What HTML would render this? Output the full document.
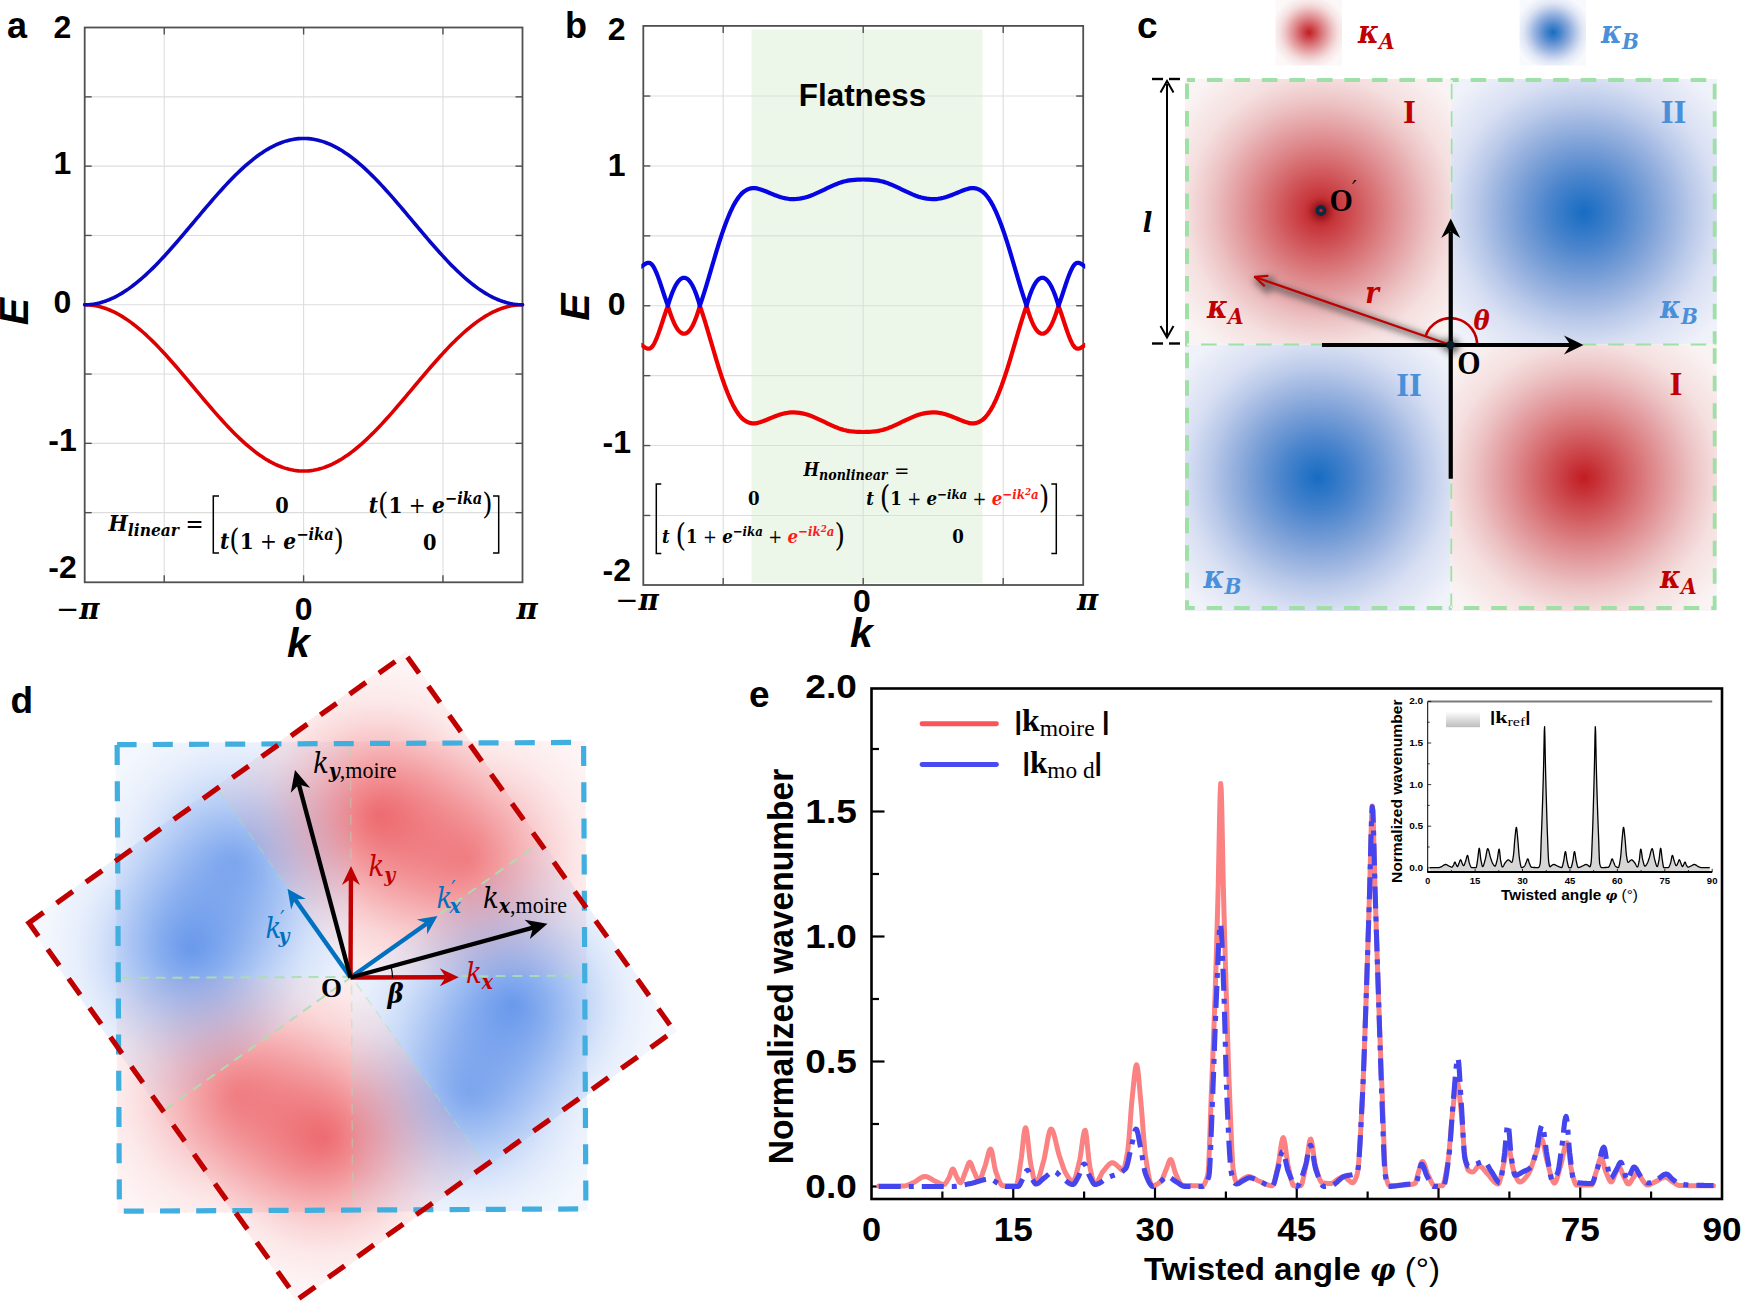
<!DOCTYPE html>
<html><head><meta charset="utf-8"><title>Figure</title>
<style>html,body{margin:0;padding:0;background:#fff;overflow:hidden}svg{display:block}</style></head>
<body>
<svg width="1745" height="1305" viewBox="0 0 1745 1305">
<rect width="1745" height="1305" fill="#fff"/>
<g id="pa">
<rect x="84.7" y="27.5" width="437.8" height="554.8" fill="#fff"/>
<line x1="164.24" y1="27.5" x2="164.24" y2="582.3" stroke="#dddddd" stroke-width="1.1" />
<line x1="303.6" y1="27.5" x2="303.6" y2="582.3" stroke="#dddddd" stroke-width="1.1" />
<line x1="442.96" y1="27.5" x2="442.96" y2="582.3" stroke="#dddddd" stroke-width="1.1" />
<line x1="84.7" y1="512.65" x2="522.5" y2="512.65" stroke="#dddddd" stroke-width="1.1" />
<line x1="84.7" y1="443.35" x2="522.5" y2="443.35" stroke="#dddddd" stroke-width="1.1" />
<line x1="84.7" y1="374.05" x2="522.5" y2="374.05" stroke="#dddddd" stroke-width="1.1" />
<line x1="84.7" y1="304.75" x2="522.5" y2="304.75" stroke="#dddddd" stroke-width="1.1" />
<line x1="84.7" y1="235.45" x2="522.5" y2="235.45" stroke="#dddddd" stroke-width="1.1" />
<line x1="84.7" y1="166.15" x2="522.5" y2="166.15" stroke="#dddddd" stroke-width="1.1" />
<line x1="84.7" y1="96.85" x2="522.5" y2="96.85" stroke="#dddddd" stroke-width="1.1" />
<line x1="164.24" y1="27.5" x2="164.24" y2="34.5" stroke="#505050" stroke-width="1.4" />
<line x1="164.24" y1="582.3" x2="164.24" y2="575.3" stroke="#505050" stroke-width="1.4" />
<line x1="303.6" y1="27.5" x2="303.6" y2="34.5" stroke="#505050" stroke-width="1.4" />
<line x1="303.6" y1="582.3" x2="303.6" y2="575.3" stroke="#505050" stroke-width="1.4" />
<line x1="442.96" y1="27.5" x2="442.96" y2="34.5" stroke="#505050" stroke-width="1.4" />
<line x1="442.96" y1="582.3" x2="442.96" y2="575.3" stroke="#505050" stroke-width="1.4" />
<line x1="84.7" y1="512.65" x2="91.7" y2="512.65" stroke="#505050" stroke-width="1.4" />
<line x1="522.5" y1="512.65" x2="515.5" y2="512.65" stroke="#505050" stroke-width="1.4" />
<line x1="84.7" y1="443.35" x2="91.7" y2="443.35" stroke="#505050" stroke-width="1.4" />
<line x1="522.5" y1="443.35" x2="515.5" y2="443.35" stroke="#505050" stroke-width="1.4" />
<line x1="84.7" y1="374.05" x2="91.7" y2="374.05" stroke="#505050" stroke-width="1.4" />
<line x1="522.5" y1="374.05" x2="515.5" y2="374.05" stroke="#505050" stroke-width="1.4" />
<line x1="84.7" y1="304.75" x2="91.7" y2="304.75" stroke="#505050" stroke-width="1.4" />
<line x1="522.5" y1="304.75" x2="515.5" y2="304.75" stroke="#505050" stroke-width="1.4" />
<line x1="84.7" y1="235.45" x2="91.7" y2="235.45" stroke="#505050" stroke-width="1.4" />
<line x1="522.5" y1="235.45" x2="515.5" y2="235.45" stroke="#505050" stroke-width="1.4" />
<line x1="84.7" y1="166.15" x2="91.7" y2="166.15" stroke="#505050" stroke-width="1.4" />
<line x1="522.5" y1="166.15" x2="515.5" y2="166.15" stroke="#505050" stroke-width="1.4" />
<line x1="84.7" y1="96.85" x2="91.7" y2="96.85" stroke="#505050" stroke-width="1.4" />
<line x1="522.5" y1="96.85" x2="515.5" y2="96.85" stroke="#505050" stroke-width="1.4" />
<rect x="84.7" y="27.5" width="437.8" height="554.8" fill="none" stroke="#505050" stroke-width="1.8"/>
<path d="M84.69,304.75 L87.13,304.8 L89.56,304.95 L91.99,305.21 L94.42,305.56 L96.86,306.01 L99.29,306.57 L101.72,307.22 L104.15,307.97 L106.58,308.82 L109.02,309.77 L111.45,310.81 L113.88,311.94 L116.31,313.17 L118.75,314.48 L121.18,315.89 L123.61,317.39 L126.04,318.97 L128.48,320.63 L130.91,322.38 L133.34,324.21 L135.77,326.11 L138.2,328.09 L140.64,330.14 L143.07,332.27 L145.5,334.46 L147.93,336.71 L150.37,339.03 L152.8,341.41 L155.23,343.84 L157.66,346.33 L160.09,348.87 L162.53,351.46 L164.96,354.09 L167.39,356.76 L169.82,359.47 L172.26,362.21 L174.69,364.99 L177.12,367.79 L179.55,370.62 L181.99,373.47 L184.42,376.34 L186.85,379.22 L189.28,382.11 L191.71,385.01 L194.15,387.91 L196.58,390.81 L199.01,393.71 L201.44,396.6 L203.88,399.48 L206.31,402.35 L208.74,405.2 L211.17,408.03 L213.61,410.83 L216.04,413.61 L218.47,416.35 L220.9,419.06 L223.33,421.73 L225.77,424.36 L228.2,426.95 L230.63,429.49 L233.06,431.98 L235.5,434.41 L237.93,436.79 L240.36,439.11 L242.79,441.36 L245.23,443.55 L247.66,445.68 L250.09,447.73 L252.52,449.71 L254.95,451.61 L257.39,453.44 L259.82,455.19 L262.25,456.85 L264.68,458.43 L267.12,459.93 L269.55,461.34 L271.98,462.65 L274.41,463.88 L276.84,465.01 L279.28,466.05 L281.71,467 L284.14,467.85 L286.57,468.6 L289.01,469.25 L291.44,469.81 L293.87,470.26 L296.3,470.61 L298.74,470.87 L301.17,471.02 L303.6,471.07 L306.03,471.02 L308.46,470.87 L310.9,470.61 L313.33,470.26 L315.76,469.81 L318.19,469.25 L320.63,468.6 L323.06,467.85 L325.49,467 L327.92,466.05 L330.36,465.01 L332.79,463.88 L335.22,462.65 L337.65,461.34 L340.08,459.93 L342.52,458.43 L344.95,456.85 L347.38,455.19 L349.81,453.44 L352.25,451.61 L354.68,449.71 L357.11,447.73 L359.54,445.68 L361.97,443.55 L364.41,441.36 L366.84,439.11 L369.27,436.79 L371.7,434.41 L374.14,431.98 L376.57,429.49 L379,426.95 L381.43,424.36 L383.87,421.73 L386.3,419.06 L388.73,416.35 L391.16,413.61 L393.59,410.83 L396.03,408.03 L398.46,405.2 L400.89,402.35 L403.32,399.48 L405.76,396.6 L408.19,393.71 L410.62,390.81 L413.05,387.91 L415.49,385.01 L417.92,382.11 L420.35,379.22 L422.78,376.34 L425.21,373.47 L427.65,370.62 L430.08,367.79 L432.51,364.99 L434.94,362.21 L437.38,359.47 L439.81,356.76 L442.24,354.09 L444.67,351.46 L447.11,348.87 L449.54,346.33 L451.97,343.84 L454.4,341.41 L456.83,339.03 L459.27,336.71 L461.7,334.46 L464.13,332.27 L466.56,330.14 L469,328.09 L471.43,326.11 L473.86,324.21 L476.29,322.38 L478.72,320.63 L481.16,318.97 L483.59,317.39 L486.02,315.89 L488.45,314.48 L490.89,313.17 L493.32,311.94 L495.75,310.81 L498.18,309.77 L500.62,308.82 L503.05,307.97 L505.48,307.22 L507.91,306.57 L510.34,306.01 L512.78,305.56 L515.21,305.21 L517.64,304.95 L520.07,304.8 L522.51,304.75" fill="none" stroke="#dc0000" stroke-width="3.6" stroke-linejoin="round" stroke-linecap="round" />
<path d="M84.69,304.75 L87.13,304.7 L89.56,304.55 L91.99,304.29 L94.42,303.94 L96.86,303.49 L99.29,302.93 L101.72,302.28 L104.15,301.53 L106.58,300.68 L109.02,299.73 L111.45,298.69 L113.88,297.56 L116.31,296.33 L118.75,295.02 L121.18,293.61 L123.61,292.11 L126.04,290.53 L128.48,288.87 L130.91,287.12 L133.34,285.29 L135.77,283.39 L138.2,281.41 L140.64,279.36 L143.07,277.23 L145.5,275.04 L147.93,272.79 L150.37,270.47 L152.8,268.09 L155.23,265.66 L157.66,263.17 L160.09,260.63 L162.53,258.04 L164.96,255.41 L167.39,252.74 L169.82,250.03 L172.26,247.29 L174.69,244.51 L177.12,241.71 L179.55,238.88 L181.99,236.03 L184.42,233.16 L186.85,230.28 L189.28,227.39 L191.71,224.49 L194.15,221.59 L196.58,218.69 L199.01,215.79 L201.44,212.9 L203.88,210.02 L206.31,207.15 L208.74,204.3 L211.17,201.47 L213.61,198.67 L216.04,195.89 L218.47,193.15 L220.9,190.44 L223.33,187.77 L225.77,185.14 L228.2,182.55 L230.63,180.01 L233.06,177.52 L235.5,175.09 L237.93,172.71 L240.36,170.39 L242.79,168.14 L245.23,165.95 L247.66,163.82 L250.09,161.77 L252.52,159.79 L254.95,157.89 L257.39,156.06 L259.82,154.31 L262.25,152.65 L264.68,151.07 L267.12,149.57 L269.55,148.16 L271.98,146.85 L274.41,145.62 L276.84,144.49 L279.28,143.45 L281.71,142.5 L284.14,141.65 L286.57,140.9 L289.01,140.25 L291.44,139.69 L293.87,139.24 L296.3,138.89 L298.74,138.63 L301.17,138.48 L303.6,138.43 L306.03,138.48 L308.46,138.63 L310.9,138.89 L313.33,139.24 L315.76,139.69 L318.19,140.25 L320.63,140.9 L323.06,141.65 L325.49,142.5 L327.92,143.45 L330.36,144.49 L332.79,145.62 L335.22,146.85 L337.65,148.16 L340.08,149.57 L342.52,151.07 L344.95,152.65 L347.38,154.31 L349.81,156.06 L352.25,157.89 L354.68,159.79 L357.11,161.77 L359.54,163.82 L361.97,165.95 L364.41,168.14 L366.84,170.39 L369.27,172.71 L371.7,175.09 L374.14,177.52 L376.57,180.01 L379,182.55 L381.43,185.14 L383.87,187.77 L386.3,190.44 L388.73,193.15 L391.16,195.89 L393.59,198.67 L396.03,201.47 L398.46,204.3 L400.89,207.15 L403.32,210.02 L405.76,212.9 L408.19,215.79 L410.62,218.69 L413.05,221.59 L415.49,224.49 L417.92,227.39 L420.35,230.28 L422.78,233.16 L425.21,236.03 L427.65,238.88 L430.08,241.71 L432.51,244.51 L434.94,247.29 L437.38,250.03 L439.81,252.74 L442.24,255.41 L444.67,258.04 L447.11,260.63 L449.54,263.17 L451.97,265.66 L454.4,268.09 L456.83,270.47 L459.27,272.79 L461.7,275.04 L464.13,277.23 L466.56,279.36 L469,281.41 L471.43,283.39 L473.86,285.29 L476.29,287.12 L478.72,288.87 L481.16,290.53 L483.59,292.11 L486.02,293.61 L488.45,295.02 L490.89,296.33 L493.32,297.56 L495.75,298.69 L498.18,299.73 L500.62,300.68 L503.05,301.53 L505.48,302.28 L507.91,302.93 L510.34,303.49 L512.78,303.94 L515.21,304.29 L517.64,304.55 L520.07,304.7 L522.51,304.75" fill="none" stroke="#0808c4" stroke-width="3.6" stroke-linejoin="round" stroke-linecap="round" />
<text x="7" y="37.5" font-family='"Liberation Sans", Arial, sans-serif' font-size="36" font-weight="bold" font-style="normal" fill="#000" text-anchor="start" >a</text>
<text x="62.5" y="37.5" font-family='"Liberation Sans", Arial, sans-serif' font-size="32" font-weight="bold" font-style="normal" fill="#000" text-anchor="middle" >2</text>
<text x="62.5" y="174" font-family='"Liberation Sans", Arial, sans-serif' font-size="32" font-weight="bold" font-style="normal" fill="#000" text-anchor="middle" >1</text>
<text x="62.5" y="313.2" font-family='"Liberation Sans", Arial, sans-serif' font-size="32" font-weight="bold" font-style="normal" fill="#000" text-anchor="middle" >0</text>
<text x="62.5" y="451.3" font-family='"Liberation Sans", Arial, sans-serif' font-size="32" font-weight="bold" font-style="normal" fill="#000" text-anchor="middle" >-1</text>
<text x="62.5" y="577.5" font-family='"Liberation Sans", Arial, sans-serif' font-size="32" font-weight="bold" font-style="normal" fill="#000" text-anchor="middle" >-2</text>
<text x="0" y="0" font-family='"Liberation Sans", Arial, sans-serif' font-size="41" font-weight="bold" font-style="italic" fill="#000" text-anchor="middle" transform="translate(28 311.5) rotate(-90)">E</text>
<text x="303.75" y="619.8" font-family='"Liberation Sans", Arial, sans-serif' font-size="32" font-weight="bold" font-style="normal" fill="#000" text-anchor="middle" >0</text>
<text x="56" y="618.8" font-family='"DejaVu Serif", "Liberation Serif", serif' font-size="29" font-weight="bold" font-style="italic" fill="#000" text-anchor="start" textLength="43.5" lengthAdjust="spacingAndGlyphs"><tspan font-weight="normal">−</tspan>π</text>
<text x="527" y="618.8" font-family='"DejaVu Serif", "Liberation Serif", serif' font-size="29" font-weight="bold" font-style="italic" fill="#000" text-anchor="middle" >π</text>
<text x="298.5" y="657" font-family='"Liberation Sans", Arial, sans-serif' font-size="41" font-weight="bold" font-style="italic" fill="#000" text-anchor="middle" >k</text>
<text x="108.5" y="531.3" font-family='"DejaVu Serif Condensed", "DejaVu Serif", "Liberation Serif", serif' font-size="22.5" font-weight="bold" font-style="italic" fill="#000" text-anchor="start" textLength="70.5" lengthAdjust="spacingAndGlyphs">H<tspan font-size="17" dy="4.3">linear</tspan></text>
<text x="194.5" y="532" font-family='"DejaVu Serif Condensed", "DejaVu Serif", "Liberation Serif", serif' font-size="24" font-weight="normal" font-style="normal" fill="#000" text-anchor="middle" >=</text>
<path d="M219,496 h-5.7 v57 h5.7" fill="none" stroke="#000" stroke-width="1.5"/>
<path d="M493,496 h5.7 v57 h-5.7" fill="none" stroke="#000" stroke-width="1.5"/>
<text x="220" y="548.8" font-family='"DejaVu Serif Condensed", "DejaVu Serif", "Liberation Serif", serif' font-size="22" font-weight="bold" font-style="italic" fill="#000" text-anchor="start" textLength="124" lengthAdjust="spacingAndGlyphs">t<tspan font-style="normal" font-weight="normal" font-size="29" dy="1.5">(</tspan><tspan dy="-1.5" font-style="normal">1</tspan><tspan font-style="normal" font-weight="normal"> + </tspan>e<tspan font-size="16" dy="-8.8">−ika</tspan><tspan font-style="normal" font-weight="normal" font-size="29" dy="10.3">)</tspan></text>
<text x="368.7" y="512.6" font-family='"DejaVu Serif Condensed", "DejaVu Serif", "Liberation Serif", serif' font-size="22" font-weight="bold" font-style="italic" fill="#000" text-anchor="start" textLength="124" lengthAdjust="spacingAndGlyphs">t<tspan font-style="normal" font-weight="normal" font-size="29" dy="1.5">(</tspan><tspan dy="-1.5" font-style="normal">1</tspan><tspan font-style="normal" font-weight="normal"> + </tspan>e<tspan font-size="16" dy="-8.8">−ika</tspan><tspan font-style="normal" font-weight="normal" font-size="29" dy="10.3">)</tspan></text>
<text x="282" y="513" font-family='"DejaVu Serif Condensed", "DejaVu Serif", "Liberation Serif", serif' font-size="21.5" font-weight="bold" font-style="normal" fill="#000" text-anchor="middle" >0</text>
<text x="429.7" y="549.5" font-family='"DejaVu Serif Condensed", "DejaVu Serif", "Liberation Serif", serif' font-size="21.5" font-weight="bold" font-style="normal" fill="#000" text-anchor="middle" >0</text>
</g>
<g id="pb">
<rect x="643.3" y="25.9" width="439.9" height="559.1" fill="#fff"/>
<rect x="751.5" y="29.5" width="231" height="553.5" fill="#edf7e9"/>
<line x1="723.2" y1="25.9" x2="723.2" y2="585" stroke="#dddddd" stroke-width="1.1" />
<line x1="863.2" y1="25.9" x2="863.2" y2="585" stroke="#dddddd" stroke-width="1.1" />
<line x1="1003.2" y1="25.9" x2="1003.2" y2="585" stroke="#dddddd" stroke-width="1.1" />
<line x1="643.3" y1="515.45" x2="1083.2" y2="515.45" stroke="#dddddd" stroke-width="1.1" />
<line x1="643.3" y1="445.55" x2="1083.2" y2="445.55" stroke="#dddddd" stroke-width="1.1" />
<line x1="643.3" y1="375.65" x2="1083.2" y2="375.65" stroke="#dddddd" stroke-width="1.1" />
<line x1="643.3" y1="305.75" x2="1083.2" y2="305.75" stroke="#dddddd" stroke-width="1.1" />
<line x1="643.3" y1="235.85" x2="1083.2" y2="235.85" stroke="#dddddd" stroke-width="1.1" />
<line x1="643.3" y1="165.95" x2="1083.2" y2="165.95" stroke="#dddddd" stroke-width="1.1" />
<line x1="643.3" y1="96.05" x2="1083.2" y2="96.05" stroke="#dddddd" stroke-width="1.1" />
<line x1="723.2" y1="25.9" x2="723.2" y2="32.9" stroke="#505050" stroke-width="1.4" />
<line x1="723.2" y1="585" x2="723.2" y2="578" stroke="#505050" stroke-width="1.4" />
<line x1="863.2" y1="25.9" x2="863.2" y2="32.9" stroke="#505050" stroke-width="1.4" />
<line x1="863.2" y1="585" x2="863.2" y2="578" stroke="#505050" stroke-width="1.4" />
<line x1="1003.2" y1="25.9" x2="1003.2" y2="32.9" stroke="#505050" stroke-width="1.4" />
<line x1="1003.2" y1="585" x2="1003.2" y2="578" stroke="#505050" stroke-width="1.4" />
<line x1="643.3" y1="515.45" x2="650.3" y2="515.45" stroke="#505050" stroke-width="1.4" />
<line x1="1083.2" y1="515.45" x2="1076.2" y2="515.45" stroke="#505050" stroke-width="1.4" />
<line x1="643.3" y1="445.55" x2="650.3" y2="445.55" stroke="#505050" stroke-width="1.4" />
<line x1="1083.2" y1="445.55" x2="1076.2" y2="445.55" stroke="#505050" stroke-width="1.4" />
<line x1="643.3" y1="375.65" x2="650.3" y2="375.65" stroke="#505050" stroke-width="1.4" />
<line x1="1083.2" y1="375.65" x2="1076.2" y2="375.65" stroke="#505050" stroke-width="1.4" />
<line x1="643.3" y1="305.75" x2="650.3" y2="305.75" stroke="#505050" stroke-width="1.4" />
<line x1="1083.2" y1="305.75" x2="1076.2" y2="305.75" stroke="#505050" stroke-width="1.4" />
<line x1="643.3" y1="235.85" x2="650.3" y2="235.85" stroke="#505050" stroke-width="1.4" />
<line x1="1083.2" y1="235.85" x2="1076.2" y2="235.85" stroke="#505050" stroke-width="1.4" />
<line x1="643.3" y1="165.95" x2="650.3" y2="165.95" stroke="#505050" stroke-width="1.4" />
<line x1="1083.2" y1="165.95" x2="1076.2" y2="165.95" stroke="#505050" stroke-width="1.4" />
<line x1="643.3" y1="96.05" x2="650.3" y2="96.05" stroke="#505050" stroke-width="1.4" />
<line x1="1083.2" y1="96.05" x2="1076.2" y2="96.05" stroke="#505050" stroke-width="1.4" />
<rect x="643.3" y="25.9" width="439.9" height="559.1" fill="none" stroke="#505050" stroke-width="1.8"/>
<clipPath id="cpb"><rect x="641.3" y="25.9" width="443.9000000000001" height="559.1"/></clipPath>
<g clip-path="url(#cpb)">
<path d="M641.19,344.89 L641.64,345.18 L642.09,345.48 L642.55,345.79 L643,346.1 L643.45,346.42 L643.9,346.73 L644.36,347.04 L644.81,347.33 L645.26,347.6 L645.72,347.86 L646.17,348.09 L646.62,348.28 L647.07,348.45 L647.53,348.57 L647.98,348.66 L648.43,348.69 L648.89,348.67 L649.34,348.6 L649.79,348.46 L650.24,348.26 L650.7,347.99 L651.15,347.65 L651.6,347.23 L652.05,346.73 L652.51,346.17 L652.96,345.53 L653.41,344.83 L653.87,344.07 L654.32,343.24 L654.77,342.36 L655.22,341.43 L655.68,340.44 L656.13,339.41 L656.58,338.33 L657.03,337.22 L657.49,336.06 L657.94,334.87 L658.39,333.64 L658.85,332.39 L659.3,331.11 L659.75,329.8 L660.2,328.48 L660.66,327.14 L661.11,325.78 L661.56,324.41 L662.01,323.04 L662.47,321.66 L662.92,320.27 L663.37,318.89 L663.83,317.51 L664.28,316.14 L664.73,314.77 L665.18,313.42 L665.64,312.09 L666.09,310.77 L666.54,309.47 L666.99,308.2 L667.45,306.96 L667.9,305.75 L667.9,305.75 L668.44,307.57 L668.98,309.33 L669.52,311.03 L670.06,312.67 L670.61,314.26 L671.15,315.78 L671.69,317.23 L672.23,318.63 L672.77,319.97 L673.31,321.25 L673.85,322.46 L674.39,323.62 L674.93,324.71 L675.47,325.74 L676.02,326.71 L676.56,327.62 L677.1,328.46 L677.64,329.25 L678.18,329.97 L678.72,330.62 L679.26,331.22 L679.8,331.75 L680.34,332.22 L680.88,332.63 L681.43,332.97 L681.97,333.25 L682.51,333.46 L683.05,333.62 L683.59,333.7 L684.13,333.73 L684.67,333.69 L685.21,333.58 L685.75,333.41 L686.29,333.18 L686.84,332.88 L687.38,332.52 L687.92,332.09 L688.46,331.59 L689,331.03 L689.54,330.4 L690.08,329.71 L690.62,328.95 L691.16,328.13 L691.7,327.23 L692.25,326.28 L692.79,325.25 L693.33,324.16 L693.87,323 L694.41,321.77 L694.95,320.48 L695.49,319.11 L696.03,317.68 L696.57,316.18 L697.11,314.62 L697.66,312.98 L698.2,311.28 L698.74,309.5 L699.28,307.66 L699.82,305.75 L699.82,305.75 L702.59,313.94 L705.36,322.72 L708.13,331.9 L710.9,341.3 L713.67,350.75 L716.43,360.07 L719.2,369.08 L721.97,377.59 L724.74,385.52 L727.51,392.8 L730.28,399.37 L733.05,405.16 L735.82,410.13 L738.59,414.27 L741.36,417.58 L744.13,420.09 L746.9,421.83 L749.66,422.89 L752.43,423.35 L755.2,423.31 L757.97,422.84 L760.74,422.06 L763.51,421.06 L766.28,419.94 L769.05,418.77 L771.82,417.6 L774.59,416.47 L777.36,415.42 L780.13,414.5 L782.89,413.74 L785.66,413.13 L788.43,412.71 L791.2,412.46 L793.97,412.41 L796.74,412.54 L799.51,412.86 L802.28,413.35 L805.05,414.02 L807.82,414.84 L810.59,415.81 L813.36,416.88 L816.12,418.06 L818.89,419.3 L821.66,420.61 L824.43,421.94 L827.2,423.28 L829.97,424.6 L832.74,425.87 L835.51,427.07 L838.28,428.16 L841.05,429.12 L843.82,429.92 L846.59,430.57 L849.35,431.07 L852.12,431.44 L854.89,431.71 L857.66,431.87 L860.43,431.96 L863.2,431.99 L863.2,431.99 L865.97,431.96 L868.74,431.87 L871.51,431.71 L874.28,431.44 L877.05,431.07 L879.81,430.57 L882.58,429.92 L885.35,429.12 L888.12,428.16 L890.89,427.07 L893.66,425.87 L896.43,424.6 L899.2,423.28 L901.97,421.94 L904.74,420.61 L907.51,419.3 L910.28,418.06 L913.04,416.88 L915.81,415.81 L918.58,414.84 L921.35,414.02 L924.12,413.35 L926.89,412.86 L929.66,412.54 L932.43,412.41 L935.2,412.46 L937.97,412.71 L940.74,413.13 L943.51,413.74 L946.27,414.5 L949.04,415.42 L951.81,416.47 L954.58,417.6 L957.35,418.77 L960.12,419.94 L962.89,421.06 L965.66,422.06 L968.43,422.84 L971.2,423.31 L973.97,423.35 L976.74,422.89 L979.5,421.83 L982.27,420.09 L985.04,417.58 L987.81,414.27 L990.58,410.13 L993.35,405.16 L996.12,399.37 L998.89,392.8 L1001.66,385.52 L1004.43,377.59 L1007.2,369.08 L1009.97,360.07 L1012.73,350.75 L1015.5,341.3 L1018.27,331.9 L1021.04,322.72 L1023.81,313.94 L1026.58,305.75 L1026.58,305.75 L1027.12,307.66 L1027.66,309.5 L1028.2,311.28 L1028.74,312.98 L1029.29,314.62 L1029.83,316.18 L1030.37,317.68 L1030.91,319.11 L1031.45,320.48 L1031.99,321.77 L1032.53,323 L1033.07,324.16 L1033.61,325.25 L1034.15,326.28 L1034.7,327.23 L1035.24,328.13 L1035.78,328.95 L1036.32,329.71 L1036.86,330.4 L1037.4,331.03 L1037.94,331.59 L1038.48,332.09 L1039.02,332.52 L1039.56,332.88 L1040.11,333.18 L1040.65,333.41 L1041.19,333.58 L1041.73,333.69 L1042.27,333.73 L1042.81,333.7 L1043.35,333.62 L1043.89,333.46 L1044.43,333.25 L1044.97,332.97 L1045.52,332.63 L1046.06,332.22 L1046.6,331.75 L1047.14,331.22 L1047.68,330.62 L1048.22,329.97 L1048.76,329.25 L1049.3,328.46 L1049.84,327.62 L1050.38,326.71 L1050.93,325.74 L1051.47,324.71 L1052.01,323.62 L1052.55,322.46 L1053.09,321.25 L1053.63,319.97 L1054.17,318.63 L1054.71,317.23 L1055.25,315.78 L1055.79,314.26 L1056.34,312.67 L1056.88,311.03 L1057.42,309.33 L1057.96,307.57 L1058.5,305.75 L1058.5,305.75 L1058.95,306.96 L1059.41,308.2 L1059.86,309.47 L1060.31,310.77 L1060.76,312.09 L1061.22,313.42 L1061.67,314.77 L1062.12,316.14 L1062.57,317.51 L1063.03,318.89 L1063.48,320.27 L1063.93,321.66 L1064.39,323.04 L1064.84,324.41 L1065.29,325.78 L1065.74,327.14 L1066.2,328.48 L1066.65,329.8 L1067.1,331.11 L1067.55,332.39 L1068.01,333.64 L1068.46,334.87 L1068.91,336.06 L1069.37,337.22 L1069.82,338.33 L1070.27,339.41 L1070.72,340.44 L1071.18,341.43 L1071.63,342.36 L1072.08,343.24 L1072.53,344.07 L1072.99,344.83 L1073.44,345.53 L1073.89,346.17 L1074.35,346.73 L1074.8,347.23 L1075.25,347.65 L1075.7,347.99 L1076.16,348.26 L1076.61,348.46 L1077.06,348.6 L1077.51,348.67 L1077.97,348.69 L1078.42,348.66 L1078.87,348.57 L1079.33,348.45 L1079.78,348.28 L1080.23,348.09 L1080.68,347.86 L1081.14,347.6 L1081.59,347.33 L1082.04,347.04 L1082.5,346.73 L1082.95,346.42 L1083.4,346.1 L1083.85,345.79 L1084.31,345.48 L1084.76,345.18 L1085.21,344.89" fill="none" stroke="#ee0000" stroke-width="4.2" stroke-linejoin="round" stroke-linecap="round" />
<path d="M641.19,266.61 L641.64,266.32 L642.09,266.02 L642.55,265.71 L643,265.4 L643.45,265.08 L643.9,264.77 L644.36,264.46 L644.81,264.17 L645.26,263.9 L645.72,263.64 L646.17,263.41 L646.62,263.22 L647.07,263.05 L647.53,262.93 L647.98,262.84 L648.43,262.81 L648.89,262.83 L649.34,262.9 L649.79,263.04 L650.24,263.24 L650.7,263.51 L651.15,263.85 L651.6,264.27 L652.05,264.77 L652.51,265.33 L652.96,265.97 L653.41,266.67 L653.87,267.43 L654.32,268.26 L654.77,269.14 L655.22,270.07 L655.68,271.06 L656.13,272.09 L656.58,273.17 L657.03,274.28 L657.49,275.44 L657.94,276.63 L658.39,277.86 L658.85,279.11 L659.3,280.39 L659.75,281.7 L660.2,283.02 L660.66,284.36 L661.11,285.72 L661.56,287.09 L662.01,288.46 L662.47,289.84 L662.92,291.23 L663.37,292.61 L663.83,293.99 L664.28,295.36 L664.73,296.73 L665.18,298.08 L665.64,299.41 L666.09,300.73 L666.54,302.03 L666.99,303.3 L667.45,304.54 L667.9,305.75 L667.9,305.75 L668.44,303.93 L668.98,302.17 L669.52,300.47 L670.06,298.83 L670.61,297.24 L671.15,295.72 L671.69,294.27 L672.23,292.87 L672.77,291.53 L673.31,290.25 L673.85,289.04 L674.39,287.88 L674.93,286.79 L675.47,285.76 L676.02,284.79 L676.56,283.88 L677.1,283.04 L677.64,282.25 L678.18,281.53 L678.72,280.88 L679.26,280.28 L679.8,279.75 L680.34,279.28 L680.88,278.87 L681.43,278.53 L681.97,278.25 L682.51,278.04 L683.05,277.88 L683.59,277.8 L684.13,277.77 L684.67,277.81 L685.21,277.92 L685.75,278.09 L686.29,278.32 L686.84,278.62 L687.38,278.98 L687.92,279.41 L688.46,279.91 L689,280.47 L689.54,281.1 L690.08,281.79 L690.62,282.55 L691.16,283.37 L691.7,284.27 L692.25,285.22 L692.79,286.25 L693.33,287.34 L693.87,288.5 L694.41,289.73 L694.95,291.02 L695.49,292.39 L696.03,293.82 L696.57,295.32 L697.11,296.88 L697.66,298.52 L698.2,300.22 L698.74,302 L699.28,303.84 L699.82,305.75 L699.82,305.75 L702.59,297.56 L705.36,288.78 L708.13,279.6 L710.9,270.2 L713.67,260.75 L716.43,251.43 L719.2,242.42 L721.97,233.91 L724.74,225.98 L727.51,218.7 L730.28,212.13 L733.05,206.34 L735.82,201.37 L738.59,197.23 L741.36,193.92 L744.13,191.41 L746.9,189.67 L749.66,188.61 L752.43,188.15 L755.2,188.19 L757.97,188.66 L760.74,189.44 L763.51,190.44 L766.28,191.56 L769.05,192.73 L771.82,193.9 L774.59,195.03 L777.36,196.08 L780.13,197 L782.89,197.76 L785.66,198.37 L788.43,198.79 L791.2,199.04 L793.97,199.09 L796.74,198.96 L799.51,198.64 L802.28,198.15 L805.05,197.48 L807.82,196.66 L810.59,195.69 L813.36,194.62 L816.12,193.44 L818.89,192.2 L821.66,190.89 L824.43,189.56 L827.2,188.22 L829.97,186.9 L832.74,185.63 L835.51,184.43 L838.28,183.34 L841.05,182.38 L843.82,181.58 L846.59,180.93 L849.35,180.43 L852.12,180.06 L854.89,179.79 L857.66,179.63 L860.43,179.54 L863.2,179.51 L863.2,179.51 L865.97,179.54 L868.74,179.63 L871.51,179.79 L874.28,180.06 L877.05,180.43 L879.81,180.93 L882.58,181.58 L885.35,182.38 L888.12,183.34 L890.89,184.43 L893.66,185.63 L896.43,186.9 L899.2,188.22 L901.97,189.56 L904.74,190.89 L907.51,192.2 L910.28,193.44 L913.04,194.62 L915.81,195.69 L918.58,196.66 L921.35,197.48 L924.12,198.15 L926.89,198.64 L929.66,198.96 L932.43,199.09 L935.2,199.04 L937.97,198.79 L940.74,198.37 L943.51,197.76 L946.27,197 L949.04,196.08 L951.81,195.03 L954.58,193.9 L957.35,192.73 L960.12,191.56 L962.89,190.44 L965.66,189.44 L968.43,188.66 L971.2,188.19 L973.97,188.15 L976.74,188.61 L979.5,189.67 L982.27,191.41 L985.04,193.92 L987.81,197.23 L990.58,201.37 L993.35,206.34 L996.12,212.13 L998.89,218.7 L1001.66,225.98 L1004.43,233.91 L1007.2,242.42 L1009.97,251.43 L1012.73,260.75 L1015.5,270.2 L1018.27,279.6 L1021.04,288.78 L1023.81,297.56 L1026.58,305.75 L1026.58,305.75 L1027.12,303.84 L1027.66,302 L1028.2,300.22 L1028.74,298.52 L1029.29,296.88 L1029.83,295.32 L1030.37,293.82 L1030.91,292.39 L1031.45,291.02 L1031.99,289.73 L1032.53,288.5 L1033.07,287.34 L1033.61,286.25 L1034.15,285.22 L1034.7,284.27 L1035.24,283.37 L1035.78,282.55 L1036.32,281.79 L1036.86,281.1 L1037.4,280.47 L1037.94,279.91 L1038.48,279.41 L1039.02,278.98 L1039.56,278.62 L1040.11,278.32 L1040.65,278.09 L1041.19,277.92 L1041.73,277.81 L1042.27,277.77 L1042.81,277.8 L1043.35,277.88 L1043.89,278.04 L1044.43,278.25 L1044.97,278.53 L1045.52,278.87 L1046.06,279.28 L1046.6,279.75 L1047.14,280.28 L1047.68,280.88 L1048.22,281.53 L1048.76,282.25 L1049.3,283.04 L1049.84,283.88 L1050.38,284.79 L1050.93,285.76 L1051.47,286.79 L1052.01,287.88 L1052.55,289.04 L1053.09,290.25 L1053.63,291.53 L1054.17,292.87 L1054.71,294.27 L1055.25,295.72 L1055.79,297.24 L1056.34,298.83 L1056.88,300.47 L1057.42,302.17 L1057.96,303.93 L1058.5,305.75 L1058.5,305.75 L1058.95,304.54 L1059.41,303.3 L1059.86,302.03 L1060.31,300.73 L1060.76,299.41 L1061.22,298.08 L1061.67,296.73 L1062.12,295.36 L1062.57,293.99 L1063.03,292.61 L1063.48,291.23 L1063.93,289.84 L1064.39,288.46 L1064.84,287.09 L1065.29,285.72 L1065.74,284.36 L1066.2,283.02 L1066.65,281.7 L1067.1,280.39 L1067.55,279.11 L1068.01,277.86 L1068.46,276.63 L1068.91,275.44 L1069.37,274.28 L1069.82,273.17 L1070.27,272.09 L1070.72,271.06 L1071.18,270.07 L1071.63,269.14 L1072.08,268.26 L1072.53,267.43 L1072.99,266.67 L1073.44,265.97 L1073.89,265.33 L1074.35,264.77 L1074.8,264.27 L1075.25,263.85 L1075.7,263.51 L1076.16,263.24 L1076.61,263.04 L1077.06,262.9 L1077.51,262.83 L1077.97,262.81 L1078.42,262.84 L1078.87,262.93 L1079.33,263.05 L1079.78,263.22 L1080.23,263.41 L1080.68,263.64 L1081.14,263.9 L1081.59,264.17 L1082.04,264.46 L1082.5,264.77 L1082.95,265.08 L1083.4,265.4 L1083.85,265.71 L1084.31,266.02 L1084.76,266.32 L1085.21,266.61" fill="none" stroke="#0606e4" stroke-width="4.2" stroke-linejoin="round" stroke-linecap="round" />
</g>
<text x="565" y="37.5" font-family='"Liberation Sans", Arial, sans-serif' font-size="36" font-weight="bold" font-style="normal" fill="#000" text-anchor="start" >b</text>
<text x="616.7" y="40" font-family='"Liberation Sans", Arial, sans-serif' font-size="32" font-weight="bold" font-style="normal" fill="#000" text-anchor="middle" >2</text>
<text x="616.7" y="175.5" font-family='"Liberation Sans", Arial, sans-serif' font-size="32" font-weight="bold" font-style="normal" fill="#000" text-anchor="middle" >1</text>
<text x="616.7" y="315" font-family='"Liberation Sans", Arial, sans-serif' font-size="32" font-weight="bold" font-style="normal" fill="#000" text-anchor="middle" >0</text>
<text x="616.7" y="453" font-family='"Liberation Sans", Arial, sans-serif' font-size="32" font-weight="bold" font-style="normal" fill="#000" text-anchor="middle" >-1</text>
<text x="616.7" y="581.3" font-family='"Liberation Sans", Arial, sans-serif' font-size="32" font-weight="bold" font-style="normal" fill="#000" text-anchor="middle" >-2</text>
<text x="0" y="0" font-family='"Liberation Sans", Arial, sans-serif' font-size="41" font-weight="bold" font-style="italic" fill="#000" text-anchor="middle" transform="translate(589.3 307) rotate(-90)">E</text>
<text x="862" y="611.5" font-family='"Liberation Sans", Arial, sans-serif' font-size="32" font-weight="bold" font-style="normal" fill="#000" text-anchor="middle" >0</text>
<text x="615.3" y="610.3" font-family='"DejaVu Serif", "Liberation Serif", serif' font-size="29" font-weight="bold" font-style="italic" fill="#000" text-anchor="start" textLength="43.5" lengthAdjust="spacingAndGlyphs"><tspan font-weight="normal">−</tspan>π</text>
<text x="1087.5" y="610.3" font-family='"DejaVu Serif", "Liberation Serif", serif' font-size="29" font-weight="bold" font-style="italic" fill="#000" text-anchor="middle" >π</text>
<text x="861.5" y="647" font-family='"Liberation Sans", Arial, sans-serif' font-size="41" font-weight="bold" font-style="italic" fill="#000" text-anchor="middle" >k</text>
<text x="862.5" y="106.3" font-family='"Liberation Sans", Arial, sans-serif' font-size="31" font-weight="bold" font-style="normal" fill="#000" text-anchor="middle" textLength="127.5" lengthAdjust="spacingAndGlyphs">Flatness</text>
<text x="803.5" y="476.3" font-family='"DejaVu Serif Condensed", "DejaVu Serif", "Liberation Serif", serif' font-size="19" font-weight="bold" font-style="italic" fill="#000" text-anchor="start" textLength="84" lengthAdjust="spacingAndGlyphs">H<tspan font-size="14.5" dy="3.8">nonlinear</tspan></text>
<text x="901.7" y="477.5" font-family='"DejaVu Serif Condensed", "DejaVu Serif", "Liberation Serif", serif' font-size="20" font-weight="normal" font-style="normal" fill="#000" text-anchor="middle" >=</text>
<path d="M661.3,484 h-5 v69.5 h5" fill="none" stroke="#000" stroke-width="1.5"/>
<path d="M1051.3,484 h5 v69.5 h-5" fill="none" stroke="#000" stroke-width="1.5"/>
<text x="662" y="542.5" font-family='"DejaVu Serif Condensed", "DejaVu Serif", "Liberation Serif", serif' font-size="19" font-weight="bold" font-style="italic" fill="#000" text-anchor="start" textLength="183" lengthAdjust="spacingAndGlyphs">t <tspan font-style="normal" font-weight="normal" font-size="31" dy="3">(</tspan><tspan dy="-3" font-style="normal">1</tspan><tspan font-style="normal" font-weight="normal"> + </tspan>e<tspan font-size="13.5" dy="-6.5">−ika</tspan><tspan dy="6.5" font-style="normal" font-weight="normal"> + </tspan><tspan fill="#ff1a1a">e<tspan font-size="13.5" dy="-6.5">−ik<tspan font-size="10" dy="-4">2</tspan><tspan dy="4">a</tspan></tspan></tspan><tspan font-style="normal" font-weight="normal" font-size="31" dy="9.5">)</tspan></text>
<text x="866.3" y="505" font-family='"DejaVu Serif Condensed", "DejaVu Serif", "Liberation Serif", serif' font-size="19" font-weight="bold" font-style="italic" fill="#000" text-anchor="start" textLength="183" lengthAdjust="spacingAndGlyphs">t <tspan font-style="normal" font-weight="normal" font-size="31" dy="3">(</tspan><tspan dy="-3" font-style="normal">1</tspan><tspan font-style="normal" font-weight="normal"> + </tspan>e<tspan font-size="13.5" dy="-6.5">−ika</tspan><tspan dy="6.5" font-style="normal" font-weight="normal"> + </tspan><tspan fill="#ff1a1a">e<tspan font-size="13.5" dy="-6.5">−ik<tspan font-size="10" dy="-4">2</tspan><tspan dy="4">a</tspan></tspan></tspan><tspan font-style="normal" font-weight="normal" font-size="31" dy="9.5">)</tspan></text>
<text x="753.8" y="505" font-family='"DejaVu Serif Condensed", "DejaVu Serif", "Liberation Serif", serif' font-size="18.5" font-weight="bold" font-style="normal" fill="#000" text-anchor="middle" >0</text>
<text x="958" y="543" font-family='"DejaVu Serif Condensed", "DejaVu Serif", "Liberation Serif", serif' font-size="18.5" font-weight="bold" font-style="normal" fill="#000" text-anchor="middle" >0</text>
</g>
<g id="pc">
<defs>
<radialGradient id="cq1" gradientUnits="userSpaceOnUse" cx="1320.5" cy="211.5" r="172"><stop offset="0" stop-color="#c11c22"/><stop offset="0.2" stop-color="#cf5256"/><stop offset="0.39" stop-color="#dd8588"/><stop offset="0.5" stop-color="#e4a1a4"/><stop offset="0.64" stop-color="#edc4c5"/><stop offset="0.78" stop-color="#f5dfdf"/><stop offset="1" stop-color="#faf3f3"/></radialGradient>
<radialGradient id="cq2" gradientUnits="userSpaceOnUse" cx="1584" cy="212.5" r="172"><stop offset="0" stop-color="#166cc2"/><stop offset="0.2" stop-color="#4883cc"/><stop offset="0.39" stop-color="#7ba0d7"/><stop offset="0.5" stop-color="#98b2df"/><stop offset="0.64" stop-color="#bccbea"/><stop offset="0.78" stop-color="#d9e0f3"/><stop offset="1" stop-color="#f0f2fa"/></radialGradient>
<radialGradient id="cq3" gradientUnits="userSpaceOnUse" cx="1318" cy="477.5" r="172"><stop offset="0" stop-color="#166cc2"/><stop offset="0.2" stop-color="#4883cc"/><stop offset="0.39" stop-color="#7ba0d7"/><stop offset="0.5" stop-color="#98b2df"/><stop offset="0.64" stop-color="#bccbea"/><stop offset="0.78" stop-color="#d9e0f3"/><stop offset="1" stop-color="#f0f2fa"/></radialGradient>
<radialGradient id="cq4" gradientUnits="userSpaceOnUse" cx="1584" cy="478" r="172"><stop offset="0" stop-color="#c11c22"/><stop offset="0.2" stop-color="#cf5256"/><stop offset="0.39" stop-color="#dd8588"/><stop offset="0.5" stop-color="#e4a1a4"/><stop offset="0.64" stop-color="#edc4c5"/><stop offset="0.78" stop-color="#f5dfdf"/><stop offset="1" stop-color="#faf3f3"/></radialGradient>
<radialGradient id="clg1" gradientUnits="userSpaceOnUse" cx="1309" cy="32.5" r="38"><stop offset="0" stop-color="#c11c22"/><stop offset="0.2" stop-color="#d05358"/><stop offset="0.39" stop-color="#de888b"/><stop offset="0.5" stop-color="#e6a4a7"/><stop offset="0.64" stop-color="#efc8c9"/><stop offset="0.78" stop-color="#f6e3e4"/><stop offset="1" stop-color="#fcf8f8"/></radialGradient>
<radialGradient id="clg2" gradientUnits="userSpaceOnUse" cx="1553" cy="32.5" r="38"><stop offset="0" stop-color="#166cc2"/><stop offset="0.2" stop-color="#4a85cc"/><stop offset="0.39" stop-color="#7fa3d9"/><stop offset="0.5" stop-color="#9cb6e1"/><stop offset="0.64" stop-color="#c2d0ec"/><stop offset="0.78" stop-color="#e0e7f5"/><stop offset="1" stop-color="#f8f9fd"/></radialGradient>
<filter id="cblur" x="-20%" y="-50%" width="140%" height="200%"><feGaussianBlur stdDeviation="3.2"/></filter>
<filter id="cblur2" x="-100%" y="-100%" width="300%" height="300%"><feGaussianBlur stdDeviation="3.5"/></filter>
</defs>
<rect x="1185" y="79" width="265.75" height="265.5" fill="url(#cq1)"/>
<rect x="1450.75" y="79" width="266.25" height="265.5" fill="url(#cq2)"/>
<rect x="1185" y="344.5" width="265.75" height="266.5" fill="url(#cq3)"/>
<rect x="1450.75" y="344.5" width="266.25" height="266.5" fill="url(#cq4)"/>
<rect x="1275.5" y="0" width="66.5" height="65.5" fill="url(#clg1)"/>
<rect x="1519.5" y="0" width="66.5" height="65.5" fill="url(#clg2)"/>
<text x="1358" y="42.5" font-family='"DejaVu Serif Condensed", "DejaVu Serif", "Liberation Serif", serif' font-size="31" font-weight="bold" font-style="italic" fill="#c00000" text-anchor="start" >κ<tspan font-size="22.32" dy="6.82">A</tspan></text>
<text x="1601" y="42.5" font-family='"DejaVu Serif Condensed", "DejaVu Serif", "Liberation Serif", serif' font-size="31" font-weight="bold" font-style="italic" fill="#4a90d9" text-anchor="start" >κ<tspan font-size="22.32" dy="6.82">B</tspan></text>
<clipPath id="ccp"><path clip-rule="evenodd" d="M1180,70 H1725 V620 H1180 Z M1189,82 V606 H1712.5 V82 Z"/><rect x="1450.75" y="80" width="1.9" height="139"/><rect x="1450.35" y="479" width="1.9" height="129"/><rect x="1187" y="343.6" width="135" height="1.9"/><rect x="1583" y="343.6" width="131" height="1.9"/></clipPath>
<g clip-path="url(#ccp)" fill="none" stroke="#9fe0a6" stroke-width="4">
<rect x="1187" y="80" width="263.75" height="264.5" stroke-dasharray="15.6 11.9" stroke-dashoffset="7.6"/>
<rect x="1450.75" y="344.5" width="263.75" height="263.5" stroke-dasharray="15.6 11.9" stroke-dashoffset="7.6"/>
<path d="M1450.75,80 H1714.5 V344.5" stroke-dasharray="15.6 11.9" stroke-dashoffset="7.6"/>
<path d="M1450.75,608 H1187 V344.5" stroke-dasharray="15.6 11.9" stroke-dashoffset="19"/>
</g>
<path d="M1453.5,347 L1258,281 M1258,281 L1267.47,289.91 M1258,281 L1270.95,279.89" stroke="#4a4a4a" stroke-opacity="0.62" stroke-width="7.5" stroke-linecap="round" fill="none" filter="url(#cblur)"/>
<circle cx="1451.5" cy="346" r="8" fill="#333" fill-opacity="0.5" filter="url(#cblur2)"/>
<line x1="1450.5" y1="345" x2="1255" y2="277" stroke="#c00000" stroke-width="2.3" />
<line x1="1255" y1="277" x2="1264.11" y2="285.56" stroke="#c00000" stroke-width="2.3" stroke-linecap="round"/>
<line x1="1255" y1="277" x2="1267.45" y2="275.94" stroke="#c00000" stroke-width="2.3" stroke-linecap="round"/>
<path d="M1477,347 A26.5,26.5 0 0 0 1425.47,336.29" fill="none" stroke="#c00000" stroke-width="2.6"/>
<line x1="1322" y1="345" x2="1572" y2="345" stroke="#000" stroke-width="4.2" />
<line x1="1450.75" y1="478.75" x2="1450.75" y2="232" stroke="#000" stroke-width="4.2" />
<polygon points="1583.5,345 1564,354.5 1570.5,345 1564,335.5" fill="#000"/>
<polygon points="1450.75,218.5 1460.25,238 1450.75,231.5 1441.25,238" fill="#000"/>
<circle cx="1450.5" cy="345" r="4.2" fill="#0a1c2c"/>
<circle cx="1321" cy="211" r="9" fill="#400" fill-opacity="0.5" filter="url(#cblur2)"/>
<circle cx="1321" cy="210.5" r="3.6" fill="#d81818" stroke="#0c2a44" stroke-width="3.6"/>
<text x="0" y="0" font-family='"Liberation Serif", "DejaVu Serif", serif' font-size="30" font-weight="bold" font-style="normal" fill="#000" text-anchor="start" transform="translate(1329.5 211.3) scale(1 1.08)">O</text>
<text x="1352" y="196" font-family='"DejaVu Serif Condensed", "DejaVu Serif", "Liberation Serif", serif' font-size="22" font-weight="normal" font-style="italic" fill="#000" text-anchor="start" >′</text>
<text x="0" y="0" font-family='"Liberation Serif", "DejaVu Serif", serif' font-size="30" font-weight="bold" font-style="normal" fill="#000" text-anchor="start" transform="translate(1457.3 373.6) scale(1 1.13)">O</text>
<text x="1409.5" y="122.5" font-family='"Liberation Serif", "DejaVu Serif", serif' font-size="33" font-weight="bold" font-style="normal" fill="#c00000" text-anchor="middle" >I</text>
<text x="1673.5" y="122.5" font-family='"Liberation Serif", "DejaVu Serif", serif' font-size="33" font-weight="bold" font-style="normal" fill="#4a90d9" text-anchor="middle" >II</text>
<text x="1409" y="395.5" font-family='"Liberation Serif", "DejaVu Serif", serif' font-size="33" font-weight="bold" font-style="normal" fill="#4a90d9" text-anchor="middle" >II</text>
<text x="1676" y="395" font-family='"Liberation Serif", "DejaVu Serif", serif' font-size="33" font-weight="bold" font-style="normal" fill="#c00000" text-anchor="middle" >I</text>
<text x="1207" y="317.5" font-family='"DejaVu Serif Condensed", "DejaVu Serif", "Liberation Serif", serif' font-size="31" font-weight="bold" font-style="italic" fill="#c00000" text-anchor="start" >κ<tspan font-size="22.32" dy="6.82">A</tspan></text>
<text x="1660" y="317.5" font-family='"DejaVu Serif Condensed", "DejaVu Serif", "Liberation Serif", serif' font-size="31" font-weight="bold" font-style="italic" fill="#4a90d9" text-anchor="start" >κ<tspan font-size="22.32" dy="6.82">B</tspan></text>
<text x="1203.5" y="587.5" font-family='"DejaVu Serif Condensed", "DejaVu Serif", "Liberation Serif", serif' font-size="31" font-weight="bold" font-style="italic" fill="#4a90d9" text-anchor="start" >κ<tspan font-size="22.32" dy="6.82">B</tspan></text>
<text x="1660" y="587.5" font-family='"DejaVu Serif Condensed", "DejaVu Serif", "Liberation Serif", serif' font-size="31" font-weight="bold" font-style="italic" fill="#c00000" text-anchor="start" >κ<tspan font-size="22.32" dy="6.82">A</tspan></text>
<text x="1372" y="302.5" font-family='"DejaVu Serif Condensed", "DejaVu Serif", "Liberation Serif", serif' font-size="29" font-weight="bold" font-style="italic" fill="#c00000" text-anchor="middle" >r</text>
<text x="1481.5" y="330" font-family='"DejaVu Serif Condensed", "DejaVu Serif", "Liberation Serif", serif' font-size="27" font-weight="bold" font-style="italic" fill="#c00000" text-anchor="middle" >θ</text>
<line x1="1167" y1="84" x2="1167" y2="335" stroke="#000" stroke-width="2" />
<path d="M1160.5,92.5 L1167,81 L1173.5,92.5" fill="none" stroke="#000" stroke-width="2" stroke-linejoin="miter"/>
<path d="M1160.5,326 L1167,337.5 L1173.5,326" fill="none" stroke="#000" stroke-width="2" stroke-linejoin="miter"/>
<line x1="1152" y1="79" x2="1163" y2="79" stroke="#000" stroke-width="2.4" />
<line x1="1169" y1="79" x2="1180" y2="79" stroke="#000" stroke-width="2.4" />
<line x1="1152" y1="343.5" x2="1163" y2="343.5" stroke="#000" stroke-width="2.4" />
<line x1="1169" y1="343.5" x2="1180" y2="343.5" stroke="#000" stroke-width="2.4" />
<text x="1147.5" y="232" font-family='"DejaVu Serif Condensed", "DejaVu Serif", "Liberation Serif", serif' font-size="28" font-weight="bold" font-style="italic" fill="#000" text-anchor="middle" >l</text>
<text x="1137" y="37.5" font-family='"Liberation Sans", Arial, sans-serif' font-size="37" font-weight="bold" font-style="normal" fill="#000" text-anchor="start" >c</text>
</g>
<g id="pd">
<defs>
<radialGradient id="dgB1" gradientUnits="userSpaceOnUse" cx="-116.5" cy="-116.5" r="148"><stop offset="0" stop-color="#1c64e1" stop-opacity="0.500"/><stop offset="0.1" stop-color="#1c64e1" stop-opacity="0.460"/><stop offset="0.2" stop-color="#1c64e1" stop-opacity="0.405"/><stop offset="0.39" stop-color="#1c64e1" stop-opacity="0.288"/><stop offset="0.5" stop-color="#1c64e1" stop-opacity="0.221"/><stop offset="0.64" stop-color="#1c64e1" stop-opacity="0.149"/><stop offset="0.78" stop-color="#1c64e1" stop-opacity="0.093"/><stop offset="1" stop-color="#1c64e1" stop-opacity="0.050"/></radialGradient>
<radialGradient id="dgR1" gradientUnits="userSpaceOnUse" cx="116.5" cy="-116.5" r="148"><stop offset="0" stop-color="#e41e26" stop-opacity="0.500"/><stop offset="0.1" stop-color="#e41e26" stop-opacity="0.460"/><stop offset="0.2" stop-color="#e41e26" stop-opacity="0.405"/><stop offset="0.39" stop-color="#e41e26" stop-opacity="0.288"/><stop offset="0.5" stop-color="#e41e26" stop-opacity="0.221"/><stop offset="0.64" stop-color="#e41e26" stop-opacity="0.149"/><stop offset="0.78" stop-color="#e41e26" stop-opacity="0.093"/><stop offset="1" stop-color="#e41e26" stop-opacity="0.050"/></radialGradient>
<radialGradient id="dgR2" gradientUnits="userSpaceOnUse" cx="-116.5" cy="116.5" r="148"><stop offset="0" stop-color="#e41e26" stop-opacity="0.500"/><stop offset="0.1" stop-color="#e41e26" stop-opacity="0.460"/><stop offset="0.2" stop-color="#e41e26" stop-opacity="0.405"/><stop offset="0.39" stop-color="#e41e26" stop-opacity="0.288"/><stop offset="0.5" stop-color="#e41e26" stop-opacity="0.221"/><stop offset="0.64" stop-color="#e41e26" stop-opacity="0.149"/><stop offset="0.78" stop-color="#e41e26" stop-opacity="0.093"/><stop offset="1" stop-color="#e41e26" stop-opacity="0.050"/></radialGradient>
<radialGradient id="dgB2" gradientUnits="userSpaceOnUse" cx="116.5" cy="116.5" r="148"><stop offset="0" stop-color="#1c64e1" stop-opacity="0.500"/><stop offset="0.1" stop-color="#1c64e1" stop-opacity="0.460"/><stop offset="0.2" stop-color="#1c64e1" stop-opacity="0.405"/><stop offset="0.39" stop-color="#1c64e1" stop-opacity="0.288"/><stop offset="0.5" stop-color="#1c64e1" stop-opacity="0.221"/><stop offset="0.64" stop-color="#1c64e1" stop-opacity="0.149"/><stop offset="0.78" stop-color="#1c64e1" stop-opacity="0.093"/><stop offset="1" stop-color="#1c64e1" stop-opacity="0.050"/></radialGradient>
<radialGradient id="dgB1t" gradientUnits="userSpaceOnUse" cx="-116.5" cy="-116.5" r="148"><stop offset="0" stop-color="#1c64e1" stop-opacity="0.600"/><stop offset="0.1" stop-color="#1c64e1" stop-opacity="0.550"/><stop offset="0.2" stop-color="#1c64e1" stop-opacity="0.484"/><stop offset="0.39" stop-color="#1c64e1" stop-opacity="0.342"/><stop offset="0.5" stop-color="#1c64e1" stop-opacity="0.259"/><stop offset="0.64" stop-color="#1c64e1" stop-opacity="0.171"/><stop offset="0.78" stop-color="#1c64e1" stop-opacity="0.102"/><stop offset="1" stop-color="#1c64e1" stop-opacity="0.050"/></radialGradient>
<radialGradient id="dgR1t" gradientUnits="userSpaceOnUse" cx="116.5" cy="-116.5" r="148"><stop offset="0" stop-color="#e41e26" stop-opacity="0.600"/><stop offset="0.1" stop-color="#e41e26" stop-opacity="0.550"/><stop offset="0.2" stop-color="#e41e26" stop-opacity="0.484"/><stop offset="0.39" stop-color="#e41e26" stop-opacity="0.342"/><stop offset="0.5" stop-color="#e41e26" stop-opacity="0.259"/><stop offset="0.64" stop-color="#e41e26" stop-opacity="0.171"/><stop offset="0.78" stop-color="#e41e26" stop-opacity="0.102"/><stop offset="1" stop-color="#e41e26" stop-opacity="0.050"/></radialGradient>
<radialGradient id="dgR2t" gradientUnits="userSpaceOnUse" cx="-116.5" cy="116.5" r="148"><stop offset="0" stop-color="#e41e26" stop-opacity="0.600"/><stop offset="0.1" stop-color="#e41e26" stop-opacity="0.550"/><stop offset="0.2" stop-color="#e41e26" stop-opacity="0.484"/><stop offset="0.39" stop-color="#e41e26" stop-opacity="0.342"/><stop offset="0.5" stop-color="#e41e26" stop-opacity="0.259"/><stop offset="0.64" stop-color="#e41e26" stop-opacity="0.171"/><stop offset="0.78" stop-color="#e41e26" stop-opacity="0.102"/><stop offset="1" stop-color="#e41e26" stop-opacity="0.050"/></radialGradient>
<radialGradient id="dgB2t" gradientUnits="userSpaceOnUse" cx="116.5" cy="116.5" r="148"><stop offset="0" stop-color="#1c64e1" stop-opacity="0.600"/><stop offset="0.1" stop-color="#1c64e1" stop-opacity="0.550"/><stop offset="0.2" stop-color="#1c64e1" stop-opacity="0.484"/><stop offset="0.39" stop-color="#1c64e1" stop-opacity="0.342"/><stop offset="0.5" stop-color="#1c64e1" stop-opacity="0.259"/><stop offset="0.64" stop-color="#1c64e1" stop-opacity="0.171"/><stop offset="0.78" stop-color="#1c64e1" stop-opacity="0.102"/><stop offset="1" stop-color="#1c64e1" stop-opacity="0.050"/></radialGradient>
<g id="dlay">
<rect x="-235" y="-235" width="235" height="235" fill="url(#dgB1)"/>
<rect x="0" y="-235" width="235" height="235" fill="url(#dgR1)"/>
<rect x="-235" y="0" width="235" height="235" fill="url(#dgR2)"/>
<rect x="0" y="0" width="235" height="235" fill="url(#dgB2)"/>
</g>
<g id="dlayt">
<rect x="-235" y="-235" width="235" height="235" fill="url(#dgB1t)"/>
<rect x="0" y="-235" width="235" height="235" fill="url(#dgR1t)"/>
<rect x="-235" y="0" width="235" height="235" fill="url(#dgR2t)"/>
<rect x="0" y="0" width="235" height="235" fill="url(#dgB2t)"/>
</g>
</defs>
<use href="#dlay" transform="translate(351.5 976.8) rotate(-0.28)"/>
<use href="#dlayt" transform="translate(351.5 976.8) rotate(-35.5) scale(0.993)"/>
<g transform="translate(351.5 976.8) rotate(-0.28)" stroke="#a9dfb0" stroke-dasharray="10 7" fill="none"><line x1="-230" y1="0" x2="230" y2="0" stroke-width="2" opacity="0.9"/><line x1="0" y1="-230" x2="0" y2="230" stroke-width="1.5" opacity="0.45"/></g>
<g transform="translate(351.5 976.8) rotate(-35.5) scale(0.993)" stroke="#a9dfb0" stroke-dasharray="10 7" fill="none"><line x1="-230" y1="0" x2="230" y2="0" stroke-width="2" opacity="0.9"/><line x1="0" y1="-230" x2="0" y2="230" stroke-width="1.5" opacity="0.45"/></g>
<rect x="118.25" y="743.55" width="466.5" height="466.5" fill="none" stroke="#41aee0" stroke-width="5.2" stroke-dasharray="20 16.2" stroke-dashoffset="0.5" transform="rotate(-0.28 351.5 976.8)"/>
<rect x="-231.3" y="-231.3" width="462.6" height="462.6" fill="none" stroke="#c00000" stroke-width="5.2" stroke-dasharray="20 16" stroke-dashoffset="2" transform="translate(351.5 976.8) rotate(-35.5)"/>
<line x1="350.5" y1="977.5" x2="295.02" y2="899.35" stroke="#0070c0" stroke-width="4.4" /><polygon points="287.5,888.75 305.84,899.03 295.02,899.35 291.16,909.45" fill="#0070c0"/>
<line x1="350.5" y1="977.5" x2="426.88" y2="923.5" stroke="#0070c0" stroke-width="4.4" /><polygon points="437.5,916 427.18,934.32 426.88,923.5 416.79,919.62" fill="#0070c0"/>
<line x1="350.5" y1="977.5" x2="350.94" y2="879" stroke="#c00000" stroke-width="4.4" /><polygon points="351,866 359.91,885.04 350.94,879 341.91,884.96" fill="#c00000"/>
<line x1="350.5" y1="977.5" x2="445.8" y2="977.32" stroke="#c00000" stroke-width="4.4" /><polygon points="458.8,977.3 439.82,986.34 445.8,977.32 439.78,968.34" fill="#c00000"/>
<line x1="350.5" y1="977.5" x2="298.88" y2="784.49" stroke="#000" stroke-width="4.4" /><polygon points="295,770 310.09,787.7 298.88,784.49 290.77,792.87" fill="#000"/>
<line x1="350.5" y1="977.5" x2="533.03" y2="927.7" stroke="#000" stroke-width="4.4" /><polygon points="547.5,923.75 529.87,938.92 533.03,927.7 524.61,919.63" fill="#000"/>
<path d="M392.5,977.5 A42,42 0 0 0 391.01,966.42" fill="none" stroke="#000" stroke-width="1.2"/>
<text x="313" y="772.5" font-family='"DejaVu Serif Condensed", "DejaVu Serif", "Liberation Serif", serif' font-size="29" font-weight="normal" font-style="italic" fill="#000" text-anchor="start" >k<tspan font-weight="bold" font-size="20.88" dy="5.8">y</tspan><tspan font-style="normal" font-family='"Liberation Serif", "DejaVu Serif", serif' font-size="22.04">,moire</tspan></text>
<text x="483" y="907.5" font-family='"DejaVu Serif Condensed", "DejaVu Serif", "Liberation Serif", serif' font-size="29" font-weight="normal" font-style="italic" fill="#000" text-anchor="start" >k<tspan font-weight="bold" font-size="20.88" dy="5.8">x</tspan><tspan font-style="normal" font-family='"Liberation Serif", "DejaVu Serif", serif' font-size="22.04">,moire</tspan></text>
<text x="368.5" y="876" font-family='"DejaVu Serif Condensed", "DejaVu Serif", "Liberation Serif", serif' font-size="29" font-weight="normal" font-style="italic" fill="#c00000" text-anchor="start" >k<tspan font-weight="bold" font-size="20.88" dy="5.8">y</tspan></text>
<text x="466" y="983.3" font-family='"DejaVu Serif Condensed", "DejaVu Serif", "Liberation Serif", serif' font-size="29" font-weight="normal" font-style="italic" fill="#c00000" text-anchor="start" >k<tspan font-weight="bold" font-size="20.88" dy="5.8">x</tspan></text>
<text x="436.5" y="907.5" font-family='"DejaVu Serif Condensed", "DejaVu Serif", "Liberation Serif", serif' font-size="29" font-weight="normal" font-style="italic" fill="#0070c0" text-anchor="start" >k<tspan font-size="20.3" dy="-12.18" dx="-1">′</tspan><tspan font-weight="bold" font-size="20.88" dy="17.98" dx="-6">x</tspan></text>
<text x="265.5" y="937.5" font-family='"DejaVu Serif Condensed", "DejaVu Serif", "Liberation Serif", serif' font-size="29" font-weight="normal" font-style="italic" fill="#0070c0" text-anchor="start" >k<tspan font-size="20.3" dy="-12.18" dx="-1">′</tspan><tspan font-weight="bold" font-size="20.88" dy="17.98" dx="-6">y</tspan></text>
<text x="321" y="997.3" font-family='"Liberation Serif", "DejaVu Serif", serif' font-size="27" font-weight="bold" font-style="normal" fill="#000" text-anchor="start" >O</text>
<text x="395.5" y="1003" font-family='"DejaVu Serif Condensed", "DejaVu Serif", "Liberation Serif", serif' font-size="27" font-weight="bold" font-style="italic" fill="#000" text-anchor="middle" >β</text>
<text x="10.5" y="712.5" font-family='"Liberation Sans", Arial, sans-serif' font-size="37" font-weight="bold" font-style="normal" fill="#000" text-anchor="start" >d</text>
</g>
<g id="pe">
<line x1="942.38" y1="1199" x2="942.38" y2="1191.5" stroke="#000" stroke-width="2.2" />
<line x1="1013.25" y1="1199" x2="1013.25" y2="1186" stroke="#000" stroke-width="2.2" />
<line x1="1084.12" y1="1199" x2="1084.12" y2="1191.5" stroke="#000" stroke-width="2.2" />
<line x1="1155" y1="1199" x2="1155" y2="1186" stroke="#000" stroke-width="2.2" />
<line x1="1225.88" y1="1199" x2="1225.88" y2="1191.5" stroke="#000" stroke-width="2.2" />
<line x1="1296.75" y1="1199" x2="1296.75" y2="1186" stroke="#000" stroke-width="2.2" />
<line x1="1367.62" y1="1199" x2="1367.62" y2="1191.5" stroke="#000" stroke-width="2.2" />
<line x1="1438.5" y1="1199" x2="1438.5" y2="1186" stroke="#000" stroke-width="2.2" />
<line x1="1509.38" y1="1199" x2="1509.38" y2="1191.5" stroke="#000" stroke-width="2.2" />
<line x1="1580.25" y1="1199" x2="1580.25" y2="1186" stroke="#000" stroke-width="2.2" />
<line x1="1651.12" y1="1199" x2="1651.12" y2="1191.5" stroke="#000" stroke-width="2.2" />
<line x1="871.5" y1="1186.5" x2="884.5" y2="1186.5" stroke="#000" stroke-width="2.2" />
<line x1="871.5" y1="1124" x2="879" y2="1124" stroke="#000" stroke-width="2.2" />
<line x1="871.5" y1="1061.5" x2="884.5" y2="1061.5" stroke="#000" stroke-width="2.2" />
<line x1="871.5" y1="999" x2="879" y2="999" stroke="#000" stroke-width="2.2" />
<line x1="871.5" y1="936.5" x2="884.5" y2="936.5" stroke="#000" stroke-width="2.2" />
<line x1="871.5" y1="874" x2="879" y2="874" stroke="#000" stroke-width="2.2" />
<line x1="871.5" y1="811.5" x2="884.5" y2="811.5" stroke="#000" stroke-width="2.2" />
<line x1="871.5" y1="749" x2="879" y2="749" stroke="#000" stroke-width="2.2" />
<path d="M878.78,1186 L879.37,1186 L879.97,1186 L880.57,1186 L881.16,1186 L881.76,1186 L882.36,1186 L882.95,1186 L883.55,1186 L884.15,1186 L884.74,1186 L885.34,1186 L885.94,1186 L886.53,1186 L887.13,1186 L887.73,1186 L888.32,1186 L888.92,1186 L889.52,1186 L890.11,1186 L890.71,1186 L891.31,1186 L891.9,1186 L892.5,1186 L893.1,1186 L893.69,1186 L894.29,1186 L894.89,1186 L895.48,1186 L896.08,1186 L896.68,1186 L897.27,1186 L897.87,1186 L898.47,1186 L899.06,1186 L899.66,1186 L900.26,1186 L900.85,1186 L901.45,1186 L902.05,1186 L902.64,1186 L903.24,1186 L903.84,1186 L904.43,1185.96 L905.03,1185.88 L905.63,1185.76 L906.22,1185.61 L906.82,1185.43 L907.42,1185.23 L908.01,1185 L908.61,1184.76 L909.21,1184.5 L909.8,1184.23 L910.4,1183.95 L911,1183.68 L911.59,1183.4 L912.19,1183.13 L912.79,1182.87 L913.38,1182.62 L913.98,1182.33 L914.58,1182.01 L915.17,1181.65 L915.77,1181.27 L916.37,1180.87 L916.96,1180.46 L917.56,1180.04 L918.16,1179.62 L918.75,1179.21 L919.35,1178.8 L919.95,1178.41 L920.54,1178.03 L921.14,1177.69 L921.74,1177.38 L922.33,1177.1 L922.93,1176.87 L923.53,1176.69 L924.12,1176.57 L924.72,1176.51 L925.32,1176.51 L925.91,1176.57 L926.51,1176.7 L927.11,1176.87 L927.7,1177.08 L928.3,1177.34 L928.9,1177.62 L929.49,1177.94 L930.09,1178.28 L930.69,1178.63 L931.28,1179 L931.88,1179.37 L932.48,1179.74 L933.07,1180.1 L933.67,1180.45 L934.27,1180.78 L934.86,1181.09 L935.46,1181.37 L936.06,1181.62 L936.65,1181.89 L937.25,1182.18 L937.85,1182.47 L938.44,1182.77 L939.04,1183.06 L939.64,1183.35 L940.23,1183.62 L940.83,1183.86 L941.43,1184.07 L942.02,1184.25 L942.62,1184.39 L943.22,1184.47 L943.81,1184.5 L944.41,1184.35 L945.01,1183.94 L945.6,1183.31 L946.2,1182.51 L946.8,1181.58 L947.39,1180.57 L947.99,1179.51 L948.58,1178.45 L949.18,1177.39 L949.78,1175.93 L950.37,1174.15 L950.97,1172.3 L951.57,1170.65 L952.16,1169.46 L952.76,1169 L953.36,1169.35 L953.95,1170.29 L954.55,1171.63 L955.15,1173.17 L955.74,1174.72 L956.34,1176.1 L956.94,1177.25 L957.53,1178.52 L958.13,1179.83 L958.73,1181.04 L959.32,1182.01 L959.92,1182.62 L960.52,1182.72 L961.11,1182.28 L961.71,1181.37 L962.31,1180.11 L962.9,1178.6 L963.5,1176.93 L964.1,1175.22 L964.69,1173.55 L965.29,1172.03 L965.89,1170.66 L966.48,1169.06 L967.08,1167.34 L967.68,1165.66 L968.27,1164.16 L968.87,1163.01 L969.47,1162.35 L970.06,1162.33 L970.66,1162.99 L971.26,1164.15 L971.85,1165.67 L972.45,1167.36 L973.05,1169.08 L973.64,1170.64 L974.24,1171.93 L974.84,1173.29 L975.43,1174.74 L976.03,1176.21 L976.63,1177.58 L977.22,1178.76 L977.82,1179.65 L978.42,1180.17 L979.01,1180.21 L979.61,1179.79 L980.21,1178.99 L980.8,1177.87 L981.4,1176.49 L982,1174.91 L982.59,1173.2 L983.19,1171.42 L983.79,1169.63 L984.38,1167.9 L984.98,1166.29 L985.58,1164.44 L986.17,1162.25 L986.77,1159.86 L987.37,1157.39 L987.96,1155.01 L988.56,1152.84 L989.16,1151.03 L989.75,1149.72 L990.35,1149.06 L990.95,1149.27 L991.54,1150.66 L992.14,1153 L992.74,1156 L993.33,1159.4 L993.93,1162.91 L994.53,1166.26 L995.12,1169.17 L995.72,1171.37 L996.32,1173.05 L996.91,1174.75 L997.51,1176.44 L998.11,1178.07 L998.7,1179.63 L999.3,1181.08 L999.9,1182.39 L1000.49,1183.53 L1001.09,1184.46 L1001.69,1185.17 L1002.28,1185.61 L1002.88,1185.75 L1003.48,1185.75 L1004.07,1185.75 L1004.67,1185.75 L1005.27,1185.75 L1005.86,1185.75 L1006.46,1185.75 L1007.06,1185.75 L1007.65,1185.75 L1008.25,1185.75 L1008.85,1185.75 L1009.44,1185.75 L1010.04,1185.75 L1010.64,1185.75 L1011.23,1185.75 L1011.83,1185.75 L1012.43,1185.75 L1013.02,1185.75 L1013.62,1185.75 L1014.22,1185.75 L1014.81,1185.75 L1015.41,1185.75 L1016.01,1185.75 L1016.6,1185.24 L1017.2,1183.54 L1017.8,1180.87 L1018.39,1177.49 L1018.99,1173.63 L1019.59,1169.55 L1020.18,1165.48 L1020.78,1161.68 L1021.38,1157.54 L1021.97,1152.42 L1022.57,1146.8 L1023.17,1141.15 L1023.76,1135.95 L1024.36,1131.66 L1024.96,1128.77 L1025.55,1127.75 L1026.15,1128.85 L1026.75,1131.71 L1027.34,1135.91 L1027.94,1141.01 L1028.54,1146.57 L1029.13,1152.17 L1029.73,1157.37 L1030.33,1161.73 L1030.92,1164.92 L1031.52,1167.86 L1032.12,1170.82 L1032.71,1173.7 L1033.31,1176.37 L1033.91,1178.72 L1034.5,1180.64 L1035.1,1182 L1035.7,1182.69 L1036.29,1182.66 L1036.89,1182.17 L1037.49,1181.28 L1038.08,1180.05 L1038.68,1178.52 L1039.28,1176.75 L1039.87,1174.78 L1040.47,1172.67 L1041.07,1170.45 L1041.66,1168.19 L1042.26,1165.94 L1042.86,1163.73 L1043.45,1161.63 L1044.05,1159.36 L1044.65,1156.63 L1045.24,1153.55 L1045.84,1150.24 L1046.44,1146.81 L1047.03,1143.38 L1047.63,1140.06 L1048.23,1136.97 L1048.82,1134.23 L1049.42,1131.95 L1050.02,1130.24 L1050.61,1129.23 L1051.21,1129.02 L1051.81,1129.44 L1052.4,1130.34 L1053,1131.67 L1053.6,1133.37 L1054.19,1135.37 L1054.79,1137.6 L1055.39,1140.01 L1055.98,1142.54 L1056.58,1145.11 L1057.18,1147.67 L1057.77,1150.16 L1058.37,1152.5 L1058.97,1154.64 L1059.56,1156.52 L1060.16,1158.28 L1060.76,1160.07 L1061.35,1161.87 L1061.95,1163.66 L1062.55,1165.42 L1063.14,1167.12 L1063.74,1168.74 L1064.34,1170.25 L1064.93,1171.64 L1065.53,1172.87 L1066.13,1173.93 L1066.72,1174.88 L1067.32,1175.85 L1067.92,1176.79 L1068.51,1177.71 L1069.11,1178.57 L1069.71,1179.35 L1070.3,1180.05 L1070.9,1180.63 L1071.5,1181.08 L1072.09,1181.37 L1072.69,1181.5 L1073.29,1181.31 L1073.88,1180.63 L1074.48,1179.51 L1075.08,1178.01 L1075.67,1176.19 L1076.27,1174.12 L1076.87,1171.85 L1077.46,1169.45 L1078.06,1166.99 L1078.66,1164.51 L1079.25,1162.09 L1079.85,1159.45 L1080.45,1155.97 L1081.04,1151.89 L1081.64,1147.51 L1082.24,1143.08 L1082.83,1138.91 L1083.43,1135.26 L1084.03,1132.42 L1084.62,1130.68 L1085.22,1130.33 L1085.82,1132.21 L1086.41,1136.08 L1087.01,1141.34 L1087.61,1147.39 L1088.2,1153.62 L1088.8,1159.42 L1089.4,1164.19 L1089.99,1167.43 L1090.59,1170.28 L1091.19,1173.1 L1091.78,1175.79 L1092.38,1178.25 L1092.98,1180.39 L1093.57,1182.12 L1094.17,1183.34 L1094.77,1183.95 L1095.36,1183.94 L1095.96,1183.62 L1096.56,1183.05 L1097.15,1182.27 L1097.75,1181.32 L1098.35,1180.24 L1098.94,1179.06 L1099.54,1177.83 L1100.14,1176.57 L1100.73,1175.34 L1101.33,1174.17 L1101.92,1173.1 L1102.52,1172.16 L1103.12,1171.39 L1103.71,1170.67 L1104.31,1169.94 L1104.91,1169.18 L1105.5,1168.43 L1106.1,1167.69 L1106.7,1166.96 L1107.29,1166.26 L1107.89,1165.59 L1108.49,1164.97 L1109.08,1164.41 L1109.68,1163.91 L1110.28,1163.49 L1110.87,1163.15 L1111.47,1162.91 L1112.07,1162.78 L1112.66,1162.76 L1113.26,1162.88 L1113.86,1163.13 L1114.45,1163.48 L1115.05,1163.91 L1115.65,1164.39 L1116.24,1164.91 L1116.84,1165.44 L1117.44,1165.95 L1118.03,1166.42 L1118.63,1166.89 L1119.23,1167.47 L1119.82,1168.09 L1120.42,1168.71 L1121.02,1169.29 L1121.61,1169.77 L1122.21,1170.11 L1122.81,1170.25 L1123.4,1169.9 L1124,1168.76 L1124.6,1166.93 L1125.19,1164.54 L1125.79,1161.69 L1126.39,1158.51 L1126.98,1155.1 L1127.58,1151.58 L1128.18,1147.12 L1128.77,1141 L1129.37,1133.71 L1129.97,1125.72 L1130.56,1117.49 L1131.16,1109.52 L1131.76,1102.26 L1132.35,1096.19 L1132.95,1090.46 L1133.55,1084.46 L1134.14,1078.59 L1134.74,1073.28 L1135.34,1068.92 L1135.93,1065.94 L1136.53,1064.76 L1137.13,1065.84 L1137.72,1069.13 L1138.32,1074.09 L1138.92,1080.21 L1139.51,1086.97 L1140.11,1093.85 L1140.71,1100.32 L1141.3,1106.62 L1141.9,1113.86 L1142.5,1121.69 L1143.09,1129.71 L1143.69,1137.55 L1144.29,1144.81 L1144.88,1151.1 L1145.48,1156.03 L1146.08,1159.96 L1146.67,1163.84 L1147.27,1167.6 L1147.87,1171.18 L1148.46,1174.52 L1149.06,1177.55 L1149.66,1180.21 L1150.25,1182.42 L1150.85,1184.12 L1151.45,1185.25 L1152.04,1185.74 L1152.64,1185.73 L1153.24,1185.66 L1153.83,1185.55 L1154.43,1185.38 L1155.03,1185.17 L1155.62,1184.92 L1156.22,1184.63 L1156.82,1184.31 L1157.41,1183.95 L1158.01,1183.56 L1158.61,1183.14 L1159.2,1182.69 L1159.8,1182.22 L1160.4,1181.73 L1160.99,1181.18 L1161.59,1180.35 L1162.19,1179.26 L1162.78,1177.97 L1163.38,1176.54 L1163.98,1175 L1164.57,1173.42 L1165.17,1171.85 L1165.77,1170.34 L1166.36,1168.95 L1166.96,1167.45 L1167.56,1165.73 L1168.15,1163.97 L1168.75,1162.3 L1169.35,1160.9 L1169.94,1159.91 L1170.54,1159.5 L1171.14,1159.83 L1171.73,1160.87 L1172.33,1162.45 L1172.93,1164.41 L1173.52,1166.59 L1174.12,1168.83 L1174.72,1170.96 L1175.31,1172.82 L1175.91,1174.26 L1176.51,1175.58 L1177.1,1176.94 L1177.7,1178.31 L1178.3,1179.65 L1178.89,1180.93 L1179.49,1182.1 L1180.09,1183.14 L1180.68,1184.01 L1181.28,1184.68 L1181.88,1185.1 L1182.47,1185.25 L1183.07,1185.29 L1183.67,1185.32 L1184.26,1185.35 L1184.86,1185.38 L1185.46,1185.41 L1186.05,1185.44 L1186.65,1185.46 L1187.25,1185.49 L1187.84,1185.51 L1188.44,1185.53 L1189.04,1185.55 L1189.63,1185.57 L1190.23,1185.59 L1190.83,1185.61 L1191.42,1185.62 L1192.02,1185.64 L1192.62,1185.65 L1193.21,1185.67 L1193.81,1185.68 L1194.41,1185.69 L1195,1185.7 L1195.6,1185.71 L1196.2,1185.71 L1196.79,1185.72 L1197.39,1185.73 L1197.99,1185.73 L1198.58,1185.74 L1199.18,1185.74 L1199.78,1185.74 L1200.37,1185.75 L1200.97,1185.75 L1201.57,1185.75 L1202.16,1185.75 L1202.76,1185.65 L1203.36,1185.3 L1203.95,1184.68 L1204.55,1183.8 L1205.15,1182.66 L1205.74,1181.26 L1206.34,1179.61 L1206.94,1177.7 L1207.53,1175.54 L1208.13,1172.66 L1208.73,1164.23 L1209.32,1150.6 L1209.92,1133.86 L1210.52,1116.1 L1211.11,1099.42 L1211.71,1084.54 L1212.31,1069.62 L1212.9,1054.44 L1213.5,1038.84 L1214.1,1022.67 L1214.69,1005.77 L1215.29,987.96 L1215.89,969.07 L1216.48,949.2 L1217.08,928.48 L1217.68,907.05 L1218.27,884.17 L1218.87,854.31 L1219.47,822.57 L1220.06,796.44 L1220.66,783.39 L1221.26,789.47 L1221.85,811.29 L1222.45,841.61 L1223.05,873.15 L1223.64,898.96 L1224.24,921.53 L1224.84,943.65 L1225.43,965.14 L1226.03,985.84 L1226.63,1005.69 L1227.22,1025.31 L1227.82,1044.48 L1228.42,1062.82 L1229.01,1079.92 L1229.61,1095.38 L1230.21,1110.11 L1230.8,1125.1 L1231.4,1139.47 L1232,1152.3 L1232.59,1162.71 L1233.19,1169.77 L1233.79,1173.37 L1234.38,1176.29 L1234.98,1178.83 L1235.58,1180.89 L1236.17,1182.4 L1236.77,1183.29 L1237.37,1183.49 L1237.96,1183.33 L1238.56,1183 L1239.16,1182.53 L1239.75,1181.96 L1240.35,1181.33 L1240.95,1180.7 L1241.54,1180.08 L1242.14,1179.53 L1242.74,1179.09 L1243.33,1178.74 L1243.93,1178.38 L1244.53,1178.02 L1245.12,1177.67 L1245.72,1177.35 L1246.32,1177.06 L1246.91,1176.82 L1247.51,1176.63 L1248.11,1176.53 L1248.7,1176.5 L1249.3,1176.55 L1249.9,1176.65 L1250.49,1176.79 L1251.09,1176.99 L1251.69,1177.22 L1252.28,1177.48 L1252.88,1177.77 L1253.48,1178.09 L1254.07,1178.42 L1254.67,1178.76 L1255.26,1179.1 L1255.86,1179.44 L1256.46,1179.78 L1257.05,1180.11 L1257.65,1180.42 L1258.25,1180.7 L1258.84,1180.96 L1259.44,1181.2 L1260.04,1181.45 L1260.63,1181.72 L1261.23,1181.99 L1261.83,1182.27 L1262.42,1182.56 L1263.02,1182.84 L1263.62,1183.13 L1264.21,1183.41 L1264.81,1183.69 L1265.41,1183.96 L1266,1184.22 L1266.6,1184.46 L1267.2,1184.7 L1267.79,1184.91 L1268.39,1185.11 L1268.99,1185.28 L1269.58,1185.43 L1270.18,1185.56 L1270.78,1185.65 L1271.37,1185.72 L1271.97,1185.75 L1272.57,1185.59 L1273.16,1184.8 L1273.76,1183.42 L1274.36,1181.55 L1274.95,1179.32 L1275.55,1176.81 L1276.15,1174.13 L1276.74,1171.39 L1277.34,1168.69 L1277.94,1166.12 L1278.53,1163.06 L1279.13,1159.3 L1279.73,1155.14 L1280.32,1150.87 L1280.92,1146.76 L1281.52,1143.11 L1282.11,1140.2 L1282.71,1138.33 L1283.31,1137.76 L1283.9,1138.82 L1284.5,1141.3 L1285.1,1144.85 L1285.69,1149.09 L1286.29,1153.67 L1286.89,1158.22 L1287.48,1162.36 L1288.08,1165.75 L1288.68,1168.4 L1289.27,1171.13 L1289.87,1173.89 L1290.47,1176.58 L1291.06,1179.1 L1291.66,1181.36 L1292.26,1183.25 L1292.85,1184.67 L1293.45,1185.53 L1294.05,1185.75 L1294.64,1185.75 L1295.24,1185.75 L1295.84,1185.75 L1296.43,1185.75 L1297.03,1185.75 L1297.63,1185.75 L1298.22,1185.75 L1298.82,1185.75 L1299.42,1185.75 L1300.01,1185.75 L1300.61,1185.74 L1301.21,1185.22 L1301.8,1183.98 L1302.4,1182.13 L1303,1179.79 L1303.59,1177.09 L1304.19,1174.15 L1304.79,1171.08 L1305.38,1168 L1305.98,1165.04 L1306.58,1162.01 L1307.17,1158.08 L1307.77,1153.59 L1308.37,1149.02 L1308.96,1144.83 L1309.56,1141.47 L1310.16,1139.42 L1310.75,1139.1 L1311.35,1140.46 L1311.95,1143.12 L1312.54,1146.7 L1313.14,1150.87 L1313.74,1155.24 L1314.33,1159.47 L1314.93,1163.19 L1315.53,1166.05 L1316.12,1168.13 L1316.72,1170.19 L1317.32,1172.22 L1317.91,1174.18 L1318.51,1176.02 L1319.11,1177.72 L1319.7,1179.24 L1320.3,1180.54 L1320.9,1181.57 L1321.49,1182.3 L1322.09,1182.7 L1322.69,1182.82 L1323.28,1182.92 L1323.88,1183.01 L1324.48,1183.09 L1325.07,1183.16 L1325.67,1183.23 L1326.27,1183.29 L1326.86,1183.34 L1327.46,1183.39 L1328.06,1183.42 L1328.65,1183.45 L1329.25,1183.48 L1329.85,1183.49 L1330.44,1183.5 L1331.04,1183.49 L1331.64,1183.38 L1332.23,1183.17 L1332.83,1182.89 L1333.43,1182.53 L1334.02,1182.12 L1334.62,1181.67 L1335.22,1181.2 L1335.81,1180.73 L1336.41,1180.26 L1337.01,1179.82 L1337.6,1179.42 L1338.2,1179.07 L1338.8,1178.75 L1339.39,1178.42 L1339.99,1178.07 L1340.59,1177.72 L1341.18,1177.38 L1341.78,1177.08 L1342.38,1176.83 L1342.97,1176.64 L1343.57,1176.53 L1344.17,1176.51 L1344.76,1176.69 L1345.36,1177.05 L1345.96,1177.55 L1346.55,1178.15 L1347.15,1178.77 L1347.75,1179.39 L1348.34,1179.95 L1348.94,1180.41 L1349.54,1180.91 L1350.13,1181.43 L1350.73,1181.93 L1351.33,1182.35 L1351.92,1182.64 L1352.52,1182.75 L1353.12,1182.57 L1353.71,1182.07 L1354.31,1181.28 L1354.91,1180.22 L1355.5,1178.92 L1356.1,1177.39 L1356.7,1175.68 L1357.29,1173.78 L1357.89,1170.35 L1358.49,1164.71 L1359.08,1157.21 L1359.68,1148.17 L1360.28,1137.95 L1360.87,1126.88 L1361.47,1115.3 L1362.07,1103.55 L1362.66,1091.78 L1363.26,1078.39 L1363.86,1063.35 L1364.45,1047.1 L1365.05,1030.08 L1365.65,1012.73 L1366.24,995.5 L1366.84,977.93 L1367.44,959.63 L1368.03,940.87 L1368.63,921.92 L1369.23,903.04 L1369.82,883.5 L1370.42,859.69 L1371.02,835.51 L1371.61,815.94 L1372.21,805.93 L1372.81,809.71 L1373.4,825.39 L1374,848.01 L1374.6,872.62 L1375.19,894.23 L1375.79,912.98 L1376.39,931.93 L1376.98,950.81 L1377.58,969.36 L1378.18,987.3 L1378.77,1004.45 L1379.37,1021.05 L1379.97,1037.22 L1380.56,1053 L1381.16,1068.44 L1381.76,1083.59 L1382.35,1098.51 L1382.95,1114.92 L1383.55,1132.41 L1384.14,1149.05 L1384.74,1162.91 L1385.34,1172.06 L1385.93,1175.87 L1386.53,1178.73 L1387.13,1181.15 L1387.72,1183.1 L1388.32,1184.5 L1388.92,1185.31 L1389.51,1185.5 L1390.11,1185.5 L1390.71,1185.5 L1391.3,1185.49 L1391.9,1185.49 L1392.5,1185.48 L1393.09,1185.47 L1393.69,1185.46 L1394.29,1185.45 L1394.88,1185.43 L1395.48,1185.42 L1396.08,1185.4 L1396.67,1185.38 L1397.27,1185.37 L1397.87,1185.35 L1398.46,1185.32 L1399.06,1185.3 L1399.66,1185.28 L1400.25,1185.25 L1400.85,1185.23 L1401.45,1185.2 L1402.04,1185.17 L1402.64,1185.15 L1403.24,1185.12 L1403.83,1185.09 L1404.43,1185.05 L1405.03,1185.02 L1405.62,1184.99 L1406.22,1184.95 L1406.82,1184.92 L1407.41,1184.88 L1408.01,1184.83 L1408.6,1184.77 L1409.2,1184.71 L1409.8,1184.64 L1410.39,1184.56 L1410.99,1184.47 L1411.59,1184.36 L1412.18,1184.24 L1412.78,1184.11 L1413.38,1183.96 L1413.97,1183.79 L1414.57,1183.6 L1415.17,1183.27 L1415.76,1182.1 L1416.36,1180.23 L1416.96,1177.93 L1417.55,1175.48 L1418.15,1173.15 L1418.75,1171.23 L1419.34,1169.29 L1419.94,1167.2 L1420.54,1165.16 L1421.13,1163.39 L1421.73,1162.1 L1422.33,1161.52 L1422.92,1161.72 L1423.52,1162.5 L1424.12,1163.74 L1424.71,1165.32 L1425.31,1167.14 L1425.91,1169.07 L1426.5,1170.99 L1427.1,1172.8 L1427.7,1174.37 L1428.29,1175.62 L1428.89,1176.84 L1429.49,1178.1 L1430.08,1179.38 L1430.68,1180.64 L1431.28,1181.84 L1431.87,1182.94 L1432.47,1183.91 L1433.07,1184.71 L1433.66,1185.31 L1434.26,1185.66 L1434.86,1185.75 L1435.45,1185.75 L1436.05,1185.75 L1436.65,1185.75 L1437.24,1185.75 L1437.84,1185.75 L1438.44,1185.75 L1439.03,1185.75 L1439.63,1185.75 L1440.23,1185.75 L1440.82,1185.75 L1441.42,1185.75 L1442.02,1185.75 L1442.61,1185.62 L1443.21,1184.79 L1443.81,1183.27 L1444.4,1181.16 L1445,1178.55 L1445.6,1175.53 L1446.19,1172.2 L1446.79,1168.65 L1447.39,1164.99 L1447.98,1161.29 L1448.58,1156.77 L1449.18,1151 L1449.77,1144.36 L1450.37,1137.2 L1450.97,1129.9 L1451.56,1122.83 L1452.16,1116.34 L1452.76,1110.79 L1453.35,1105.29 L1453.95,1099.51 L1454.55,1093.84 L1455.14,1088.72 L1455.74,1084.55 L1456.34,1081.76 L1456.93,1080.75 L1457.53,1081.77 L1458.13,1084.51 L1458.72,1088.61 L1459.32,1093.68 L1459.92,1099.33 L1460.51,1105.19 L1461.11,1110.87 L1461.71,1117.02 L1462.3,1124.65 L1462.9,1133 L1463.5,1141.28 L1464.09,1148.74 L1464.69,1154.59 L1465.29,1158.47 L1465.88,1161.9 L1466.48,1164.96 L1467.08,1167.48 L1467.67,1169.3 L1468.27,1170.25 L1468.87,1170.69 L1469.46,1171.07 L1470.06,1171.39 L1470.66,1171.64 L1471.25,1171.83 L1471.85,1171.95 L1472.45,1172 L1473.04,1171.89 L1473.64,1171.54 L1474.24,1171 L1474.83,1170.31 L1475.43,1169.54 L1476.03,1168.73 L1476.62,1167.94 L1477.22,1167.22 L1477.82,1166.62 L1478.41,1166.2 L1479.01,1166.01 L1479.61,1166.05 L1480.2,1166.24 L1480.8,1166.55 L1481.4,1166.98 L1481.99,1167.5 L1482.59,1168.1 L1483.19,1168.76 L1483.78,1169.46 L1484.38,1170.2 L1484.98,1170.94 L1485.57,1171.69 L1486.17,1172.41 L1486.77,1173.1 L1487.36,1173.73 L1487.96,1174.31 L1488.56,1174.94 L1489.15,1175.62 L1489.75,1176.34 L1490.35,1177.09 L1490.94,1177.85 L1491.54,1178.61 L1492.14,1179.37 L1492.73,1180.11 L1493.33,1180.82 L1493.93,1181.48 L1494.52,1182.09 L1495.12,1182.64 L1495.72,1183.11 L1496.31,1183.49 L1496.91,1183.78 L1497.51,1183.95 L1498.1,1183.99 L1498.7,1183.51 L1499.3,1182.34 L1499.89,1180.59 L1500.49,1178.39 L1501.09,1175.86 L1501.68,1173.13 L1502.28,1170.32 L1502.88,1167.55 L1503.47,1164.94 L1504.07,1162.4 L1504.67,1159.24 L1505.26,1155.74 L1505.86,1152.23 L1506.46,1149.07 L1507.05,1146.61 L1507.65,1145.2 L1508.25,1145.17 L1508.84,1146.5 L1509.44,1148.89 L1510.04,1152.05 L1510.63,1155.66 L1511.23,1159.42 L1511.83,1163.03 L1512.42,1166.19 L1513.02,1168.59 L1513.62,1170.3 L1514.21,1171.98 L1514.81,1173.64 L1515.41,1175.24 L1516,1176.74 L1516.6,1178.12 L1517.2,1179.34 L1517.79,1180.37 L1518.39,1181.18 L1518.99,1181.72 L1519.58,1181.98 L1520.18,1181.97 L1520.78,1181.84 L1521.37,1181.6 L1521.97,1181.26 L1522.57,1180.84 L1523.16,1180.34 L1523.76,1179.76 L1524.36,1179.13 L1524.95,1178.44 L1525.55,1177.7 L1526.15,1176.93 L1526.74,1176.13 L1527.34,1175.31 L1527.94,1174.48 L1528.53,1173.62 L1529.13,1172.58 L1529.73,1171.34 L1530.32,1169.94 L1530.92,1168.4 L1531.52,1166.74 L1532.11,1165.01 L1532.71,1163.21 L1533.31,1161.39 L1533.9,1159.57 L1534.5,1157.78 L1535.1,1156.04 L1535.69,1154.38 L1536.29,1152.71 L1536.89,1150.8 L1537.48,1148.74 L1538.08,1146.64 L1538.68,1144.61 L1539.27,1142.74 L1539.87,1141.14 L1540.47,1139.92 L1541.06,1139.18 L1541.66,1139.03 L1542.26,1139.78 L1542.85,1141.37 L1543.45,1143.63 L1544.05,1146.36 L1544.64,1149.4 L1545.24,1152.56 L1545.84,1155.66 L1546.43,1158.53 L1547.03,1160.98 L1547.63,1163.09 L1548.22,1165.32 L1548.82,1167.65 L1549.42,1170.02 L1550.01,1172.35 L1550.61,1174.61 L1551.21,1176.71 L1551.8,1178.61 L1552.4,1180.25 L1553,1181.56 L1553.59,1182.48 L1554.19,1182.95 L1554.79,1182.91 L1555.38,1182.3 L1555.98,1181.21 L1556.58,1179.72 L1557.17,1177.92 L1557.77,1175.9 L1558.37,1173.74 L1558.96,1171.52 L1559.56,1169.35 L1560.16,1167.3 L1560.75,1165.34 L1561.35,1163.02 L1561.94,1160.41 L1562.54,1157.61 L1563.14,1154.75 L1563.73,1151.94 L1564.33,1149.31 L1564.93,1146.96 L1565.52,1145.03 L1566.12,1143.62 L1566.72,1142.85 L1567.31,1143 L1567.91,1144.9 L1568.51,1148.26 L1569.1,1152.6 L1569.7,1157.46 L1570.3,1162.36 L1570.89,1166.82 L1571.49,1170.38 L1572.09,1172.85 L1572.68,1175.23 L1573.28,1177.57 L1573.88,1179.77 L1574.47,1181.7 L1575.07,1183.28 L1575.67,1184.4 L1576.26,1184.96 L1576.86,1185 L1577.46,1185 L1578.05,1185 L1578.65,1185 L1579.25,1185 L1579.84,1185 L1580.44,1185 L1581.04,1185 L1581.63,1185 L1582.23,1185 L1582.83,1185 L1583.42,1185 L1584.02,1185 L1584.62,1185 L1585.21,1185 L1585.81,1185 L1586.41,1185 L1587,1185 L1587.6,1185 L1588.2,1185 L1588.79,1185 L1589.39,1185 L1589.99,1185 L1590.58,1185 L1591.18,1185 L1591.78,1184.96 L1592.37,1184.32 L1592.97,1183.04 L1593.57,1181.27 L1594.16,1179.19 L1594.76,1176.94 L1595.36,1174.69 L1595.95,1172.61 L1596.55,1170.79 L1597.15,1168.74 L1597.74,1166.48 L1598.34,1164.18 L1598.94,1162 L1599.53,1160.11 L1600.13,1158.67 L1600.73,1157.87 L1601.32,1157.86 L1601.92,1158.7 L1602.52,1160.22 L1603.11,1162.21 L1603.71,1164.47 L1604.31,1166.79 L1604.9,1168.98 L1605.5,1170.84 L1606.1,1172.28 L1606.69,1173.73 L1607.29,1175.23 L1607.89,1176.71 L1608.48,1178.11 L1609.08,1179.37 L1609.68,1180.46 L1610.27,1181.29 L1610.87,1181.82 L1611.47,1182 L1612.06,1181.58 L1612.66,1180.55 L1613.26,1179.11 L1613.85,1177.47 L1614.45,1175.81 L1615.05,1174.35 L1615.64,1173.08 L1616.24,1171.66 L1616.84,1170.19 L1617.43,1168.85 L1618.03,1167.77 L1618.63,1167.12 L1619.22,1167.05 L1619.82,1167.56 L1620.42,1168.53 L1621.01,1169.84 L1621.61,1171.36 L1622.21,1172.96 L1622.8,1174.51 L1623.4,1175.88 L1624,1177.01 L1624.59,1178.2 L1625.19,1179.46 L1625.79,1180.71 L1626.38,1181.86 L1626.98,1182.84 L1627.58,1183.56 L1628.17,1183.95 L1628.77,1183.94 L1629.37,1183.55 L1629.96,1182.87 L1630.56,1181.98 L1631.16,1180.97 L1631.75,1179.92 L1632.35,1178.91 L1632.95,1178.03 L1633.54,1177.29 L1634.14,1176.48 L1634.74,1175.64 L1635.33,1174.82 L1635.93,1174.06 L1636.53,1173.43 L1637.12,1172.98 L1637.72,1172.76 L1638.32,1172.88 L1638.91,1173.43 L1639.51,1174.33 L1640.11,1175.46 L1640.7,1176.72 L1641.3,1177.98 L1641.9,1179.14 L1642.49,1180.09 L1643.09,1180.85 L1643.69,1181.65 L1644.28,1182.46 L1644.88,1183.23 L1645.48,1183.91 L1646.07,1184.46 L1646.67,1184.84 L1647.27,1185 L1647.86,1184.98 L1648.46,1184.89 L1649.06,1184.75 L1649.65,1184.56 L1650.25,1184.33 L1650.85,1184.07 L1651.44,1183.78 L1652.04,1183.48 L1652.64,1183.16 L1653.23,1182.83 L1653.83,1182.5 L1654.43,1182.19 L1655.02,1181.88 L1655.62,1181.6 L1656.22,1181.34 L1656.81,1181.04 L1657.41,1180.72 L1658.01,1180.39 L1658.6,1180.03 L1659.2,1179.68 L1659.8,1179.32 L1660.39,1178.97 L1660.99,1178.64 L1661.59,1178.32 L1662.18,1178.04 L1662.78,1177.78 L1663.38,1177.57 L1663.97,1177.41 L1664.57,1177.3 L1665.17,1177.25 L1665.76,1177.29 L1666.36,1177.43 L1666.96,1177.67 L1667.55,1177.99 L1668.15,1178.38 L1668.75,1178.82 L1669.34,1179.3 L1669.94,1179.79 L1670.54,1180.29 L1671.13,1180.78 L1671.73,1181.24 L1672.33,1181.67 L1672.92,1182.04 L1673.52,1182.4 L1674.12,1182.8 L1674.71,1183.21 L1675.31,1183.63 L1675.91,1184.04 L1676.5,1184.42 L1677.1,1184.77 L1677.7,1185.06 L1678.29,1185.29 L1678.89,1185.44 L1679.49,1185.5 L1680.08,1185.51 L1680.68,1185.52 L1681.28,1185.53 L1681.87,1185.54 L1682.47,1185.55 L1683.07,1185.56 L1683.66,1185.57 L1684.26,1185.58 L1684.86,1185.59 L1685.45,1185.6 L1686.05,1185.6 L1686.65,1185.61 L1687.24,1185.62 L1687.84,1185.63 L1688.44,1185.63 L1689.03,1185.64 L1689.63,1185.65 L1690.23,1185.65 L1690.82,1185.66 L1691.42,1185.66 L1692.02,1185.67 L1692.61,1185.67 L1693.21,1185.68 L1693.81,1185.68 L1694.4,1185.69 L1695,1185.69 L1695.6,1185.7 L1696.19,1185.7 L1696.79,1185.71 L1697.39,1185.71 L1697.98,1185.71 L1698.58,1185.72 L1699.18,1185.72 L1699.77,1185.72 L1700.37,1185.72 L1700.97,1185.73 L1701.56,1185.73 L1702.16,1185.73 L1702.76,1185.73 L1703.35,1185.74 L1703.95,1185.74 L1704.55,1185.74 L1705.14,1185.74 L1705.74,1185.74 L1706.34,1185.74 L1706.93,1185.74 L1707.53,1185.75 L1708.13,1185.75 L1708.72,1185.75 L1709.32,1185.75 L1709.92,1185.75 L1710.51,1185.75 L1711.11,1185.75 L1711.71,1185.75 L1712.3,1185.75 L1712.9,1185.75 L1713.49,1185.75" fill="none" stroke="#fa8282" stroke-width="5" stroke-linejoin="round" stroke-linecap="round" />
<path d="M878.78,1186.5 L879.37,1186.5 L879.97,1186.5 L880.57,1186.5 L881.16,1186.5 L881.76,1186.5 L882.36,1186.5 L882.95,1186.5 L883.55,1186.5 L884.15,1186.5 L884.74,1186.5 L885.34,1186.5 L885.94,1186.5 L886.53,1186.5 L887.13,1186.5 L887.73,1186.5 L888.32,1186.5 L888.92,1186.5 L889.52,1186.5 L890.11,1186.5 L890.71,1186.5 L891.31,1186.5 L891.9,1186.5 L892.5,1186.5 L893.1,1186.5 L893.69,1186.5 L894.29,1186.5 L894.89,1186.5 L895.48,1186.5 L896.08,1186.5 L896.68,1186.5 L897.27,1186.5 L897.87,1186.5 L898.47,1186.5 L899.06,1186.5 L899.66,1186.5 L900.26,1186.5 L900.85,1186.5 L901.45,1186.5 L902.05,1186.5 L902.64,1186.5 L903.24,1186.5 L903.84,1186.5 L904.43,1186.5 L905.03,1186.5 L905.63,1186.5 L906.22,1186.5 L906.82,1186.5 L907.42,1186.5 L908.01,1186.5 L908.61,1186.5 L909.21,1186.5 L909.8,1186.5 L910.4,1186.5 L911,1186.5 L911.59,1186.5 L912.19,1186.5 L912.79,1186.5 L913.38,1186.5 L913.98,1186.5 L914.58,1186.5 L915.17,1186.5 L915.77,1186.5 L916.37,1186.5 L916.96,1186.5 L917.56,1186.5 L918.16,1186.5 L918.75,1186.5 L919.35,1186.5 L919.95,1186.5 L920.54,1186.5 L921.14,1186.5 L921.74,1186.5 L922.33,1186.5 L922.93,1186.5 L923.53,1186.5 L924.12,1186.5 L924.72,1186.5 L925.32,1186.5 L925.91,1186.5 L926.51,1186.5 L927.11,1186.5 L927.7,1186.5 L928.3,1186.5 L928.9,1186.5 L929.49,1186.5 L930.09,1186.5 L930.69,1186.5 L931.28,1186.5 L931.88,1186.5 L932.48,1186.5 L933.07,1186.5 L933.67,1186.5 L934.27,1186.5 L934.86,1186.5 L935.46,1186.5 L936.06,1186.5 L936.65,1186.5 L937.25,1186.5 L937.85,1186.5 L938.44,1186.5 L939.04,1186.5 L939.64,1186.5 L940.23,1186.5 L940.83,1186.5 L941.43,1186.5 L942.02,1186.5 L942.62,1186.5 L943.22,1186.5 L943.81,1186.5 L944.41,1186.5 L945.01,1186.5 L945.6,1186.5 L946.2,1186.5 L946.8,1186.5 L947.39,1186.5 L947.99,1186.5 L948.58,1186.5 L949.18,1186.5 L949.78,1186.5 L950.37,1186.5 L950.97,1186.5 L951.57,1186.5 L952.16,1186.5 L952.76,1186.49 L953.36,1186.47 L953.95,1186.43 L954.55,1186.39 L955.15,1186.35 L955.74,1186.29 L956.34,1186.22 L956.94,1186.15 L957.53,1186.07 L958.13,1185.99 L958.73,1185.9 L959.32,1185.8 L959.92,1185.7 L960.52,1185.59 L961.11,1185.48 L961.71,1185.37 L962.31,1185.25 L962.9,1185.13 L963.5,1185 L964.1,1184.88 L964.69,1184.75 L965.29,1184.63 L965.89,1184.5 L966.48,1184.37 L967.08,1184.24 L967.68,1184.12 L968.27,1183.99 L968.87,1183.87 L969.47,1183.75 L970.06,1183.63 L970.66,1183.51 L971.26,1183.39 L971.85,1183.26 L972.45,1183.12 L973.05,1182.97 L973.64,1182.81 L974.24,1182.65 L974.84,1182.47 L975.43,1182.3 L976.03,1182.11 L976.63,1181.93 L977.22,1181.74 L977.82,1181.55 L978.42,1181.36 L979.01,1181.16 L979.61,1180.98 L980.21,1180.79 L980.8,1180.61 L981.4,1180.43 L982,1180.26 L982.59,1180.09 L983.19,1179.93 L983.79,1179.79 L984.38,1179.65 L984.98,1179.52 L985.58,1179.4 L986.17,1179.3 L986.77,1179.21 L987.37,1179.13 L987.96,1179.07 L988.56,1179.03 L989.16,1179.01 L989.75,1179 L990.35,1179.06 L990.95,1179.2 L991.54,1179.4 L992.14,1179.66 L992.74,1179.97 L993.33,1180.32 L993.93,1180.7 L994.53,1181.11 L995.12,1181.52 L995.72,1181.95 L996.32,1182.37 L996.91,1182.77 L997.51,1183.16 L998.11,1183.51 L998.7,1183.83 L999.3,1184.1 L999.9,1184.38 L1000.49,1184.68 L1001.09,1184.98 L1001.69,1185.28 L1002.28,1185.57 L1002.88,1185.83 L1003.48,1186.06 L1004.07,1186.26 L1004.67,1186.4 L1005.27,1186.48 L1005.86,1186.5 L1006.46,1186.5 L1007.06,1186.5 L1007.65,1186.5 L1008.25,1186.5 L1008.85,1186.5 L1009.44,1186.5 L1010.04,1186.5 L1010.64,1186.5 L1011.23,1186.5 L1011.83,1186.5 L1012.43,1186.5 L1013.02,1186.5 L1013.62,1186.5 L1014.22,1186.5 L1014.81,1186.5 L1015.41,1186.5 L1016.01,1186.5 L1016.6,1186.5 L1017.2,1186.5 L1017.8,1186.5 L1018.39,1186.39 L1018.99,1185.9 L1019.59,1185.1 L1020.18,1184.06 L1020.78,1182.87 L1021.38,1181.61 L1021.97,1180.37 L1022.57,1179.23 L1023.17,1178.11 L1023.76,1176.78 L1024.36,1175.32 L1024.96,1173.87 L1025.55,1172.52 L1026.15,1171.39 L1026.75,1170.6 L1027.34,1170.26 L1027.94,1170.46 L1028.54,1171.17 L1029.13,1172.25 L1029.73,1173.58 L1030.33,1175.04 L1030.92,1176.51 L1031.52,1177.85 L1032.12,1178.95 L1032.71,1179.93 L1033.31,1180.98 L1033.91,1182.01 L1034.5,1182.91 L1035.1,1183.6 L1035.7,1183.97 L1036.29,1183.98 L1036.89,1183.85 L1037.49,1183.61 L1038.08,1183.28 L1038.68,1182.88 L1039.28,1182.42 L1039.87,1181.9 L1040.47,1181.35 L1041.07,1180.77 L1041.66,1180.19 L1042.26,1179.61 L1042.86,1179.05 L1043.45,1178.52 L1044.05,1178.03 L1044.65,1177.6 L1045.24,1177.15 L1045.84,1176.67 L1046.44,1176.16 L1047.03,1175.64 L1047.63,1175.11 L1048.23,1174.59 L1048.82,1174.08 L1049.42,1173.59 L1050.02,1173.13 L1050.61,1172.71 L1051.21,1172.34 L1051.81,1172.03 L1052.4,1171.78 L1053,1171.6 L1053.6,1171.51 L1054.19,1171.52 L1054.79,1171.64 L1055.39,1171.87 L1055.98,1172.2 L1056.58,1172.61 L1057.18,1173.09 L1057.77,1173.63 L1058.37,1174.21 L1058.97,1174.82 L1059.56,1175.45 L1060.16,1176.09 L1060.76,1176.71 L1061.35,1177.32 L1061.95,1177.89 L1062.55,1178.41 L1063.14,1178.87 L1063.74,1179.28 L1064.34,1179.71 L1064.93,1180.16 L1065.53,1180.62 L1066.13,1181.09 L1066.72,1181.55 L1067.32,1182 L1067.92,1182.44 L1068.51,1182.85 L1069.11,1183.24 L1069.71,1183.58 L1070.3,1183.88 L1070.9,1184.13 L1071.5,1184.32 L1072.09,1184.45 L1072.69,1184.5 L1073.29,1184.39 L1073.88,1184.01 L1074.48,1183.4 L1075.08,1182.59 L1075.67,1181.63 L1076.27,1180.57 L1076.87,1179.45 L1077.46,1178.31 L1078.06,1177.2 L1078.66,1176.13 L1079.25,1174.82 L1079.85,1173.24 L1080.45,1171.52 L1081.04,1169.75 L1081.64,1168.05 L1082.24,1166.52 L1082.83,1165.26 L1083.43,1164.39 L1084.03,1164.01 L1084.62,1164.2 L1085.22,1164.91 L1085.82,1166.03 L1086.41,1167.47 L1087.01,1169.11 L1087.61,1170.86 L1088.2,1172.61 L1088.8,1174.25 L1089.4,1175.7 L1089.99,1176.86 L1090.59,1178.03 L1091.19,1179.26 L1091.78,1180.48 L1092.38,1181.65 L1092.98,1182.69 L1093.57,1183.54 L1094.17,1184.16 L1094.77,1184.47 L1095.36,1184.49 L1095.96,1184.43 L1096.56,1184.31 L1097.15,1184.14 L1097.75,1183.93 L1098.35,1183.69 L1098.94,1183.4 L1099.54,1183.08 L1100.14,1182.74 L1100.73,1182.37 L1101.33,1181.99 L1101.92,1181.59 L1102.52,1181.17 L1103.12,1180.75 L1103.71,1180.33 L1104.31,1179.92 L1104.91,1179.5 L1105.5,1179.1 L1106.1,1178.71 L1106.7,1178.34 L1107.29,1178 L1107.89,1177.68 L1108.49,1177.38 L1109.08,1177.1 L1109.68,1176.84 L1110.28,1176.6 L1110.87,1176.36 L1111.47,1176.14 L1112.07,1175.93 L1112.66,1175.72 L1113.26,1175.52 L1113.86,1175.32 L1114.45,1175.11 L1115.05,1174.91 L1115.65,1174.7 L1116.24,1174.49 L1116.84,1174.26 L1117.44,1174.03 L1118.03,1173.78 L1118.63,1173.52 L1119.23,1173.24 L1119.82,1172.94 L1120.42,1172.62 L1121.02,1172.27 L1121.61,1171.9 L1122.21,1171.51 L1122.81,1171.08 L1123.4,1170.62 L1124,1170.12 L1124.6,1169.59 L1125.19,1169.02 L1125.79,1168.4 L1126.39,1167.34 L1126.98,1165.69 L1127.58,1163.56 L1128.18,1161.08 L1128.77,1158.35 L1129.37,1155.49 L1129.97,1152.63 L1130.56,1149.87 L1131.16,1147.33 L1131.76,1144.95 L1132.35,1142.23 L1132.95,1139.31 L1133.55,1136.4 L1134.14,1133.72 L1134.74,1131.46 L1135.34,1129.83 L1135.93,1129.04 L1136.53,1129.3 L1137.13,1130.6 L1137.72,1132.74 L1138.32,1135.5 L1138.92,1138.66 L1139.51,1142.02 L1140.11,1145.35 L1140.71,1148.44 L1141.3,1151.42 L1141.9,1154.82 L1142.5,1158.46 L1143.09,1162.16 L1143.69,1165.72 L1144.29,1168.98 L1144.88,1171.74 L1145.48,1173.81 L1146.08,1175.37 L1146.67,1176.89 L1147.27,1178.34 L1147.87,1179.73 L1148.46,1181.03 L1149.06,1182.23 L1149.66,1183.31 L1150.25,1184.26 L1150.85,1185.06 L1151.45,1185.7 L1152.04,1186.16 L1152.64,1186.43 L1153.24,1186.5 L1153.83,1186.42 L1154.43,1186.23 L1155.03,1185.95 L1155.62,1185.6 L1156.22,1185.19 L1156.82,1184.73 L1157.41,1184.23 L1158.01,1183.71 L1158.61,1183.18 L1159.2,1182.66 L1159.8,1182.16 L1160.4,1181.7 L1160.99,1181.26 L1161.59,1180.75 L1162.19,1180.2 L1162.78,1179.6 L1163.38,1179 L1163.98,1178.42 L1164.57,1177.87 L1165.17,1177.38 L1165.77,1176.98 L1166.36,1176.69 L1166.96,1176.52 L1167.56,1176.51 L1168.15,1176.6 L1168.75,1176.78 L1169.35,1177.03 L1169.94,1177.34 L1170.54,1177.71 L1171.14,1178.12 L1171.73,1178.55 L1172.33,1179.01 L1172.93,1179.48 L1173.52,1179.94 L1174.12,1180.4 L1174.72,1180.82 L1175.31,1181.22 L1175.91,1181.57 L1176.51,1181.92 L1177.1,1182.31 L1177.7,1182.71 L1178.3,1183.12 L1178.89,1183.54 L1179.49,1183.96 L1180.09,1184.37 L1180.68,1184.77 L1181.28,1185.14 L1181.88,1185.48 L1182.47,1185.78 L1183.07,1186.04 L1183.67,1186.25 L1184.26,1186.4 L1184.86,1186.48 L1185.46,1186.5 L1186.05,1186.5 L1186.65,1186.5 L1187.25,1186.5 L1187.84,1186.5 L1188.44,1186.5 L1189.04,1186.5 L1189.63,1186.5 L1190.23,1186.5 L1190.83,1186.5 L1191.42,1186.5 L1192.02,1186.5 L1192.62,1186.5 L1193.21,1186.5 L1193.81,1186.5 L1194.41,1186.5 L1195,1186.5 L1195.6,1186.5 L1196.2,1186.5 L1196.79,1186.5 L1197.39,1186.5 L1197.99,1186.5 L1198.58,1186.5 L1199.18,1186.5 L1199.78,1186.5 L1200.37,1186.5 L1200.97,1186.5 L1201.57,1186.5 L1202.16,1186.5 L1202.76,1186.44 L1203.36,1186.23 L1203.95,1185.85 L1204.55,1185.31 L1205.15,1184.61 L1205.74,1183.75 L1206.34,1182.72 L1206.94,1181.52 L1207.53,1180.16 L1208.13,1178.62 L1208.73,1176.92 L1209.32,1173.33 L1209.92,1164.61 L1210.52,1151.99 L1211.11,1136.89 L1211.71,1120.7 L1212.31,1104.84 L1212.9,1090.27 L1213.5,1074.7 L1214.1,1058.12 L1214.69,1041.2 L1215.29,1024.62 L1215.89,1009.09 L1216.48,995.24 L1217.08,981.29 L1217.68,966.57 L1218.27,952.3 L1218.87,939.71 L1219.47,930 L1220.06,924.39 L1220.66,924.16 L1221.26,930 L1221.85,940.67 L1222.45,954.75 L1223.05,970.78 L1223.64,987.32 L1224.24,1003.77 L1224.84,1024.84 L1225.43,1048.76 L1226.03,1072.14 L1226.63,1091.58 L1227.22,1105.75 L1227.82,1119.15 L1228.42,1131.87 L1229.01,1143.57 L1229.61,1153.91 L1230.21,1162.55 L1230.8,1169.15 L1231.4,1173.37 L1232,1175.64 L1232.59,1177.63 L1233.19,1179.41 L1233.79,1180.94 L1234.38,1182.18 L1234.98,1183.13 L1235.58,1183.74 L1236.17,1183.99 L1236.77,1183.97 L1237.37,1183.85 L1237.96,1183.66 L1238.56,1183.4 L1239.16,1183.1 L1239.75,1182.75 L1240.35,1182.38 L1240.95,1181.98 L1241.54,1181.59 L1242.14,1181.2 L1242.74,1180.84 L1243.33,1180.5 L1243.93,1180.2 L1244.53,1179.9 L1245.12,1179.56 L1245.72,1179.21 L1246.32,1178.87 L1246.91,1178.54 L1247.51,1178.25 L1248.11,1178.01 L1248.7,1177.84 L1249.3,1177.76 L1249.9,1177.76 L1250.49,1177.81 L1251.09,1177.9 L1251.69,1178.03 L1252.28,1178.19 L1252.88,1178.38 L1253.48,1178.6 L1254.07,1178.84 L1254.67,1179.1 L1255.26,1179.37 L1255.86,1179.66 L1256.46,1179.95 L1257.05,1180.25 L1257.65,1180.55 L1258.25,1180.84 L1258.84,1181.13 L1259.44,1181.41 L1260.04,1181.67 L1260.63,1181.92 L1261.23,1182.16 L1261.83,1182.41 L1262.42,1182.69 L1263.02,1182.98 L1263.62,1183.29 L1264.21,1183.6 L1264.81,1183.92 L1265.41,1184.23 L1266,1184.54 L1266.6,1184.84 L1267.2,1185.13 L1267.79,1185.4 L1268.39,1185.65 L1268.99,1185.88 L1269.58,1186.08 L1270.18,1186.24 L1270.78,1186.37 L1271.37,1186.46 L1271.97,1186.5 L1272.57,1186.35 L1273.16,1185.58 L1273.76,1184.25 L1274.36,1182.48 L1274.95,1180.37 L1275.55,1178.04 L1276.15,1175.6 L1276.74,1173.16 L1277.34,1170.82 L1277.94,1168.7 L1278.53,1166.31 L1279.13,1163.54 L1279.73,1160.6 L1280.32,1157.73 L1280.92,1155.16 L1281.52,1153.12 L1282.11,1151.83 L1282.71,1151.53 L1283.31,1152.22 L1283.9,1153.71 L1284.5,1155.82 L1285.1,1158.36 L1285.69,1161.14 L1286.29,1163.99 L1286.89,1166.72 L1287.48,1169.14 L1288.08,1171.08 L1288.68,1172.55 L1289.27,1174.02 L1289.87,1175.49 L1290.47,1176.95 L1291.06,1178.38 L1291.66,1179.76 L1292.26,1181.06 L1292.85,1182.27 L1293.45,1183.36 L1294.05,1184.33 L1294.64,1185.14 L1295.24,1185.78 L1295.84,1186.23 L1296.43,1186.47 L1297.03,1186.46 L1297.63,1186.15 L1298.22,1185.55 L1298.82,1184.68 L1299.42,1183.57 L1300.01,1182.26 L1300.61,1180.78 L1301.21,1179.14 L1301.8,1177.4 L1302.4,1175.56 L1303,1173.67 L1303.59,1171.75 L1304.19,1169.83 L1304.79,1167.94 L1305.38,1166.09 L1305.98,1163.78 L1306.58,1160.93 L1307.17,1157.78 L1307.77,1154.56 L1308.37,1151.5 L1308.96,1148.81 L1309.56,1146.74 L1310.16,1145.5 L1310.75,1145.34 L1311.35,1146.52 L1311.95,1148.81 L1312.54,1151.91 L1313.14,1155.51 L1313.74,1159.29 L1314.33,1162.94 L1314.93,1166.15 L1315.53,1168.61 L1316.12,1170.4 L1316.72,1172.17 L1317.32,1173.93 L1317.91,1175.65 L1318.51,1177.32 L1319.11,1178.91 L1319.7,1180.41 L1320.3,1181.79 L1320.9,1183.03 L1321.49,1184.12 L1322.09,1185.03 L1322.69,1185.73 L1323.28,1186.22 L1323.88,1186.47 L1324.48,1186.5 L1325.07,1186.48 L1325.67,1186.45 L1326.27,1186.4 L1326.86,1186.34 L1327.46,1186.27 L1328.06,1186.18 L1328.65,1186.09 L1329.25,1185.99 L1329.85,1185.88 L1330.44,1185.76 L1331.04,1185.64 L1331.64,1185.52 L1332.23,1185.36 L1332.83,1185.13 L1333.43,1184.84 L1334.02,1184.49 L1334.62,1184.08 L1335.22,1183.64 L1335.81,1183.15 L1336.41,1182.64 L1337.01,1182.1 L1337.6,1181.54 L1338.2,1180.98 L1338.8,1180.42 L1339.39,1179.86 L1339.99,1179.31 L1340.59,1178.78 L1341.18,1178.28 L1341.78,1177.82 L1342.38,1177.39 L1342.97,1177.02 L1343.57,1176.69 L1344.17,1176.43 L1344.76,1176.21 L1345.36,1176.02 L1345.96,1175.85 L1346.55,1175.71 L1347.15,1175.58 L1347.75,1175.47 L1348.34,1175.37 L1348.94,1175.27 L1349.54,1175.18 L1350.13,1175.09 L1350.73,1175 L1351.33,1174.89 L1351.92,1174.78 L1352.52,1174.66 L1353.12,1174.51 L1353.71,1174.35 L1354.31,1174.16 L1354.91,1173.94 L1355.5,1173.69 L1356.1,1173.4 L1356.7,1173.08 L1357.29,1172.69 L1357.89,1170.45 L1358.49,1165.49 L1359.08,1158.24 L1359.68,1149.16 L1360.28,1138.7 L1360.87,1127.31 L1361.47,1115.44 L1362.07,1103.54 L1362.66,1091.82 L1363.26,1078.49 L1363.86,1063.46 L1364.45,1047.19 L1365.05,1030.13 L1365.65,1012.75 L1366.24,995.5 L1366.84,977.91 L1367.44,959.58 L1368.03,940.79 L1368.63,921.84 L1369.23,903 L1369.82,883.58 L1370.42,860.01 L1371.02,836.12 L1371.61,816.8 L1372.21,806.92 L1372.81,810.66 L1373.4,826.12 L1374,848.47 L1374.6,872.79 L1375.19,894.23 L1375.79,912.73 L1376.39,931.28 L1376.98,949.85 L1377.58,968.36 L1378.18,986.78 L1378.77,1005.13 L1379.37,1023.83 L1379.97,1042.6 L1380.56,1061.04 L1381.16,1078.75 L1381.76,1095.32 L1382.35,1111.88 L1382.95,1129.28 L1383.55,1145.92 L1384.14,1160.17 L1384.74,1170.4 L1385.34,1175.46 L1385.93,1178.97 L1386.53,1181.95 L1387.13,1184.28 L1387.72,1185.83 L1388.32,1186.49 L1388.92,1186.5 L1389.51,1186.49 L1390.11,1186.47 L1390.71,1186.44 L1391.3,1186.4 L1391.9,1186.36 L1392.5,1186.31 L1393.09,1186.26 L1393.69,1186.2 L1394.29,1186.13 L1394.88,1186.06 L1395.48,1185.99 L1396.08,1185.91 L1396.67,1185.83 L1397.27,1185.74 L1397.87,1185.65 L1398.46,1185.57 L1399.06,1185.47 L1399.66,1185.38 L1400.25,1185.29 L1400.85,1185.19 L1401.45,1185.1 L1402.04,1185 L1402.64,1184.91 L1403.24,1184.82 L1403.83,1184.73 L1404.43,1184.64 L1405.03,1184.56 L1405.62,1184.47 L1406.22,1184.4 L1406.82,1184.34 L1407.41,1184.28 L1408.01,1184.22 L1408.6,1184.17 L1409.2,1184.12 L1409.8,1184.07 L1410.39,1184.01 L1410.99,1183.95 L1411.59,1183.87 L1412.18,1183.79 L1412.78,1183.69 L1413.38,1183.58 L1413.97,1183.45 L1414.57,1183.3 L1415.17,1183.14 L1415.76,1182.94 L1416.36,1182.71 L1416.96,1181.41 L1417.55,1178.96 L1418.15,1176.12 L1418.75,1173.65 L1419.34,1171.08 L1419.94,1168.3 L1420.54,1165.86 L1421.13,1164.29 L1421.73,1164.05 L1422.33,1164.55 L1422.92,1165.51 L1423.52,1166.82 L1424.12,1168.39 L1424.71,1170.1 L1425.31,1171.87 L1425.91,1173.57 L1426.5,1175.11 L1427.1,1176.39 L1427.7,1177.51 L1428.29,1178.69 L1428.89,1179.9 L1429.49,1181.11 L1430.08,1182.28 L1430.68,1183.37 L1431.28,1184.36 L1431.87,1185.2 L1432.47,1185.86 L1433.07,1186.3 L1433.66,1186.49 L1434.26,1186.5 L1434.86,1186.5 L1435.45,1186.5 L1436.05,1186.5 L1436.65,1186.5 L1437.24,1186.5 L1437.84,1186.5 L1438.44,1186.5 L1439.03,1186.5 L1439.63,1186.5 L1440.23,1186.5 L1440.82,1186.5 L1441.42,1186.5 L1442.02,1186.5 L1442.61,1186.5 L1443.21,1186.5 L1443.81,1186.02 L1444.4,1184.62 L1445,1182.4 L1445.6,1179.51 L1446.19,1176.04 L1446.79,1172.12 L1447.39,1167.88 L1447.98,1163.43 L1448.58,1158.89 L1449.18,1154.16 L1449.77,1148.05 L1450.37,1140.67 L1450.97,1132.46 L1451.56,1123.81 L1452.16,1115.15 L1452.76,1106.89 L1453.35,1099.45 L1453.95,1092.86 L1454.55,1085.78 L1455.14,1078.5 L1455.74,1071.56 L1456.34,1065.51 L1456.93,1060.87 L1457.53,1058.19 L1458.13,1058.23 L1458.72,1062.65 L1459.32,1070.53 L1459.92,1080.42 L1460.51,1090.89 L1461.11,1100.5 L1461.71,1109.84 L1462.3,1120.74 L1462.9,1132.11 L1463.5,1142.8 L1464.09,1151.68 L1464.69,1157.6 L1465.29,1160.12 L1465.88,1161.98 L1466.48,1163.57 L1467.08,1164.86 L1467.67,1165.8 L1468.27,1166.36 L1468.87,1166.5 L1469.46,1166.46 L1470.06,1166.36 L1470.66,1166.22 L1471.25,1166.04 L1471.85,1165.83 L1472.45,1165.59 L1473.04,1165.34 L1473.64,1165.08 L1474.24,1164.82 L1474.83,1164.56 L1475.43,1164.32 L1476.03,1164.09 L1476.62,1163.89 L1477.22,1163.66 L1477.82,1163.42 L1478.41,1163.16 L1479.01,1162.9 L1479.61,1162.64 L1480.2,1162.39 L1480.8,1162.15 L1481.4,1161.94 L1481.99,1161.77 L1482.59,1161.63 L1483.19,1161.54 L1483.78,1161.5 L1484.38,1161.59 L1484.98,1161.9 L1485.57,1162.41 L1486.17,1163.08 L1486.77,1163.89 L1487.36,1164.8 L1487.96,1165.79 L1488.56,1166.82 L1489.15,1167.87 L1489.75,1168.91 L1490.35,1169.91 L1490.94,1170.83 L1491.54,1171.66 L1492.14,1172.52 L1492.73,1173.46 L1493.33,1174.47 L1493.93,1175.5 L1494.52,1176.56 L1495.12,1177.6 L1495.72,1178.6 L1496.31,1179.55 L1496.91,1180.42 L1497.51,1181.19 L1498.1,1181.83 L1498.7,1182.32 L1499.3,1182.63 L1499.89,1182.75 L1500.49,1181.95 L1501.09,1179.61 L1501.68,1176.07 L1502.28,1171.71 L1502.88,1166.89 L1503.47,1161.96 L1504.07,1157.29 L1504.67,1152.34 L1505.26,1146.02 L1505.86,1139.19 L1506.46,1132.72 L1507.05,1127.51 L1507.65,1124.45 L1508.25,1124.55 L1508.84,1128.59 L1509.44,1135.29 L1510.04,1143.15 L1510.63,1150.64 L1511.23,1156.26 L1511.83,1160.32 L1512.42,1164.4 L1513.02,1168.21 L1513.62,1171.47 L1514.21,1173.87 L1514.81,1175.13 L1515.41,1175.24 L1516,1175.17 L1516.6,1175.04 L1517.2,1174.86 L1517.79,1174.63 L1518.39,1174.37 L1518.99,1174.08 L1519.58,1173.76 L1520.18,1173.42 L1520.78,1173.08 L1521.37,1172.72 L1521.97,1172.37 L1522.57,1172.03 L1523.16,1171.7 L1523.76,1171.4 L1524.36,1171.11 L1524.95,1170.84 L1525.55,1170.58 L1526.15,1170.31 L1526.74,1170.04 L1527.34,1169.74 L1527.94,1169.43 L1528.53,1169.08 L1529.13,1168.69 L1529.73,1168.25 L1530.32,1167.75 L1530.92,1167.19 L1531.52,1166.47 L1532.11,1165.35 L1532.71,1163.87 L1533.31,1162.08 L1533.9,1160.06 L1534.5,1157.86 L1535.1,1155.56 L1535.69,1153.21 L1536.29,1150.87 L1536.89,1148.59 L1537.48,1145.89 L1538.08,1142.65 L1538.68,1139.13 L1539.27,1135.56 L1539.87,1132.18 L1540.47,1129.22 L1541.06,1126.93 L1541.66,1125.55 L1542.26,1125.33 L1542.85,1126.69 L1543.45,1129.43 L1544.05,1133.2 L1544.64,1137.68 L1545.24,1142.51 L1545.84,1147.35 L1546.43,1151.87 L1547.03,1155.7 L1547.63,1158.97 L1548.22,1162.5 L1548.82,1166.15 L1549.42,1169.73 L1550.01,1173.07 L1550.61,1175.97 L1551.21,1178.26 L1551.8,1179.75 L1552.4,1180.25 L1553,1180.11 L1553.59,1179.73 L1554.19,1179.13 L1554.79,1178.34 L1555.38,1177.37 L1555.98,1176.26 L1556.58,1175.02 L1557.17,1173.69 L1557.77,1172.21 L1558.37,1169.88 L1558.96,1166.67 L1559.56,1162.81 L1560.16,1158.55 L1560.75,1154.12 L1561.35,1149.76 L1561.94,1145.67 L1562.54,1140.95 L1563.14,1135.53 L1563.73,1129.94 L1564.33,1124.72 L1564.93,1120.38 L1565.52,1117.47 L1566.12,1116.51 L1566.72,1118.67 L1567.31,1123.79 L1567.91,1130.81 L1568.51,1138.68 L1569.1,1146.33 L1569.7,1152.7 L1570.3,1157.67 L1570.89,1162.88 L1571.49,1168.09 L1572.09,1172.94 L1572.68,1177.08 L1573.28,1180.15 L1573.88,1181.81 L1574.47,1182.08 L1575.07,1182.19 L1575.67,1182.31 L1576.26,1182.41 L1576.86,1182.51 L1577.46,1182.61 L1578.05,1182.69 L1578.65,1182.78 L1579.25,1182.85 L1579.84,1182.93 L1580.44,1182.99 L1581.04,1183.05 L1581.63,1183.11 L1582.23,1183.16 L1582.83,1183.21 L1583.42,1183.25 L1584.02,1183.29 L1584.62,1183.33 L1585.21,1183.36 L1585.81,1183.39 L1586.41,1183.41 L1587,1183.43 L1587.6,1183.45 L1588.2,1183.46 L1588.79,1183.48 L1589.39,1183.49 L1589.99,1183.49 L1590.58,1183.5 L1591.18,1183.5 L1591.78,1183.47 L1592.37,1183.01 L1592.97,1182.07 L1593.57,1180.73 L1594.16,1179.08 L1594.76,1177.21 L1595.36,1175.21 L1595.95,1173.17 L1596.55,1171.18 L1597.15,1169.33 L1597.74,1167.47 L1598.34,1165.28 L1598.94,1162.83 L1599.53,1160.25 L1600.13,1157.63 L1600.73,1155.09 L1601.32,1152.73 L1601.92,1150.66 L1602.52,1148.99 L1603.11,1147.83 L1603.71,1147.28 L1604.31,1147.81 L1604.9,1150.08 L1605.5,1153.52 L1606.1,1157.49 L1606.69,1161.36 L1607.29,1164.52 L1607.89,1167.7 L1608.48,1171.11 L1609.08,1174.3 L1609.68,1176.79 L1610.27,1178.14 L1610.87,1178.18 L1611.47,1177.83 L1612.06,1177.23 L1612.66,1176.42 L1613.26,1175.46 L1613.85,1174.4 L1614.45,1173.28 L1615.05,1172.16 L1615.64,1171.1 L1616.24,1170.12 L1616.84,1169.04 L1617.43,1167.77 L1618.03,1166.43 L1618.63,1165.12 L1619.22,1163.94 L1619.82,1163 L1620.42,1162.41 L1621.01,1162.28 L1621.61,1163.03 L1622.21,1164.59 L1622.8,1166.63 L1623.4,1168.84 L1624,1170.91 L1624.59,1172.81 L1625.19,1175.11 L1625.79,1177.41 L1626.38,1179.26 L1626.98,1180.21 L1627.58,1180.03 L1628.17,1179.17 L1628.77,1177.85 L1629.37,1176.29 L1629.96,1174.69 L1630.56,1173.25 L1631.16,1172.05 L1631.75,1170.71 L1632.35,1169.34 L1632.95,1168.15 L1633.54,1167.3 L1634.14,1167 L1634.74,1167.18 L1635.33,1167.65 L1635.93,1168.36 L1636.53,1169.26 L1637.12,1170.3 L1637.72,1171.42 L1638.32,1172.58 L1638.91,1173.71 L1639.51,1174.77 L1640.11,1175.71 L1640.7,1176.47 L1641.3,1177.13 L1641.9,1177.82 L1642.49,1178.52 L1643.09,1179.21 L1643.69,1179.89 L1644.28,1180.54 L1644.88,1181.14 L1645.48,1181.68 L1646.07,1182.15 L1646.67,1182.53 L1647.27,1182.8 L1647.86,1182.96 L1648.46,1183 L1649.06,1182.95 L1649.65,1182.86 L1650.25,1182.71 L1650.85,1182.53 L1651.44,1182.31 L1652.04,1182.05 L1652.64,1181.77 L1653.23,1181.47 L1653.83,1181.15 L1654.43,1180.82 L1655.02,1180.48 L1655.62,1180.14 L1656.22,1179.81 L1656.81,1179.48 L1657.41,1179.17 L1658.01,1178.86 L1658.6,1178.51 L1659.2,1178.11 L1659.8,1177.68 L1660.39,1177.22 L1660.99,1176.76 L1661.59,1176.29 L1662.18,1175.83 L1662.78,1175.4 L1663.38,1175.01 L1663.97,1174.66 L1664.57,1174.37 L1665.17,1174.16 L1665.76,1174.03 L1666.36,1174 L1666.96,1174.13 L1667.55,1174.4 L1668.15,1174.81 L1668.75,1175.32 L1669.34,1175.9 L1669.94,1176.54 L1670.54,1177.2 L1671.13,1177.85 L1671.73,1178.48 L1672.33,1179.05 L1672.92,1179.55 L1673.52,1180.02 L1674.12,1180.53 L1674.71,1181.04 L1675.31,1181.54 L1675.91,1182.03 L1676.5,1182.47 L1677.1,1182.87 L1677.7,1183.19 L1678.29,1183.43 L1678.89,1183.59 L1679.49,1183.73 L1680.08,1183.87 L1680.68,1184 L1681.28,1184.12 L1681.87,1184.23 L1682.47,1184.34 L1683.07,1184.43 L1683.66,1184.52 L1684.26,1184.6 L1684.86,1184.68 L1685.45,1184.75 L1686.05,1184.81 L1686.65,1184.86 L1687.24,1184.91 L1687.84,1184.95 L1688.44,1184.98 L1689.03,1185 L1689.63,1185.03 L1690.23,1185.05 L1690.82,1185.07 L1691.42,1185.09 L1692.02,1185.12 L1692.61,1185.14 L1693.21,1185.16 L1693.81,1185.18 L1694.4,1185.19 L1695,1185.21 L1695.6,1185.23 L1696.19,1185.25 L1696.79,1185.27 L1697.39,1185.28 L1697.98,1185.3 L1698.58,1185.31 L1699.18,1185.33 L1699.77,1185.34 L1700.37,1185.35 L1700.97,1185.37 L1701.56,1185.38 L1702.16,1185.39 L1702.76,1185.4 L1703.35,1185.41 L1703.95,1185.42 L1704.55,1185.43 L1705.14,1185.44 L1705.74,1185.45 L1706.34,1185.46 L1706.93,1185.46 L1707.53,1185.47 L1708.13,1185.48 L1708.72,1185.48 L1709.32,1185.48 L1709.92,1185.49 L1710.51,1185.49 L1711.11,1185.5 L1711.71,1185.5 L1712.3,1185.5 L1712.9,1185.5 L1713.49,1185.5" fill="none" stroke="#4545ee" stroke-width="5.1" stroke-dasharray="22 8 5 8" stroke-linejoin="round"/>
<rect x="871.5" y="688.5" width="850.5" height="510.5" fill="none" stroke="#000" stroke-width="2.6"/>
<text x="805.3" y="1198" font-family='"Liberation Sans", Arial, sans-serif' font-size="32.5" font-weight="bold" font-style="normal" fill="#000" text-anchor="start" textLength="51.5" lengthAdjust="spacingAndGlyphs">0.0</text>
<text x="805.3" y="1073" font-family='"Liberation Sans", Arial, sans-serif' font-size="32.5" font-weight="bold" font-style="normal" fill="#000" text-anchor="start" textLength="51.5" lengthAdjust="spacingAndGlyphs">0.5</text>
<text x="805.3" y="948" font-family='"Liberation Sans", Arial, sans-serif' font-size="32.5" font-weight="bold" font-style="normal" fill="#000" text-anchor="start" textLength="51.5" lengthAdjust="spacingAndGlyphs">1.0</text>
<text x="805.3" y="823" font-family='"Liberation Sans", Arial, sans-serif' font-size="32.5" font-weight="bold" font-style="normal" fill="#000" text-anchor="start" textLength="51.5" lengthAdjust="spacingAndGlyphs">1.5</text>
<text x="805.3" y="698" font-family='"Liberation Sans", Arial, sans-serif' font-size="32.5" font-weight="bold" font-style="normal" fill="#000" text-anchor="start" textLength="51.5" lengthAdjust="spacingAndGlyphs">2.0</text>
<text x="861.95" y="1241" font-family='"Liberation Sans", Arial, sans-serif' font-size="32.5" font-weight="bold" font-style="normal" fill="#000" text-anchor="start" textLength="19.1" lengthAdjust="spacingAndGlyphs">0</text>
<text x="993.7" y="1241" font-family='"Liberation Sans", Arial, sans-serif' font-size="32.5" font-weight="bold" font-style="normal" fill="#000" text-anchor="start" textLength="39.1" lengthAdjust="spacingAndGlyphs">15</text>
<text x="1135.45" y="1241" font-family='"Liberation Sans", Arial, sans-serif' font-size="32.5" font-weight="bold" font-style="normal" fill="#000" text-anchor="start" textLength="39.1" lengthAdjust="spacingAndGlyphs">30</text>
<text x="1277.2" y="1241" font-family='"Liberation Sans", Arial, sans-serif' font-size="32.5" font-weight="bold" font-style="normal" fill="#000" text-anchor="start" textLength="39.1" lengthAdjust="spacingAndGlyphs">45</text>
<text x="1418.95" y="1241" font-family='"Liberation Sans", Arial, sans-serif' font-size="32.5" font-weight="bold" font-style="normal" fill="#000" text-anchor="start" textLength="39.1" lengthAdjust="spacingAndGlyphs">60</text>
<text x="1560.7" y="1241" font-family='"Liberation Sans", Arial, sans-serif' font-size="32.5" font-weight="bold" font-style="normal" fill="#000" text-anchor="start" textLength="39.1" lengthAdjust="spacingAndGlyphs">75</text>
<text x="1702.45" y="1241" font-family='"Liberation Sans", Arial, sans-serif' font-size="32.5" font-weight="bold" font-style="normal" fill="#000" text-anchor="start" textLength="39.1" lengthAdjust="spacingAndGlyphs">90</text>
<text x="1292" y="1279.5" font-family='"Liberation Sans", Arial, sans-serif' font-size="30.5" font-weight="bold" font-style="normal" fill="#000" text-anchor="middle" textLength="296" lengthAdjust="spacingAndGlyphs">Twisted angle <tspan font-style="italic" font-family='"DejaVu Serif Condensed","DejaVu Serif",serif' font-size="29">φ</tspan> <tspan font-weight="normal">(°)</tspan></text>
<text x="0" y="0" font-family='"Liberation Sans", Arial, sans-serif' font-size="35.5" font-weight="bold" font-style="normal" fill="#000" text-anchor="middle" transform="translate(792.5 966.4) rotate(-90)" textLength="395.5" lengthAdjust="spacingAndGlyphs">Normalized wavenumber</text>
<text x="749" y="707" font-family='"Liberation Sans", Arial, sans-serif' font-size="37" font-weight="bold" font-style="normal" fill="#000" text-anchor="start" >e</text>
<line x1="922" y1="723.75" x2="996.5" y2="723.75" stroke="#f9555a" stroke-width="4.8" stroke-linecap="round"/>
<line x1="922" y1="764.5" x2="996.5" y2="764.5" stroke="#4a4af2" stroke-width="4.8" stroke-linecap="round"/>
<text x="1014.5" y="731" font-family='"Liberation Serif", "DejaVu Serif", serif' font-size="31" font-weight="normal" font-style="normal" fill="#000" text-anchor="start" textLength="95" lengthAdjust="spacingAndGlyphs"><tspan font-weight="bold" font-family='"Liberation Sans", Arial, sans-serif' font-size="26.04" dy="-1.24">|</tspan><tspan font-weight="bold" font-family='"Liberation Serif", "DejaVu Serif", serif' font-size="31" dy="1.24">k</tspan><tspan font-size="23" dy="5.27">moire</tspan><tspan font-weight="bold" font-family='"Liberation Sans", Arial, sans-serif' font-size="26.04" dy="-6.51"> |</tspan></text>
<text x="1022.5" y="772.5" font-family='"Liberation Serif", "DejaVu Serif", serif' font-size="31" font-weight="normal" font-style="normal" fill="#000" text-anchor="start" textLength="79.5" lengthAdjust="spacingAndGlyphs"><tspan font-weight="bold" font-family='"Liberation Sans", Arial, sans-serif' font-size="26.04" dy="-1.24">|</tspan><tspan font-weight="bold" font-family='"Liberation Serif", "DejaVu Serif", serif' font-size="31" dy="1.24">k</tspan><tspan font-size="23" dy="5.27">mo d</tspan><tspan font-weight="bold" font-family='"Liberation Sans", Arial, sans-serif' font-size="26.04" dy="-6.51">|</tspan></text>
<defs><linearGradient id="eg" x1="0" y1="0" x2="0" y2="1"><stop offset="0" stop-color="#fdfdfd"/><stop offset="1" stop-color="#bdbdbd"/></linearGradient></defs>
<path d="M1430.13,867.63 L1430.45,867.63 L1430.76,867.63 L1431.07,867.63 L1431.38,867.63 L1431.69,867.63 L1432,867.63 L1432.31,867.63 L1432.62,867.63 L1432.93,867.63 L1433.24,867.63 L1433.56,867.63 L1433.87,867.63 L1434.18,867.63 L1434.49,867.63 L1434.8,867.63 L1435.11,867.63 L1435.42,867.63 L1435.73,867.63 L1436.04,867.63 L1436.35,867.63 L1436.67,867.63 L1436.98,867.63 L1437.29,867.63 L1437.6,867.63 L1437.91,867.63 L1438.22,867.63 L1438.53,867.63 L1438.84,867.6 L1439.15,867.55 L1439.47,867.46 L1439.78,867.35 L1440.09,867.23 L1440.4,867.1 L1440.71,866.95 L1441.02,866.81 L1441.33,866.67 L1441.64,866.54 L1441.95,866.39 L1442.26,866.21 L1442.58,866.02 L1442.89,865.81 L1443.2,865.59 L1443.51,865.37 L1443.82,865.16 L1444.13,864.97 L1444.44,864.8 L1444.75,864.65 L1445.06,864.55 L1445.37,864.49 L1445.69,864.47 L1446,864.51 L1446.31,864.6 L1446.62,864.71 L1446.93,864.86 L1447.24,865.03 L1447.55,865.21 L1447.86,865.41 L1448.17,865.6 L1448.49,865.78 L1448.8,865.95 L1449.11,866.1 L1449.42,866.23 L1449.73,866.38 L1450.04,866.53 L1450.35,866.69 L1450.66,866.83 L1450.97,866.95 L1451.28,867.05 L1451.6,867.11 L1451.91,867.13 L1452.22,867 L1452.53,866.69 L1452.84,866.24 L1453.15,865.71 L1453.46,865.16 L1453.77,864.57 L1454.08,863.69 L1454.39,862.75 L1454.71,862.1 L1455.02,862.03 L1455.33,862.5 L1455.64,863.26 L1455.95,864.05 L1456.26,864.69 L1456.57,865.35 L1456.88,865.99 L1457.19,866.44 L1457.51,866.53 L1457.82,866.2 L1458.13,865.55 L1458.44,864.72 L1458.75,863.83 L1459.06,863.02 L1459.37,862.27 L1459.68,861.39 L1459.99,860.55 L1460.3,859.93 L1460.62,859.73 L1460.93,860.07 L1461.24,860.78 L1461.55,861.66 L1461.86,862.5 L1462.17,863.18 L1462.48,863.93 L1462.79,864.67 L1463.1,865.29 L1463.41,865.66 L1463.73,865.68 L1464.04,865.34 L1464.35,864.74 L1464.66,863.95 L1464.97,863.05 L1465.28,862.12 L1465.59,861.25 L1465.9,860.31 L1466.21,859.11 L1466.53,857.84 L1466.84,856.67 L1467.15,855.77 L1467.46,855.34 L1467.77,855.63 L1468.08,856.77 L1468.39,858.42 L1468.7,860.23 L1469.01,861.86 L1469.32,862.97 L1469.64,863.85 L1469.95,864.72 L1470.26,865.53 L1470.57,866.26 L1470.88,866.86 L1471.19,867.3 L1471.5,867.53 L1471.81,867.55 L1472.12,867.55 L1472.43,867.55 L1472.75,867.55 L1473.06,867.55 L1473.37,867.55 L1473.68,867.55 L1473.99,867.55 L1474.3,867.55 L1474.61,867.55 L1474.92,867.55 L1475.23,867.55 L1475.55,867.55 L1475.86,867.55 L1476.17,867.49 L1476.48,866.65 L1476.79,865.08 L1477.1,863.08 L1477.41,860.96 L1477.72,858.98 L1478.03,856.45 L1478.34,853.52 L1478.66,850.78 L1478.97,848.84 L1479.28,848.27 L1479.59,849.33 L1479.9,851.54 L1480.21,854.35 L1480.52,857.22 L1480.83,859.59 L1481.14,861.19 L1481.46,862.73 L1481.77,864.18 L1482.08,865.4 L1482.39,866.24 L1482.7,866.55 L1483.01,866.37 L1483.32,865.87 L1483.63,865.11 L1483.94,864.16 L1484.25,863.07 L1484.57,861.91 L1484.88,860.74 L1485.19,859.63 L1485.5,858.42 L1485.81,856.87 L1486.12,855.14 L1486.43,853.36 L1486.74,851.67 L1487.05,850.24 L1487.36,849.2 L1487.68,848.69 L1487.99,848.78 L1488.3,849.29 L1488.61,850.11 L1488.92,851.18 L1489.23,852.42 L1489.54,853.74 L1489.85,855.07 L1490.16,856.32 L1490.48,857.42 L1490.79,858.35 L1491.1,859.28 L1491.41,860.21 L1491.72,861.11 L1492.03,861.96 L1492.34,862.72 L1492.65,863.36 L1492.96,863.87 L1493.27,864.37 L1493.59,864.85 L1493.9,865.29 L1494.21,865.66 L1494.52,865.94 L1494.83,866.1 L1495.14,866.11 L1495.45,865.76 L1495.76,865.06 L1496.07,864.11 L1496.38,862.96 L1496.7,861.71 L1497.01,860.42 L1497.32,859.16 L1497.63,857.4 L1497.94,855.2 L1498.25,852.92 L1498.56,850.9 L1498.87,849.51 L1499.18,849.1 L1499.5,850.35 L1499.81,852.96 L1500.12,856.15 L1500.43,859.16 L1500.74,861.24 L1501.05,862.71 L1501.36,864.14 L1501.67,865.39 L1501.98,866.35 L1502.29,866.89 L1502.61,866.94 L1502.92,866.72 L1503.23,866.32 L1503.54,865.79 L1503.85,865.18 L1504.16,864.53 L1504.47,863.9 L1504.78,863.33 L1505.09,862.87 L1505.4,862.5 L1505.72,862.11 L1506.03,861.72 L1506.34,861.34 L1506.65,860.98 L1506.96,860.65 L1507.27,860.36 L1507.58,860.14 L1507.89,859.98 L1508.2,859.9 L1508.52,859.92 L1508.83,860.05 L1509.14,860.26 L1509.45,860.51 L1509.76,860.78 L1510.07,861.04 L1510.38,861.29 L1510.69,861.6 L1511,861.92 L1511.31,862.2 L1511.63,862.37 L1511.94,862.31 L1512.25,861.66 L1512.56,860.5 L1512.87,858.97 L1513.18,857.22 L1513.49,855.25 L1513.8,852.14 L1514.11,848.15 L1514.42,843.91 L1514.74,839.99 L1515.05,836.89 L1515.36,833.8 L1515.67,830.84 L1515.98,828.5 L1516.29,827.33 L1516.6,827.86 L1516.91,830.04 L1517.22,833.24 L1517.54,836.8 L1517.85,840.1 L1518.16,843.74 L1518.47,847.84 L1518.78,851.92 L1519.09,855.47 L1519.4,858.03 L1519.71,860.05 L1520.02,861.99 L1520.33,863.77 L1520.65,865.29 L1520.96,866.49 L1521.27,867.27 L1521.58,867.55 L1521.89,867.53 L1522.2,867.47 L1522.51,867.37 L1522.82,867.24 L1523.13,867.07 L1523.45,866.88 L1523.76,866.67 L1524.07,866.43 L1524.38,866.18 L1524.69,865.82 L1525,865.26 L1525.31,864.54 L1525.62,863.74 L1525.93,862.92 L1526.24,862.15 L1526.56,861.39 L1526.87,860.49 L1527.18,859.62 L1527.49,859 L1527.8,858.82 L1528.11,859.23 L1528.42,860.09 L1528.73,861.2 L1529.04,862.35 L1529.35,863.33 L1529.67,864.04 L1529.98,864.74 L1530.29,865.44 L1530.6,866.1 L1530.91,866.66 L1531.22,867.09 L1531.53,867.34 L1531.84,867.39 L1532.15,867.41 L1532.47,867.43 L1532.78,867.44 L1533.09,867.45 L1533.4,867.47 L1533.71,867.48 L1534.02,867.49 L1534.33,867.5 L1534.64,867.51 L1534.95,867.51 L1535.26,867.52 L1535.58,867.53 L1535.89,867.53 L1536.2,867.54 L1536.51,867.54 L1536.82,867.54 L1537.13,867.55 L1537.44,867.55 L1537.75,867.55 L1538.06,867.55 L1538.37,867.55 L1538.69,867.41 L1539,867.04 L1539.31,866.45 L1539.62,865.65 L1539.93,864.62 L1540.24,863.37 L1540.55,858.92 L1540.86,850.49 L1541.17,840.87 L1541.49,832.42 L1541.8,824.25 L1542.11,815.78 L1542.42,806.82 L1542.73,797.15 L1543.04,786.58 L1543.35,775.27 L1543.66,763.27 L1543.97,746.86 L1544.28,731.4 L1544.6,726.75 L1544.91,736.98 L1545.22,754 L1545.53,768.52 L1545.84,780.74 L1546.15,792.47 L1546.46,803.49 L1546.77,814.17 L1547.08,824.34 L1547.39,833.45 L1547.71,841.54 L1548.02,849.63 L1548.33,856.67 L1548.64,861.49 L1548.95,863.56 L1549.26,865.05 L1549.57,866.14 L1549.88,866.73 L1550.19,866.78 L1550.51,866.62 L1550.82,866.35 L1551.13,866.03 L1551.44,865.7 L1551.75,865.42 L1552.06,865.23 L1552.37,865.04 L1552.68,864.86 L1552.99,864.7 L1553.3,864.57 L1553.62,864.49 L1553.93,864.47 L1554.24,864.51 L1554.55,864.59 L1554.86,864.71 L1555.17,864.85 L1555.48,865.01 L1555.79,865.18 L1556.1,865.36 L1556.41,865.53 L1556.73,865.7 L1557.04,865.86 L1557.35,865.99 L1557.66,866.12 L1557.97,866.26 L1558.28,866.4 L1558.59,866.55 L1558.9,866.7 L1559.21,866.84 L1559.53,866.98 L1559.84,867.11 L1560.15,867.23 L1560.46,867.34 L1560.77,867.42 L1561.08,867.49 L1561.39,867.53 L1561.7,867.55 L1562.01,867.31 L1562.32,866.57 L1562.64,865.48 L1562.95,864.17 L1563.26,862.75 L1563.57,861.37 L1563.88,859.84 L1564.19,857.79 L1564.5,855.58 L1564.81,853.57 L1565.12,852.11 L1565.43,851.58 L1565.75,852.28 L1566.06,854 L1566.37,856.27 L1566.68,858.63 L1566.99,860.62 L1567.3,862.03 L1567.61,863.46 L1567.92,864.84 L1568.23,866.06 L1568.55,866.98 L1568.86,867.49 L1569.17,867.55 L1569.48,867.55 L1569.79,867.55 L1570.1,867.55 L1570.41,867.55 L1570.72,867.55 L1571.03,867.49 L1571.34,866.98 L1571.66,866.06 L1571.97,864.84 L1572.28,863.46 L1572.59,862.03 L1572.9,860.62 L1573.21,858.63 L1573.52,856.27 L1573.83,854 L1574.14,852.28 L1574.46,851.58 L1574.77,852.11 L1575.08,853.57 L1575.39,855.58 L1575.7,857.79 L1576.01,859.84 L1576.32,861.37 L1576.63,862.75 L1576.94,864.17 L1577.25,865.48 L1577.57,866.57 L1577.88,867.31 L1578.19,867.55 L1578.5,867.53 L1578.81,867.49 L1579.12,867.42 L1579.43,867.34 L1579.74,867.23 L1580.05,867.11 L1580.36,866.98 L1580.68,866.84 L1580.99,866.7 L1581.3,866.55 L1581.61,866.4 L1581.92,866.26 L1582.23,866.12 L1582.54,865.99 L1582.85,865.86 L1583.16,865.7 L1583.48,865.53 L1583.79,865.36 L1584.1,865.18 L1584.41,865.01 L1584.72,864.85 L1585.03,864.71 L1585.34,864.59 L1585.65,864.51 L1585.96,864.47 L1586.27,864.49 L1586.59,864.57 L1586.9,864.7 L1587.21,864.86 L1587.52,865.04 L1587.83,865.23 L1588.14,865.42 L1588.45,865.7 L1588.76,866.03 L1589.07,866.35 L1589.38,866.62 L1589.7,866.78 L1590.01,866.73 L1590.32,866.14 L1590.63,865.05 L1590.94,863.56 L1591.25,861.49 L1591.56,856.67 L1591.87,849.63 L1592.18,841.54 L1592.5,833.45 L1592.81,824.34 L1593.12,814.17 L1593.43,803.49 L1593.74,792.47 L1594.05,780.74 L1594.36,768.52 L1594.67,754 L1594.98,736.98 L1595.29,726.75 L1595.61,731.4 L1595.92,746.86 L1596.23,763.27 L1596.54,775.27 L1596.85,786.58 L1597.16,797.15 L1597.47,806.82 L1597.78,815.78 L1598.09,824.25 L1598.4,832.42 L1598.72,840.87 L1599.03,850.49 L1599.34,858.92 L1599.65,863.37 L1599.96,864.62 L1600.27,865.65 L1600.58,866.45 L1600.89,867.04 L1601.2,867.41 L1601.52,867.55 L1601.83,867.55 L1602.14,867.55 L1602.45,867.55 L1602.76,867.55 L1603.07,867.54 L1603.38,867.54 L1603.69,867.54 L1604,867.53 L1604.31,867.53 L1604.63,867.52 L1604.94,867.51 L1605.25,867.51 L1605.56,867.5 L1605.87,867.49 L1606.18,867.48 L1606.49,867.47 L1606.8,867.45 L1607.11,867.44 L1607.42,867.43 L1607.74,867.41 L1608.05,867.39 L1608.36,867.34 L1608.67,867.09 L1608.98,866.66 L1609.29,866.1 L1609.6,865.44 L1609.91,864.74 L1610.22,864.04 L1610.54,863.33 L1610.85,862.35 L1611.16,861.2 L1611.47,860.09 L1611.78,859.23 L1612.09,858.82 L1612.4,859 L1612.71,859.62 L1613.02,860.49 L1613.33,861.39 L1613.65,862.15 L1613.96,862.92 L1614.27,863.74 L1614.58,864.54 L1614.89,865.26 L1615.2,865.82 L1615.51,866.18 L1615.82,866.43 L1616.13,866.67 L1616.44,866.88 L1616.76,867.07 L1617.07,867.24 L1617.38,867.37 L1617.69,867.47 L1618,867.53 L1618.31,867.55 L1618.62,867.27 L1618.93,866.49 L1619.24,865.29 L1619.56,863.77 L1619.87,861.99 L1620.18,860.05 L1620.49,858.03 L1620.8,855.47 L1621.11,851.92 L1621.42,847.84 L1621.73,843.74 L1622.04,840.1 L1622.35,836.8 L1622.67,833.24 L1622.98,830.04 L1623.29,827.86 L1623.6,827.33 L1623.91,828.5 L1624.22,830.84 L1624.53,833.8 L1624.84,836.89 L1625.15,839.99 L1625.47,843.91 L1625.78,848.15 L1626.09,852.14 L1626.4,855.25 L1626.71,857.22 L1627.02,858.97 L1627.33,860.5 L1627.64,861.66 L1627.95,862.31 L1628.26,862.37 L1628.58,862.2 L1628.89,861.92 L1629.2,861.6 L1629.51,861.29 L1629.82,861.04 L1630.13,860.78 L1630.44,860.51 L1630.75,860.26 L1631.06,860.05 L1631.37,859.92 L1631.69,859.9 L1632,859.98 L1632.31,860.14 L1632.62,860.36 L1632.93,860.65 L1633.24,860.98 L1633.55,861.34 L1633.86,861.72 L1634.17,862.11 L1634.49,862.5 L1634.8,862.87 L1635.11,863.33 L1635.42,863.9 L1635.73,864.53 L1636.04,865.18 L1636.35,865.79 L1636.66,866.32 L1636.97,866.72 L1637.28,866.94 L1637.6,866.89 L1637.91,866.35 L1638.22,865.39 L1638.53,864.14 L1638.84,862.71 L1639.15,861.24 L1639.46,859.16 L1639.77,856.15 L1640.08,852.96 L1640.39,850.35 L1640.71,849.1 L1641.02,849.51 L1641.33,850.9 L1641.64,852.92 L1641.95,855.2 L1642.26,857.4 L1642.57,859.16 L1642.88,860.42 L1643.19,861.71 L1643.51,862.96 L1643.82,864.11 L1644.13,865.06 L1644.44,865.76 L1644.75,866.11 L1645.06,866.1 L1645.37,865.94 L1645.68,865.66 L1645.99,865.29 L1646.3,864.85 L1646.62,864.37 L1646.93,863.87 L1647.24,863.36 L1647.55,862.72 L1647.86,861.96 L1648.17,861.11 L1648.48,860.21 L1648.79,859.28 L1649.1,858.35 L1649.41,857.42 L1649.73,856.32 L1650.04,855.07 L1650.35,853.74 L1650.66,852.42 L1650.97,851.18 L1651.28,850.11 L1651.59,849.29 L1651.9,848.78 L1652.21,848.69 L1652.53,849.2 L1652.84,850.24 L1653.15,851.67 L1653.46,853.36 L1653.77,855.14 L1654.08,856.87 L1654.39,858.42 L1654.7,859.63 L1655.01,860.74 L1655.32,861.91 L1655.64,863.07 L1655.95,864.16 L1656.26,865.11 L1656.57,865.87 L1656.88,866.37 L1657.19,866.55 L1657.5,866.24 L1657.81,865.4 L1658.12,864.18 L1658.43,862.73 L1658.75,861.19 L1659.06,859.59 L1659.37,857.22 L1659.68,854.35 L1659.99,851.54 L1660.3,849.33 L1660.61,848.27 L1660.92,848.84 L1661.23,850.78 L1661.55,853.52 L1661.86,856.45 L1662.17,858.98 L1662.48,860.96 L1662.79,863.08 L1663.1,865.08 L1663.41,866.65 L1663.72,867.49 L1664.03,867.55 L1664.34,867.55 L1664.66,867.55 L1664.97,867.55 L1665.28,867.55 L1665.59,867.55 L1665.9,867.55 L1666.21,867.55 L1666.52,867.55 L1666.83,867.55 L1667.14,867.55 L1667.46,867.55 L1667.77,867.55 L1668.08,867.55 L1668.39,867.53 L1668.7,867.3 L1669.01,866.86 L1669.32,866.26 L1669.63,865.53 L1669.94,864.72 L1670.25,863.85 L1670.57,862.97 L1670.88,861.86 L1671.19,860.23 L1671.5,858.42 L1671.81,856.77 L1672.12,855.63 L1672.43,855.34 L1672.74,855.77 L1673.05,856.67 L1673.36,857.84 L1673.68,859.11 L1673.99,860.31 L1674.3,861.25 L1674.61,862.12 L1674.92,863.05 L1675.23,863.95 L1675.54,864.74 L1675.85,865.34 L1676.16,865.68 L1676.48,865.66 L1676.79,865.29 L1677.1,864.67 L1677.41,863.93 L1677.72,863.18 L1678.03,862.5 L1678.34,861.66 L1678.65,860.78 L1678.96,860.07 L1679.27,859.73 L1679.59,859.93 L1679.9,860.55 L1680.21,861.39 L1680.52,862.27 L1680.83,863.02 L1681.14,863.83 L1681.45,864.72 L1681.76,865.55 L1682.07,866.2 L1682.38,866.53 L1682.7,866.44 L1683.01,865.99 L1683.32,865.35 L1683.63,864.69 L1683.94,864.05 L1684.25,863.26 L1684.56,862.5 L1684.87,862.03 L1685.18,862.1 L1685.5,862.75 L1685.81,863.69 L1686.12,864.57 L1686.43,865.16 L1686.74,865.71 L1687.05,866.24 L1687.36,866.69 L1687.67,867 L1687.98,867.13 L1688.29,867.11 L1688.61,867.05 L1688.92,866.95 L1689.23,866.83 L1689.54,866.69 L1689.85,866.53 L1690.16,866.38 L1690.47,866.23 L1690.78,866.1 L1691.09,865.95 L1691.4,865.78 L1691.72,865.6 L1692.03,865.41 L1692.34,865.21 L1692.65,865.03 L1692.96,864.86 L1693.27,864.71 L1693.58,864.6 L1693.89,864.51 L1694.2,864.47 L1694.52,864.49 L1694.83,864.55 L1695.14,864.65 L1695.45,864.8 L1695.76,864.97 L1696.07,865.16 L1696.38,865.37 L1696.69,865.59 L1697,865.81 L1697.31,866.02 L1697.63,866.21 L1697.94,866.39 L1698.25,866.54 L1698.56,866.67 L1698.87,866.81 L1699.18,866.95 L1699.49,867.1 L1699.8,867.23 L1700.11,867.35 L1700.42,867.46 L1700.74,867.55 L1701.05,867.6 L1701.36,867.63 L1701.67,867.63 L1701.98,867.63 L1702.29,867.63 L1702.6,867.63 L1702.91,867.63 L1703.22,867.63 L1703.54,867.63 L1703.85,867.63 L1704.16,867.63 L1704.47,867.63 L1704.78,867.63 L1705.09,867.63 L1705.4,867.63 L1705.71,867.63 L1706.02,867.63 L1706.33,867.63 L1706.65,867.63 L1706.96,867.63 L1707.27,867.63 L1707.58,867.63 L1707.89,867.63 L1708.2,867.63 L1708.51,867.63 L1708.82,867.63 L1709.13,867.63 L1709.44,867.63 L1709.76,867.63 L1709.76,872 L1430.13,872 Z" fill="#d6d6d6"/>
<path d="M1430.13,867.63 L1430.45,867.63 L1430.76,867.63 L1431.07,867.63 L1431.38,867.63 L1431.69,867.63 L1432,867.63 L1432.31,867.63 L1432.62,867.63 L1432.93,867.63 L1433.24,867.63 L1433.56,867.63 L1433.87,867.63 L1434.18,867.63 L1434.49,867.63 L1434.8,867.63 L1435.11,867.63 L1435.42,867.63 L1435.73,867.63 L1436.04,867.63 L1436.35,867.63 L1436.67,867.63 L1436.98,867.63 L1437.29,867.63 L1437.6,867.63 L1437.91,867.63 L1438.22,867.63 L1438.53,867.63 L1438.84,867.6 L1439.15,867.55 L1439.47,867.46 L1439.78,867.35 L1440.09,867.23 L1440.4,867.1 L1440.71,866.95 L1441.02,866.81 L1441.33,866.67 L1441.64,866.54 L1441.95,866.39 L1442.26,866.21 L1442.58,866.02 L1442.89,865.81 L1443.2,865.59 L1443.51,865.37 L1443.82,865.16 L1444.13,864.97 L1444.44,864.8 L1444.75,864.65 L1445.06,864.55 L1445.37,864.49 L1445.69,864.47 L1446,864.51 L1446.31,864.6 L1446.62,864.71 L1446.93,864.86 L1447.24,865.03 L1447.55,865.21 L1447.86,865.41 L1448.17,865.6 L1448.49,865.78 L1448.8,865.95 L1449.11,866.1 L1449.42,866.23 L1449.73,866.38 L1450.04,866.53 L1450.35,866.69 L1450.66,866.83 L1450.97,866.95 L1451.28,867.05 L1451.6,867.11 L1451.91,867.13 L1452.22,867 L1452.53,866.69 L1452.84,866.24 L1453.15,865.71 L1453.46,865.16 L1453.77,864.57 L1454.08,863.69 L1454.39,862.75 L1454.71,862.1 L1455.02,862.03 L1455.33,862.5 L1455.64,863.26 L1455.95,864.05 L1456.26,864.69 L1456.57,865.35 L1456.88,865.99 L1457.19,866.44 L1457.51,866.53 L1457.82,866.2 L1458.13,865.55 L1458.44,864.72 L1458.75,863.83 L1459.06,863.02 L1459.37,862.27 L1459.68,861.39 L1459.99,860.55 L1460.3,859.93 L1460.62,859.73 L1460.93,860.07 L1461.24,860.78 L1461.55,861.66 L1461.86,862.5 L1462.17,863.18 L1462.48,863.93 L1462.79,864.67 L1463.1,865.29 L1463.41,865.66 L1463.73,865.68 L1464.04,865.34 L1464.35,864.74 L1464.66,863.95 L1464.97,863.05 L1465.28,862.12 L1465.59,861.25 L1465.9,860.31 L1466.21,859.11 L1466.53,857.84 L1466.84,856.67 L1467.15,855.77 L1467.46,855.34 L1467.77,855.63 L1468.08,856.77 L1468.39,858.42 L1468.7,860.23 L1469.01,861.86 L1469.32,862.97 L1469.64,863.85 L1469.95,864.72 L1470.26,865.53 L1470.57,866.26 L1470.88,866.86 L1471.19,867.3 L1471.5,867.53 L1471.81,867.55 L1472.12,867.55 L1472.43,867.55 L1472.75,867.55 L1473.06,867.55 L1473.37,867.55 L1473.68,867.55 L1473.99,867.55 L1474.3,867.55 L1474.61,867.55 L1474.92,867.55 L1475.23,867.55 L1475.55,867.55 L1475.86,867.55 L1476.17,867.49 L1476.48,866.65 L1476.79,865.08 L1477.1,863.08 L1477.41,860.96 L1477.72,858.98 L1478.03,856.45 L1478.34,853.52 L1478.66,850.78 L1478.97,848.84 L1479.28,848.27 L1479.59,849.33 L1479.9,851.54 L1480.21,854.35 L1480.52,857.22 L1480.83,859.59 L1481.14,861.19 L1481.46,862.73 L1481.77,864.18 L1482.08,865.4 L1482.39,866.24 L1482.7,866.55 L1483.01,866.37 L1483.32,865.87 L1483.63,865.11 L1483.94,864.16 L1484.25,863.07 L1484.57,861.91 L1484.88,860.74 L1485.19,859.63 L1485.5,858.42 L1485.81,856.87 L1486.12,855.14 L1486.43,853.36 L1486.74,851.67 L1487.05,850.24 L1487.36,849.2 L1487.68,848.69 L1487.99,848.78 L1488.3,849.29 L1488.61,850.11 L1488.92,851.18 L1489.23,852.42 L1489.54,853.74 L1489.85,855.07 L1490.16,856.32 L1490.48,857.42 L1490.79,858.35 L1491.1,859.28 L1491.41,860.21 L1491.72,861.11 L1492.03,861.96 L1492.34,862.72 L1492.65,863.36 L1492.96,863.87 L1493.27,864.37 L1493.59,864.85 L1493.9,865.29 L1494.21,865.66 L1494.52,865.94 L1494.83,866.1 L1495.14,866.11 L1495.45,865.76 L1495.76,865.06 L1496.07,864.11 L1496.38,862.96 L1496.7,861.71 L1497.01,860.42 L1497.32,859.16 L1497.63,857.4 L1497.94,855.2 L1498.25,852.92 L1498.56,850.9 L1498.87,849.51 L1499.18,849.1 L1499.5,850.35 L1499.81,852.96 L1500.12,856.15 L1500.43,859.16 L1500.74,861.24 L1501.05,862.71 L1501.36,864.14 L1501.67,865.39 L1501.98,866.35 L1502.29,866.89 L1502.61,866.94 L1502.92,866.72 L1503.23,866.32 L1503.54,865.79 L1503.85,865.18 L1504.16,864.53 L1504.47,863.9 L1504.78,863.33 L1505.09,862.87 L1505.4,862.5 L1505.72,862.11 L1506.03,861.72 L1506.34,861.34 L1506.65,860.98 L1506.96,860.65 L1507.27,860.36 L1507.58,860.14 L1507.89,859.98 L1508.2,859.9 L1508.52,859.92 L1508.83,860.05 L1509.14,860.26 L1509.45,860.51 L1509.76,860.78 L1510.07,861.04 L1510.38,861.29 L1510.69,861.6 L1511,861.92 L1511.31,862.2 L1511.63,862.37 L1511.94,862.31 L1512.25,861.66 L1512.56,860.5 L1512.87,858.97 L1513.18,857.22 L1513.49,855.25 L1513.8,852.14 L1514.11,848.15 L1514.42,843.91 L1514.74,839.99 L1515.05,836.89 L1515.36,833.8 L1515.67,830.84 L1515.98,828.5 L1516.29,827.33 L1516.6,827.86 L1516.91,830.04 L1517.22,833.24 L1517.54,836.8 L1517.85,840.1 L1518.16,843.74 L1518.47,847.84 L1518.78,851.92 L1519.09,855.47 L1519.4,858.03 L1519.71,860.05 L1520.02,861.99 L1520.33,863.77 L1520.65,865.29 L1520.96,866.49 L1521.27,867.27 L1521.58,867.55 L1521.89,867.53 L1522.2,867.47 L1522.51,867.37 L1522.82,867.24 L1523.13,867.07 L1523.45,866.88 L1523.76,866.67 L1524.07,866.43 L1524.38,866.18 L1524.69,865.82 L1525,865.26 L1525.31,864.54 L1525.62,863.74 L1525.93,862.92 L1526.24,862.15 L1526.56,861.39 L1526.87,860.49 L1527.18,859.62 L1527.49,859 L1527.8,858.82 L1528.11,859.23 L1528.42,860.09 L1528.73,861.2 L1529.04,862.35 L1529.35,863.33 L1529.67,864.04 L1529.98,864.74 L1530.29,865.44 L1530.6,866.1 L1530.91,866.66 L1531.22,867.09 L1531.53,867.34 L1531.84,867.39 L1532.15,867.41 L1532.47,867.43 L1532.78,867.44 L1533.09,867.45 L1533.4,867.47 L1533.71,867.48 L1534.02,867.49 L1534.33,867.5 L1534.64,867.51 L1534.95,867.51 L1535.26,867.52 L1535.58,867.53 L1535.89,867.53 L1536.2,867.54 L1536.51,867.54 L1536.82,867.54 L1537.13,867.55 L1537.44,867.55 L1537.75,867.55 L1538.06,867.55 L1538.37,867.55 L1538.69,867.41 L1539,867.04 L1539.31,866.45 L1539.62,865.65 L1539.93,864.62 L1540.24,863.37 L1540.55,858.92 L1540.86,850.49 L1541.17,840.87 L1541.49,832.42 L1541.8,824.25 L1542.11,815.78 L1542.42,806.82 L1542.73,797.15 L1543.04,786.58 L1543.35,775.27 L1543.66,763.27 L1543.97,746.86 L1544.28,731.4 L1544.6,726.75 L1544.91,736.98 L1545.22,754 L1545.53,768.52 L1545.84,780.74 L1546.15,792.47 L1546.46,803.49 L1546.77,814.17 L1547.08,824.34 L1547.39,833.45 L1547.71,841.54 L1548.02,849.63 L1548.33,856.67 L1548.64,861.49 L1548.95,863.56 L1549.26,865.05 L1549.57,866.14 L1549.88,866.73 L1550.19,866.78 L1550.51,866.62 L1550.82,866.35 L1551.13,866.03 L1551.44,865.7 L1551.75,865.42 L1552.06,865.23 L1552.37,865.04 L1552.68,864.86 L1552.99,864.7 L1553.3,864.57 L1553.62,864.49 L1553.93,864.47 L1554.24,864.51 L1554.55,864.59 L1554.86,864.71 L1555.17,864.85 L1555.48,865.01 L1555.79,865.18 L1556.1,865.36 L1556.41,865.53 L1556.73,865.7 L1557.04,865.86 L1557.35,865.99 L1557.66,866.12 L1557.97,866.26 L1558.28,866.4 L1558.59,866.55 L1558.9,866.7 L1559.21,866.84 L1559.53,866.98 L1559.84,867.11 L1560.15,867.23 L1560.46,867.34 L1560.77,867.42 L1561.08,867.49 L1561.39,867.53 L1561.7,867.55 L1562.01,867.31 L1562.32,866.57 L1562.64,865.48 L1562.95,864.17 L1563.26,862.75 L1563.57,861.37 L1563.88,859.84 L1564.19,857.79 L1564.5,855.58 L1564.81,853.57 L1565.12,852.11 L1565.43,851.58 L1565.75,852.28 L1566.06,854 L1566.37,856.27 L1566.68,858.63 L1566.99,860.62 L1567.3,862.03 L1567.61,863.46 L1567.92,864.84 L1568.23,866.06 L1568.55,866.98 L1568.86,867.49 L1569.17,867.55 L1569.48,867.55 L1569.79,867.55 L1570.1,867.55 L1570.41,867.55 L1570.72,867.55 L1571.03,867.49 L1571.34,866.98 L1571.66,866.06 L1571.97,864.84 L1572.28,863.46 L1572.59,862.03 L1572.9,860.62 L1573.21,858.63 L1573.52,856.27 L1573.83,854 L1574.14,852.28 L1574.46,851.58 L1574.77,852.11 L1575.08,853.57 L1575.39,855.58 L1575.7,857.79 L1576.01,859.84 L1576.32,861.37 L1576.63,862.75 L1576.94,864.17 L1577.25,865.48 L1577.57,866.57 L1577.88,867.31 L1578.19,867.55 L1578.5,867.53 L1578.81,867.49 L1579.12,867.42 L1579.43,867.34 L1579.74,867.23 L1580.05,867.11 L1580.36,866.98 L1580.68,866.84 L1580.99,866.7 L1581.3,866.55 L1581.61,866.4 L1581.92,866.26 L1582.23,866.12 L1582.54,865.99 L1582.85,865.86 L1583.16,865.7 L1583.48,865.53 L1583.79,865.36 L1584.1,865.18 L1584.41,865.01 L1584.72,864.85 L1585.03,864.71 L1585.34,864.59 L1585.65,864.51 L1585.96,864.47 L1586.27,864.49 L1586.59,864.57 L1586.9,864.7 L1587.21,864.86 L1587.52,865.04 L1587.83,865.23 L1588.14,865.42 L1588.45,865.7 L1588.76,866.03 L1589.07,866.35 L1589.38,866.62 L1589.7,866.78 L1590.01,866.73 L1590.32,866.14 L1590.63,865.05 L1590.94,863.56 L1591.25,861.49 L1591.56,856.67 L1591.87,849.63 L1592.18,841.54 L1592.5,833.45 L1592.81,824.34 L1593.12,814.17 L1593.43,803.49 L1593.74,792.47 L1594.05,780.74 L1594.36,768.52 L1594.67,754 L1594.98,736.98 L1595.29,726.75 L1595.61,731.4 L1595.92,746.86 L1596.23,763.27 L1596.54,775.27 L1596.85,786.58 L1597.16,797.15 L1597.47,806.82 L1597.78,815.78 L1598.09,824.25 L1598.4,832.42 L1598.72,840.87 L1599.03,850.49 L1599.34,858.92 L1599.65,863.37 L1599.96,864.62 L1600.27,865.65 L1600.58,866.45 L1600.89,867.04 L1601.2,867.41 L1601.52,867.55 L1601.83,867.55 L1602.14,867.55 L1602.45,867.55 L1602.76,867.55 L1603.07,867.54 L1603.38,867.54 L1603.69,867.54 L1604,867.53 L1604.31,867.53 L1604.63,867.52 L1604.94,867.51 L1605.25,867.51 L1605.56,867.5 L1605.87,867.49 L1606.18,867.48 L1606.49,867.47 L1606.8,867.45 L1607.11,867.44 L1607.42,867.43 L1607.74,867.41 L1608.05,867.39 L1608.36,867.34 L1608.67,867.09 L1608.98,866.66 L1609.29,866.1 L1609.6,865.44 L1609.91,864.74 L1610.22,864.04 L1610.54,863.33 L1610.85,862.35 L1611.16,861.2 L1611.47,860.09 L1611.78,859.23 L1612.09,858.82 L1612.4,859 L1612.71,859.62 L1613.02,860.49 L1613.33,861.39 L1613.65,862.15 L1613.96,862.92 L1614.27,863.74 L1614.58,864.54 L1614.89,865.26 L1615.2,865.82 L1615.51,866.18 L1615.82,866.43 L1616.13,866.67 L1616.44,866.88 L1616.76,867.07 L1617.07,867.24 L1617.38,867.37 L1617.69,867.47 L1618,867.53 L1618.31,867.55 L1618.62,867.27 L1618.93,866.49 L1619.24,865.29 L1619.56,863.77 L1619.87,861.99 L1620.18,860.05 L1620.49,858.03 L1620.8,855.47 L1621.11,851.92 L1621.42,847.84 L1621.73,843.74 L1622.04,840.1 L1622.35,836.8 L1622.67,833.24 L1622.98,830.04 L1623.29,827.86 L1623.6,827.33 L1623.91,828.5 L1624.22,830.84 L1624.53,833.8 L1624.84,836.89 L1625.15,839.99 L1625.47,843.91 L1625.78,848.15 L1626.09,852.14 L1626.4,855.25 L1626.71,857.22 L1627.02,858.97 L1627.33,860.5 L1627.64,861.66 L1627.95,862.31 L1628.26,862.37 L1628.58,862.2 L1628.89,861.92 L1629.2,861.6 L1629.51,861.29 L1629.82,861.04 L1630.13,860.78 L1630.44,860.51 L1630.75,860.26 L1631.06,860.05 L1631.37,859.92 L1631.69,859.9 L1632,859.98 L1632.31,860.14 L1632.62,860.36 L1632.93,860.65 L1633.24,860.98 L1633.55,861.34 L1633.86,861.72 L1634.17,862.11 L1634.49,862.5 L1634.8,862.87 L1635.11,863.33 L1635.42,863.9 L1635.73,864.53 L1636.04,865.18 L1636.35,865.79 L1636.66,866.32 L1636.97,866.72 L1637.28,866.94 L1637.6,866.89 L1637.91,866.35 L1638.22,865.39 L1638.53,864.14 L1638.84,862.71 L1639.15,861.24 L1639.46,859.16 L1639.77,856.15 L1640.08,852.96 L1640.39,850.35 L1640.71,849.1 L1641.02,849.51 L1641.33,850.9 L1641.64,852.92 L1641.95,855.2 L1642.26,857.4 L1642.57,859.16 L1642.88,860.42 L1643.19,861.71 L1643.51,862.96 L1643.82,864.11 L1644.13,865.06 L1644.44,865.76 L1644.75,866.11 L1645.06,866.1 L1645.37,865.94 L1645.68,865.66 L1645.99,865.29 L1646.3,864.85 L1646.62,864.37 L1646.93,863.87 L1647.24,863.36 L1647.55,862.72 L1647.86,861.96 L1648.17,861.11 L1648.48,860.21 L1648.79,859.28 L1649.1,858.35 L1649.41,857.42 L1649.73,856.32 L1650.04,855.07 L1650.35,853.74 L1650.66,852.42 L1650.97,851.18 L1651.28,850.11 L1651.59,849.29 L1651.9,848.78 L1652.21,848.69 L1652.53,849.2 L1652.84,850.24 L1653.15,851.67 L1653.46,853.36 L1653.77,855.14 L1654.08,856.87 L1654.39,858.42 L1654.7,859.63 L1655.01,860.74 L1655.32,861.91 L1655.64,863.07 L1655.95,864.16 L1656.26,865.11 L1656.57,865.87 L1656.88,866.37 L1657.19,866.55 L1657.5,866.24 L1657.81,865.4 L1658.12,864.18 L1658.43,862.73 L1658.75,861.19 L1659.06,859.59 L1659.37,857.22 L1659.68,854.35 L1659.99,851.54 L1660.3,849.33 L1660.61,848.27 L1660.92,848.84 L1661.23,850.78 L1661.55,853.52 L1661.86,856.45 L1662.17,858.98 L1662.48,860.96 L1662.79,863.08 L1663.1,865.08 L1663.41,866.65 L1663.72,867.49 L1664.03,867.55 L1664.34,867.55 L1664.66,867.55 L1664.97,867.55 L1665.28,867.55 L1665.59,867.55 L1665.9,867.55 L1666.21,867.55 L1666.52,867.55 L1666.83,867.55 L1667.14,867.55 L1667.46,867.55 L1667.77,867.55 L1668.08,867.55 L1668.39,867.53 L1668.7,867.3 L1669.01,866.86 L1669.32,866.26 L1669.63,865.53 L1669.94,864.72 L1670.25,863.85 L1670.57,862.97 L1670.88,861.86 L1671.19,860.23 L1671.5,858.42 L1671.81,856.77 L1672.12,855.63 L1672.43,855.34 L1672.74,855.77 L1673.05,856.67 L1673.36,857.84 L1673.68,859.11 L1673.99,860.31 L1674.3,861.25 L1674.61,862.12 L1674.92,863.05 L1675.23,863.95 L1675.54,864.74 L1675.85,865.34 L1676.16,865.68 L1676.48,865.66 L1676.79,865.29 L1677.1,864.67 L1677.41,863.93 L1677.72,863.18 L1678.03,862.5 L1678.34,861.66 L1678.65,860.78 L1678.96,860.07 L1679.27,859.73 L1679.59,859.93 L1679.9,860.55 L1680.21,861.39 L1680.52,862.27 L1680.83,863.02 L1681.14,863.83 L1681.45,864.72 L1681.76,865.55 L1682.07,866.2 L1682.38,866.53 L1682.7,866.44 L1683.01,865.99 L1683.32,865.35 L1683.63,864.69 L1683.94,864.05 L1684.25,863.26 L1684.56,862.5 L1684.87,862.03 L1685.18,862.1 L1685.5,862.75 L1685.81,863.69 L1686.12,864.57 L1686.43,865.16 L1686.74,865.71 L1687.05,866.24 L1687.36,866.69 L1687.67,867 L1687.98,867.13 L1688.29,867.11 L1688.61,867.05 L1688.92,866.95 L1689.23,866.83 L1689.54,866.69 L1689.85,866.53 L1690.16,866.38 L1690.47,866.23 L1690.78,866.1 L1691.09,865.95 L1691.4,865.78 L1691.72,865.6 L1692.03,865.41 L1692.34,865.21 L1692.65,865.03 L1692.96,864.86 L1693.27,864.71 L1693.58,864.6 L1693.89,864.51 L1694.2,864.47 L1694.52,864.49 L1694.83,864.55 L1695.14,864.65 L1695.45,864.8 L1695.76,864.97 L1696.07,865.16 L1696.38,865.37 L1696.69,865.59 L1697,865.81 L1697.31,866.02 L1697.63,866.21 L1697.94,866.39 L1698.25,866.54 L1698.56,866.67 L1698.87,866.81 L1699.18,866.95 L1699.49,867.1 L1699.8,867.23 L1700.11,867.35 L1700.42,867.46 L1700.74,867.55 L1701.05,867.6 L1701.36,867.63 L1701.67,867.63 L1701.98,867.63 L1702.29,867.63 L1702.6,867.63 L1702.91,867.63 L1703.22,867.63 L1703.54,867.63 L1703.85,867.63 L1704.16,867.63 L1704.47,867.63 L1704.78,867.63 L1705.09,867.63 L1705.4,867.63 L1705.71,867.63 L1706.02,867.63 L1706.33,867.63 L1706.65,867.63 L1706.96,867.63 L1707.27,867.63 L1707.58,867.63 L1707.89,867.63 L1708.2,867.63 L1708.51,867.63 L1708.82,867.63 L1709.13,867.63 L1709.44,867.63 L1709.76,867.63" fill="none" stroke="#000" stroke-width="1.3" stroke-linejoin="round"/>
<line x1="1427.7" y1="701.5" x2="1712.2" y2="701.5" stroke="#7a7a7a" stroke-width="1.8" />
<line x1="1427.7" y1="701.5" x2="1427.7" y2="872" stroke="#000" stroke-width="1" />
<line x1="1427.2" y1="872" x2="1712.2" y2="872" stroke="#000" stroke-width="1.8" />
<line x1="1427.7" y1="872" x2="1427.7" y2="868.8" stroke="#000" stroke-width="0.8" />
<line x1="1451.41" y1="872" x2="1451.41" y2="870" stroke="#000" stroke-width="0.8" />
<line x1="1475.12" y1="872" x2="1475.12" y2="868.8" stroke="#000" stroke-width="0.8" />
<line x1="1498.82" y1="872" x2="1498.82" y2="870" stroke="#000" stroke-width="0.8" />
<line x1="1522.53" y1="872" x2="1522.53" y2="868.8" stroke="#000" stroke-width="0.8" />
<line x1="1546.24" y1="872" x2="1546.24" y2="870" stroke="#000" stroke-width="0.8" />
<line x1="1569.95" y1="872" x2="1569.95" y2="868.8" stroke="#000" stroke-width="0.8" />
<line x1="1593.65" y1="872" x2="1593.65" y2="870" stroke="#000" stroke-width="0.8" />
<line x1="1617.36" y1="872" x2="1617.36" y2="868.8" stroke="#000" stroke-width="0.8" />
<line x1="1641.07" y1="872" x2="1641.07" y2="870" stroke="#000" stroke-width="0.8" />
<line x1="1664.78" y1="872" x2="1664.78" y2="868.8" stroke="#000" stroke-width="0.8" />
<line x1="1688.48" y1="872" x2="1688.48" y2="870" stroke="#000" stroke-width="0.8" />
<line x1="1712.19" y1="872" x2="1712.19" y2="868.8" stroke="#000" stroke-width="0.8" />
<line x1="1427.7" y1="867.8" x2="1431.2" y2="867.8" stroke="#000" stroke-width="0.8" />
<line x1="1427.7" y1="847" x2="1429.7" y2="847" stroke="#000" stroke-width="0.8" />
<line x1="1427.7" y1="826.2" x2="1431.2" y2="826.2" stroke="#000" stroke-width="0.8" />
<line x1="1427.7" y1="805.4" x2="1429.7" y2="805.4" stroke="#000" stroke-width="0.8" />
<line x1="1427.7" y1="784.6" x2="1431.2" y2="784.6" stroke="#000" stroke-width="0.8" />
<line x1="1427.7" y1="763.8" x2="1429.7" y2="763.8" stroke="#000" stroke-width="0.8" />
<line x1="1427.7" y1="743" x2="1431.2" y2="743" stroke="#000" stroke-width="0.8" />
<line x1="1427.7" y1="722.2" x2="1429.7" y2="722.2" stroke="#000" stroke-width="0.8" />
<line x1="1427.7" y1="701.4" x2="1431.2" y2="701.4" stroke="#000" stroke-width="0.8" />
<text x="1409.2" y="870.7" font-family='"Liberation Sans", Arial, sans-serif' font-size="8.3" font-weight="bold" font-style="normal" fill="#000" text-anchor="start" textLength="14" lengthAdjust="spacingAndGlyphs">0.0</text>
<text x="1409.2" y="829.1" font-family='"Liberation Sans", Arial, sans-serif' font-size="8.3" font-weight="bold" font-style="normal" fill="#000" text-anchor="start" textLength="14" lengthAdjust="spacingAndGlyphs">0.5</text>
<text x="1409.2" y="787.5" font-family='"Liberation Sans", Arial, sans-serif' font-size="8.3" font-weight="bold" font-style="normal" fill="#000" text-anchor="start" textLength="14" lengthAdjust="spacingAndGlyphs">1.0</text>
<text x="1409.2" y="745.9" font-family='"Liberation Sans", Arial, sans-serif' font-size="8.3" font-weight="bold" font-style="normal" fill="#000" text-anchor="start" textLength="14" lengthAdjust="spacingAndGlyphs">1.5</text>
<text x="1409.2" y="704.3" font-family='"Liberation Sans", Arial, sans-serif' font-size="8.3" font-weight="bold" font-style="normal" fill="#000" text-anchor="start" textLength="14" lengthAdjust="spacingAndGlyphs">2.0</text>
<text x="1425.2" y="884.3" font-family='"Liberation Sans", Arial, sans-serif' font-size="8.3" font-weight="bold" font-style="normal" fill="#000" text-anchor="start" textLength="5.0" lengthAdjust="spacingAndGlyphs">0</text>
<text x="1469.82" y="884.3" font-family='"Liberation Sans", Arial, sans-serif' font-size="8.3" font-weight="bold" font-style="normal" fill="#000" text-anchor="start" textLength="10.6" lengthAdjust="spacingAndGlyphs">15</text>
<text x="1517.23" y="884.3" font-family='"Liberation Sans", Arial, sans-serif' font-size="8.3" font-weight="bold" font-style="normal" fill="#000" text-anchor="start" textLength="10.6" lengthAdjust="spacingAndGlyphs">30</text>
<text x="1564.65" y="884.3" font-family='"Liberation Sans", Arial, sans-serif' font-size="8.3" font-weight="bold" font-style="normal" fill="#000" text-anchor="start" textLength="10.6" lengthAdjust="spacingAndGlyphs">45</text>
<text x="1612.06" y="884.3" font-family='"Liberation Sans", Arial, sans-serif' font-size="8.3" font-weight="bold" font-style="normal" fill="#000" text-anchor="start" textLength="10.6" lengthAdjust="spacingAndGlyphs">60</text>
<text x="1659.48" y="884.3" font-family='"Liberation Sans", Arial, sans-serif' font-size="8.3" font-weight="bold" font-style="normal" fill="#000" text-anchor="start" textLength="10.6" lengthAdjust="spacingAndGlyphs">75</text>
<text x="1706.89" y="884.3" font-family='"Liberation Sans", Arial, sans-serif' font-size="8.3" font-weight="bold" font-style="normal" fill="#000" text-anchor="start" textLength="10.6" lengthAdjust="spacingAndGlyphs">90</text>
<text x="1569.5" y="899.8" font-family='"Liberation Sans", Arial, sans-serif' font-size="13.8" font-weight="bold" font-style="normal" fill="#000" text-anchor="middle" textLength="137" lengthAdjust="spacingAndGlyphs">Twisted angle <tspan font-style="italic" font-family='"DejaVu Serif Condensed","DejaVu Serif",serif' font-size="13">φ</tspan> <tspan font-weight="normal">(°)</tspan></text>
<text x="0" y="0" font-family='"Liberation Sans", Arial, sans-serif' font-size="15.2" font-weight="bold" font-style="normal" fill="#000" text-anchor="middle" transform="translate(1402.3 791.3) rotate(-90)" textLength="183.5" lengthAdjust="spacingAndGlyphs">Normalized wavenumber</text>
<rect x="1446" y="711.8" width="34" height="15.4" fill="url(#eg)"/>
<text x="1490" y="723" font-family='"Liberation Serif", "DejaVu Serif", serif' font-size="16.5" font-weight="normal" font-style="normal" fill="#000" text-anchor="start" textLength="40.5" lengthAdjust="spacingAndGlyphs"><tspan font-weight="bold" font-family='"Liberation Sans", Arial, sans-serif' font-size="13.86" dy="-0.66">|</tspan><tspan font-weight="bold" font-family='"Liberation Serif", "DejaVu Serif", serif' font-size="16.5" dy="0.66">k</tspan><tspan font-size="12" dy="2.81">ref</tspan><tspan font-weight="bold" font-family='"Liberation Sans", Arial, sans-serif' font-size="13.86" dy="-3.47">|</tspan></text>
</g>
</svg>
</body></html>
